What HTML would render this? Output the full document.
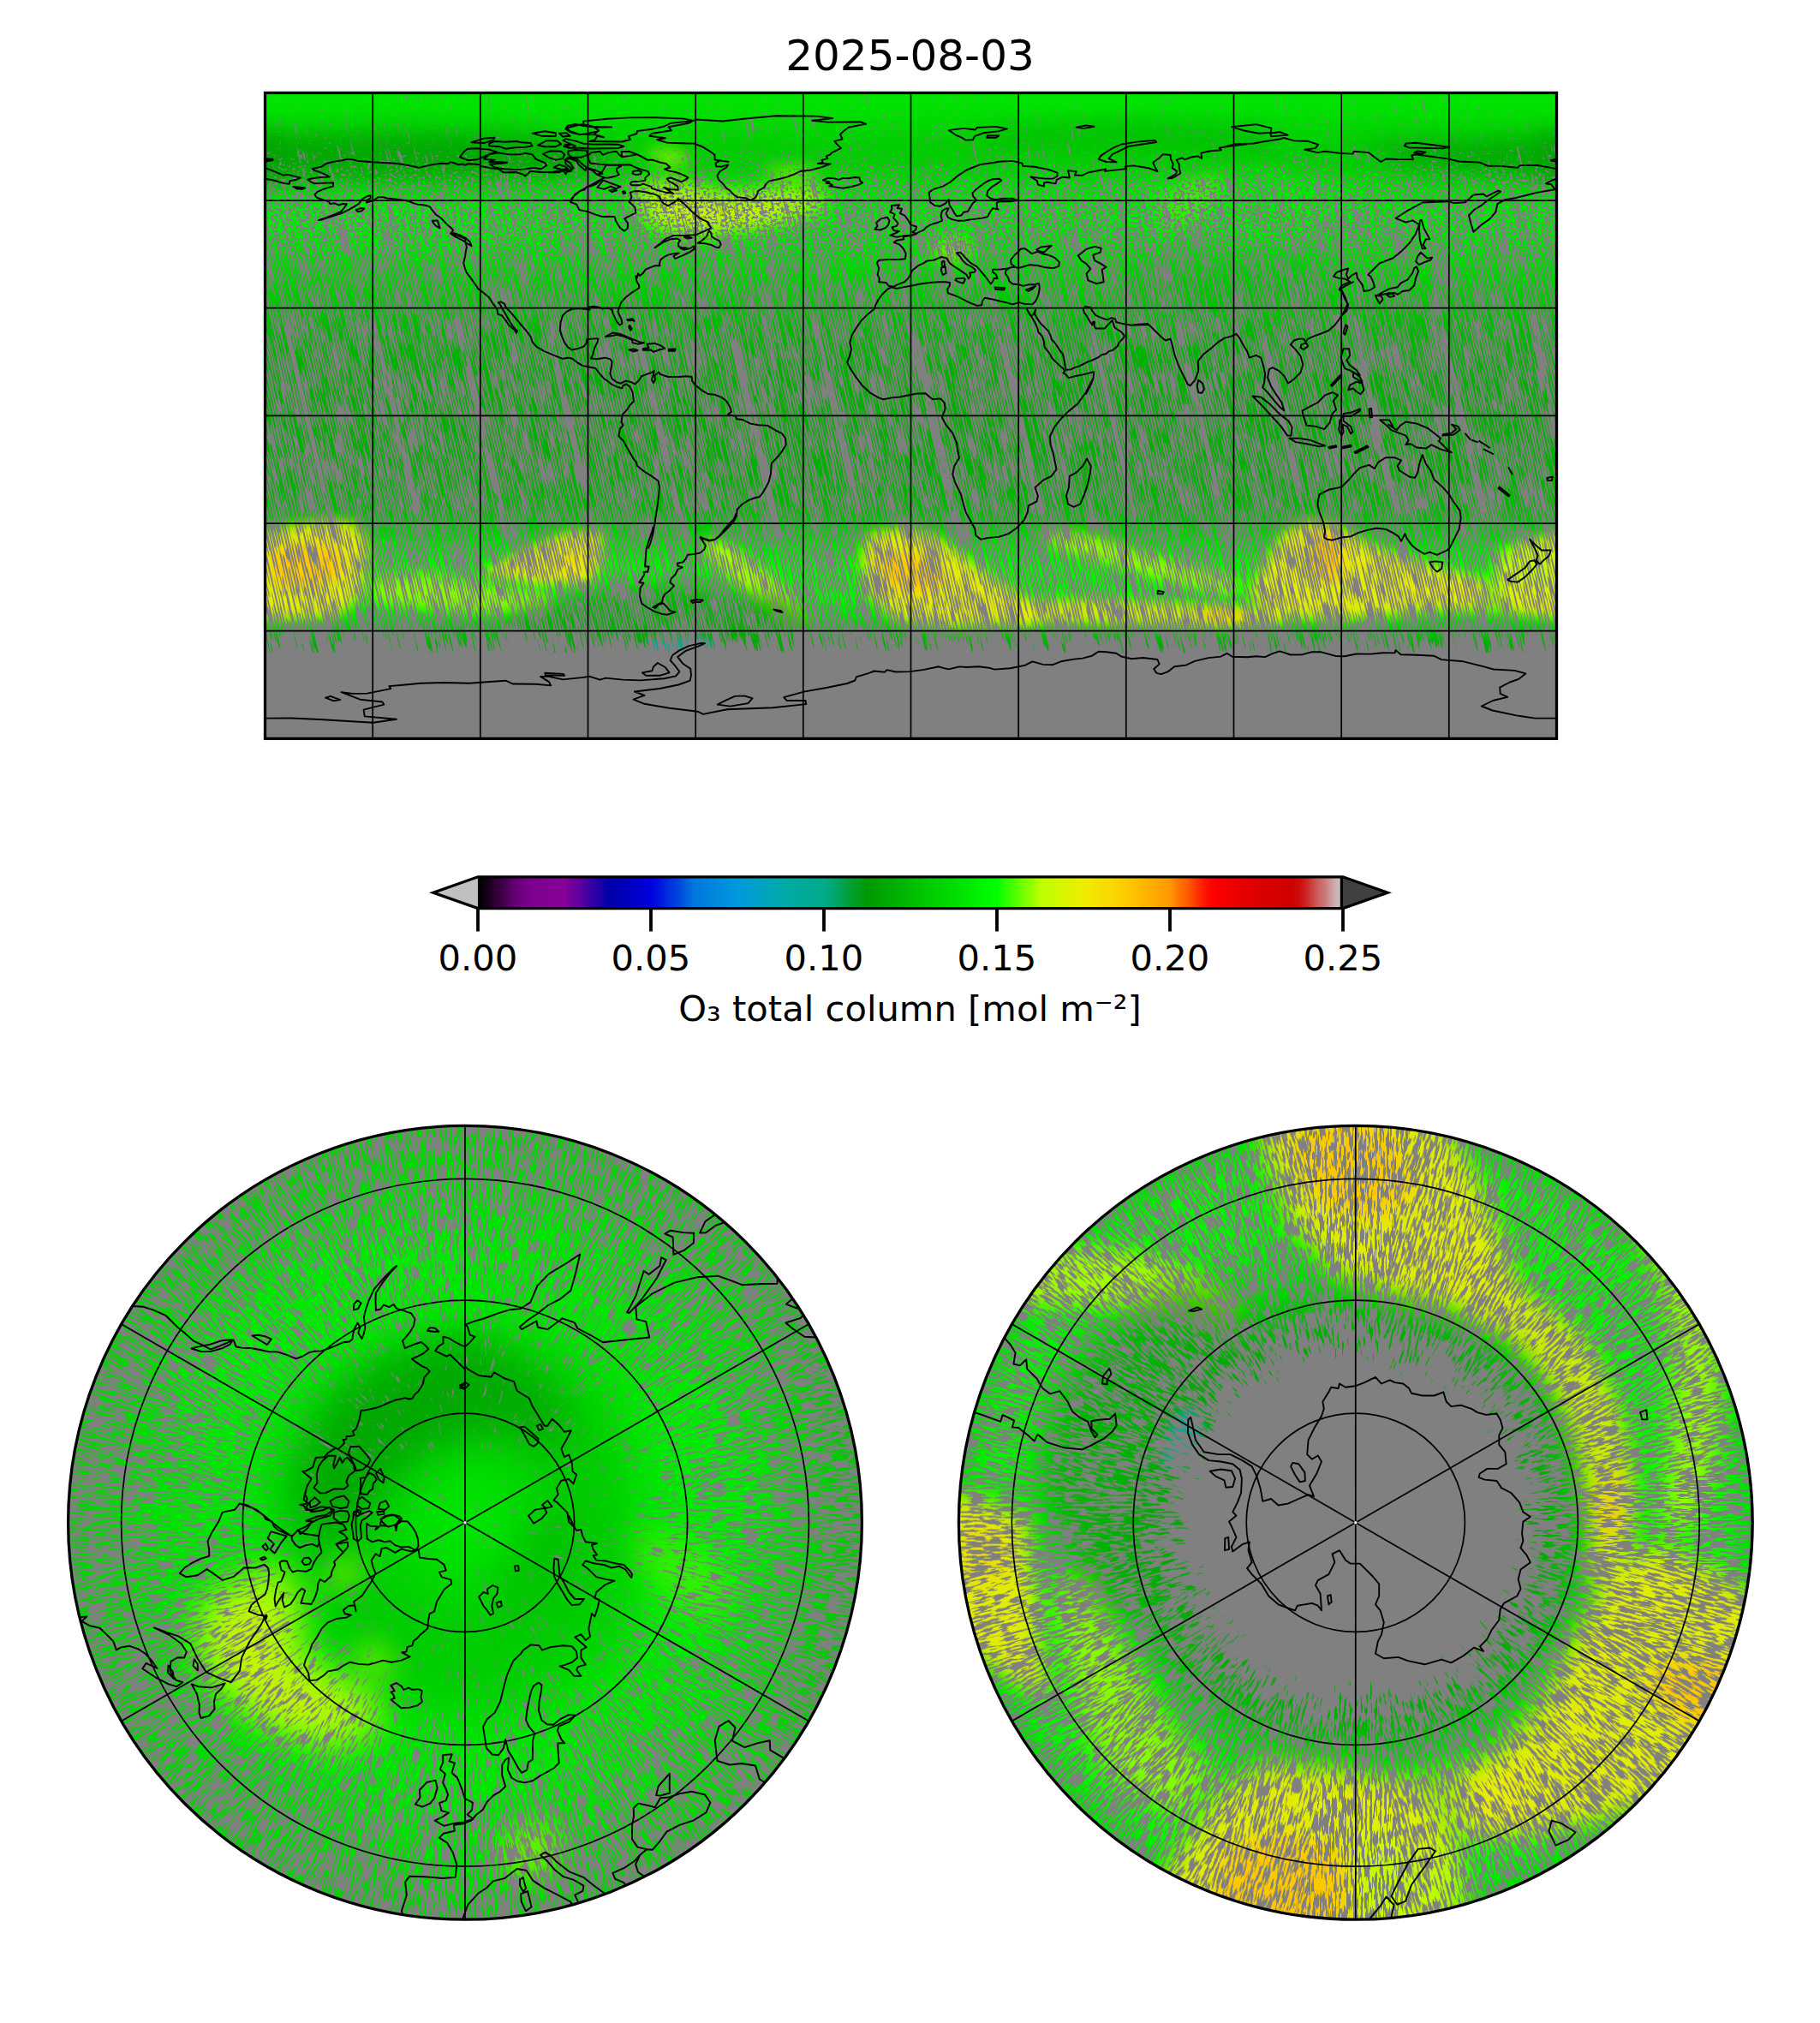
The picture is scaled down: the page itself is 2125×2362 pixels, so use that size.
<!DOCTYPE html>
<html lang="en"><head><meta charset="utf-8"><title>O3 total column 2025-08-03</title>
<style>html,body{margin:0;padding:0;background:#fff}svg{display:block}text{font-family:"DejaVu Sans","Liberation Sans",sans-serif;fill:#000}</style></head><body>
<svg width="2125" height="2362" viewBox="0 0 2125 2362">
<rect width="2125" height="2362" fill="#fff"/>
<defs><clipPath id="cm"><rect x="309.5" y="108.4" width="1508.0" height="754.0"/></clipPath>
<clipPath id="cn"><circle cx="543.0" cy="1777.8" r="463.4"/></clipPath>
<clipPath id="cs"><circle cx="1582.8" cy="1777.8" r="463.4"/></clipPath>
<linearGradient id="zm" x1="0" y1="0" x2="0" y2="1"><stop offset="0.0000" stop-color="#00e400"/><stop offset="0.0278" stop-color="#00e000"/><stop offset="0.0556" stop-color="#00d600"/><stop offset="0.0833" stop-color="#00cc00"/><stop offset="0.1111" stop-color="#00cc00"/><stop offset="0.1333" stop-color="#00d400"/><stop offset="0.1611" stop-color="#00e200"/><stop offset="0.1944" stop-color="#00e600"/><stop offset="0.2333" stop-color="#00e000"/><stop offset="0.2778" stop-color="#00d400"/><stop offset="0.3222" stop-color="#00c600"/><stop offset="0.3667" stop-color="#00b800"/><stop offset="0.4333" stop-color="#00b000"/><stop offset="0.5000" stop-color="#00ae00"/><stop offset="0.5833" stop-color="#00b000"/><stop offset="0.6444" stop-color="#00b800"/><stop offset="0.6722" stop-color="#00c800"/><stop offset="0.7000" stop-color="#00de00"/><stop offset="0.7333" stop-color="#08f000"/><stop offset="0.7778" stop-color="#08f000"/><stop offset="0.8111" stop-color="#00e000"/><stop offset="0.8333" stop-color="#00c400"/><stop offset="0.8556" stop-color="#00ac00"/><stop offset="1.0000" stop-color="#00a000"/></linearGradient>
<radialGradient id="zn" gradientUnits="userSpaceOnUse" cx="543.0" cy="1777.8" r="463.4"><stop offset="0.0000" stop-color="#00e400"/><stop offset="0.0913" stop-color="#00e000"/><stop offset="0.1829" stop-color="#00d600"/><stop offset="0.2753" stop-color="#00cc00"/><stop offset="0.3687" stop-color="#00cc00"/><stop offset="0.4445" stop-color="#00d400"/><stop offset="0.5408" stop-color="#00e200"/><stop offset="0.6593" stop-color="#00e600"/><stop offset="0.8027" stop-color="#00e000"/><stop offset="0.9751" stop-color="#00d400"/></radialGradient>
<radialGradient id="zs" gradientUnits="userSpaceOnUse" cx="1582.8" cy="1777.8" r="463.4"><stop offset="0.0000" stop-color="#00a000"/><stop offset="0.4828" stop-color="#00ac00"/><stop offset="0.5603" stop-color="#00c400"/><stop offset="0.6393" stop-color="#00e000"/><stop offset="0.7611" stop-color="#08f000"/><stop offset="0.9310" stop-color="#08f000"/><stop offset="1.0655" stop-color="#00de00"/></radialGradient>
<filter id="bm8" x="-50%" y="-50%" width="200%" height="200%"><feGaussianBlur stdDeviation="3.4"/></filter>
<filter id="bp8" x="-50%" y="-50%" width="200%" height="200%"><feGaussianBlur stdDeviation="6.4"/></filter>
<filter id="bm14" x="-50%" y="-50%" width="200%" height="200%"><feGaussianBlur stdDeviation="5.9"/></filter>
<filter id="bp14" x="-50%" y="-50%" width="200%" height="200%"><feGaussianBlur stdDeviation="11.1"/></filter>
<filter id="bm15" x="-50%" y="-50%" width="200%" height="200%"><feGaussianBlur stdDeviation="6.3"/></filter>
<filter id="bp15" x="-50%" y="-50%" width="200%" height="200%"><feGaussianBlur stdDeviation="11.9"/></filter>
<filter id="bm18" x="-50%" y="-50%" width="200%" height="200%"><feGaussianBlur stdDeviation="7.5"/></filter>
<filter id="bp18" x="-50%" y="-50%" width="200%" height="200%"><feGaussianBlur stdDeviation="14.3"/></filter>
<filter id="bm20" x="-50%" y="-50%" width="200%" height="200%"><feGaussianBlur stdDeviation="8.4"/></filter>
<filter id="bp20" x="-50%" y="-50%" width="200%" height="200%"><feGaussianBlur stdDeviation="15.9"/></filter>
<filter id="bm24" x="-50%" y="-50%" width="200%" height="200%"><feGaussianBlur stdDeviation="10.1"/></filter>
<filter id="bp24" x="-50%" y="-50%" width="200%" height="200%"><feGaussianBlur stdDeviation="19.1"/></filter>
<filter id="bm25" x="-50%" y="-50%" width="200%" height="200%"><feGaussianBlur stdDeviation="10.5"/></filter>
<filter id="bp25" x="-50%" y="-50%" width="200%" height="200%"><feGaussianBlur stdDeviation="19.9"/></filter>
<filter id="bm30" x="-50%" y="-50%" width="200%" height="200%"><feGaussianBlur stdDeviation="12.6"/></filter>
<filter id="bp30" x="-50%" y="-50%" width="200%" height="200%"><feGaussianBlur stdDeviation="23.9"/></filter>
<filter id="bm40" x="-50%" y="-50%" width="200%" height="200%"><feGaussianBlur stdDeviation="16.8"/></filter>
<filter id="bp40" x="-50%" y="-50%" width="200%" height="200%"><feGaussianBlur stdDeviation="31.8"/></filter>
<linearGradient id="dm" gradientUnits="userSpaceOnUse" x1="0" y1="108.4" x2="0" y2="862.4"><stop offset="0.0000" stop-opacity="0.499"/><stop offset="0.0778" stop-opacity="0.517"/><stop offset="0.1111" stop-opacity="0.519"/><stop offset="0.1389" stop-opacity="0.526"/><stop offset="0.1667" stop-opacity="0.526"/><stop offset="0.1944" stop-opacity="0.533"/><stop offset="0.2333" stop-opacity="0.533"/><stop offset="0.2778" stop-opacity="0.533"/><stop offset="0.3333" stop-opacity="0.533"/><stop offset="0.3889" stop-opacity="0.540"/><stop offset="0.4722" stop-opacity="0.540"/><stop offset="0.6111" stop-opacity="0.540"/><stop offset="0.6667" stop-opacity="0.533"/><stop offset="0.7500" stop-opacity="0.533"/><stop offset="0.8111" stop-opacity="0.540"/><stop offset="0.8333" stop-opacity="0.572"/><stop offset="0.8444" stop-opacity="0.591"/><stop offset="0.8556" stop-opacity="0.620"/><stop offset="0.8667" stop-opacity="0.657"/><stop offset="0.8778" stop-opacity="1.000"/><stop offset="1.0000" stop-opacity="1.000"/></linearGradient>
<linearGradient id="dma" gradientUnits="userSpaceOnUse" x1="0" y1="108.4" x2="0" y2="862.4"><stop offset="0.0000" stop-color="#fff" stop-opacity="0.000"/><stop offset="0.0778" stop-color="#fff" stop-opacity="0.000"/><stop offset="0.1111" stop-color="#fff" stop-opacity="0.014"/><stop offset="0.1389" stop-color="#fff" stop-opacity="0.037"/><stop offset="0.1667" stop-color="#fff" stop-opacity="0.092"/><stop offset="0.1944" stop-color="#fff" stop-opacity="0.108"/><stop offset="0.2333" stop-color="#fff" stop-opacity="0.165"/><stop offset="0.2778" stop-color="#fff" stop-opacity="0.210"/><stop offset="0.3333" stop-color="#fff" stop-opacity="0.238"/><stop offset="0.3889" stop-color="#fff" stop-opacity="0.250"/><stop offset="0.4722" stop-color="#fff" stop-opacity="0.258"/><stop offset="0.6111" stop-color="#fff" stop-opacity="0.255"/><stop offset="0.6667" stop-color="#fff" stop-opacity="0.249"/><stop offset="0.7500" stop-color="#fff" stop-opacity="0.238"/><stop offset="0.8111" stop-color="#fff" stop-opacity="0.233"/><stop offset="0.8333" stop-color="#fff" stop-opacity="0.199"/><stop offset="0.8444" stop-color="#fff" stop-opacity="0.186"/><stop offset="0.8556" stop-color="#fff" stop-opacity="0.159"/><stop offset="0.8667" stop-color="#fff" stop-opacity="0.095"/><stop offset="0.8778" stop-color="#fff" stop-opacity="0.000"/><stop offset="1.0000" stop-color="#fff" stop-opacity="0.000"/></linearGradient>
<mask id="dmm" maskUnits="userSpaceOnUse" x="100.4" y="106.4" width="1737.1" height="758"><rect x="100.4" y="106.4" width="1737.1" height="758" fill="url(#dma)"/></mask>
<pattern id="st" width="10" height="10" patternUnits="userSpaceOnUse"><path d="M0 0h2.0v10h-2.0zM3.333 0h2.0v10h-2.0zM6.667 0h2.0v10h-2.0z"/></pattern>
<filter id="tm" filterUnits="userSpaceOnUse" x="100.4" y="106.4" width="1737.1" height="758" color-interpolation-filters="sRGB"><feTurbulence type="fractalNoise" baseFrequency="0.3 0.03" numOctaves="2" seed="11" result="a"/><feTurbulence type="fractalNoise" baseFrequency="0.04 0.025" numOctaves="3" seed="28" result="b"/><feComposite in="b" in2="SourceGraphic" operator="arithmetic" k1="0" k2="0.14" k3="1" k4="-0.07" result="c"/><feComposite in="a" in2="c" operator="arithmetic" k1="0" k2="12" k3="40" k4="-29.5"/><feColorMatrix type="matrix" values="0 0 0 0 .502 0 0 0 0 .502 0 0 0 0 .502 0 0 0 1 0"/></filter>
<linearGradient id="dsw" gradientUnits="userSpaceOnUse" x1="0" y1="108.4" x2="0" y2="862.4"><stop offset="0" stop-opacity="0"/><stop offset=".3" stop-opacity="0"/><stop offset=".42" stop-opacity=".2"/><stop offset=".62" stop-opacity=".2"/><stop offset=".74" stop-opacity="0"/><stop offset="1" stop-opacity="0"/></linearGradient>
<linearGradient id="dd" gradientUnits="userSpaceOnUse" x1="0" y1="108.4" x2="0" y2="862.4"><stop offset="0.0000" stop-opacity="0.192"/><stop offset="0.0556" stop-opacity="0.227"/><stop offset="0.0889" stop-opacity="0.254"/><stop offset="0.1167" stop-opacity="0.350"/><stop offset="0.1444" stop-opacity="0.428"/><stop offset="0.1778" stop-opacity="0.462"/><stop offset="0.2111" stop-opacity="0.455"/><stop offset="0.2444" stop-opacity="0.410"/><stop offset="0.2722" stop-opacity="0.300"/><stop offset="0.2944" stop-opacity="0.000"/><stop offset="1.0000" stop-opacity="0.000"/></linearGradient>
<filter id="td" filterUnits="userSpaceOnUse" x="309.5" y="108.4" width="1508" height="226.2" color-interpolation-filters="sRGB"><feTurbulence type="fractalNoise" baseFrequency="0.24 0.32" numOctaves="2" seed="23" result="a"/><feTurbulence type="fractalNoise" baseFrequency="0.03 0.03" numOctaves="3" seed="40" result="b"/><feComposite in="b" in2="SourceGraphic" operator="arithmetic" k1="0" k2="0.1" k3="1" k4="-0.05" result="c"/><feComposite in="a" in2="c" operator="arithmetic" k1="0" k2="14" k3="14" k4="-13.5"/><feColorMatrix type="matrix" values="0 0 0 0 .502 0 0 0 0 .502 0 0 0 0 .502 0 0 0 1 0"/></filter>
<radialGradient id="dpn" gradientUnits="userSpaceOnUse" cx="543.0" cy="1777.8" r="469.4"><stop offset="0.0000" stop-color="#000" stop-opacity="0.228"/><stop offset="0.3270" stop-color="#000" stop-opacity="0.256"/><stop offset="0.4388" stop-color="#000" stop-opacity="0.300"/><stop offset="0.5531" stop-color="#000" stop-opacity="0.400"/><stop offset="0.6509" stop-color="#000" stop-opacity="0.438"/><stop offset="0.7514" stop-color="#000" stop-opacity="0.478"/><stop offset="0.8551" stop-color="#000" stop-opacity="0.516"/><stop offset="1.0000" stop-color="#000" stop-opacity="0.543"/></radialGradient>
<filter id="tn0" filterUnits="userSpaceOnUse" x="477.3" y="1306.4" width="131.3" height="473.4" color-interpolation-filters="sRGB"><feTurbulence type="fractalNoise" baseFrequency="0.36 0.055" numOctaves="2" seed="100" result="a"/><feTurbulence type="fractalNoise" baseFrequency="0.03 0.015" numOctaves="3" seed="117" result="b"/><feComposite in="b" in2="SourceGraphic" operator="arithmetic" k1="0" k2="0.22" k3="1" k4="-0.11" result="c"/><feComposite in="a" in2="c" operator="arithmetic" k1="0" k2="14" k3="14" k4="-13.5"/><feColorMatrix type="matrix" values="0 0 0 0 .502 0 0 0 0 .502 0 0 0 0 .502 0 0 0 1 0"/></filter>
<filter id="tn1" filterUnits="userSpaceOnUse" x="477.3" y="1306.4" width="131.3" height="473.4" color-interpolation-filters="sRGB"><feTurbulence type="fractalNoise" baseFrequency="0.36 0.055" numOctaves="2" seed="103" result="a"/><feTurbulence type="fractalNoise" baseFrequency="0.03 0.015" numOctaves="3" seed="120" result="b"/><feComposite in="b" in2="SourceGraphic" operator="arithmetic" k1="0" k2="0.22" k3="1" k4="-0.11" result="c"/><feComposite in="a" in2="c" operator="arithmetic" k1="0" k2="14" k3="14" k4="-13.5"/><feColorMatrix type="matrix" values="0 0 0 0 .502 0 0 0 0 .502 0 0 0 0 .502 0 0 0 1 0"/></filter>
<filter id="tn2" filterUnits="userSpaceOnUse" x="477.3" y="1306.4" width="131.3" height="473.4" color-interpolation-filters="sRGB"><feTurbulence type="fractalNoise" baseFrequency="0.36 0.055" numOctaves="2" seed="106" result="a"/><feTurbulence type="fractalNoise" baseFrequency="0.03 0.015" numOctaves="3" seed="123" result="b"/><feComposite in="b" in2="SourceGraphic" operator="arithmetic" k1="0" k2="0.22" k3="1" k4="-0.11" result="c"/><feComposite in="a" in2="c" operator="arithmetic" k1="0" k2="14" k3="14" k4="-13.5"/><feColorMatrix type="matrix" values="0 0 0 0 .502 0 0 0 0 .502 0 0 0 0 .502 0 0 0 1 0"/></filter>
<filter id="tn3" filterUnits="userSpaceOnUse" x="477.3" y="1306.4" width="131.3" height="473.4" color-interpolation-filters="sRGB"><feTurbulence type="fractalNoise" baseFrequency="0.36 0.055" numOctaves="2" seed="109" result="a"/><feTurbulence type="fractalNoise" baseFrequency="0.03 0.015" numOctaves="3" seed="126" result="b"/><feComposite in="b" in2="SourceGraphic" operator="arithmetic" k1="0" k2="0.22" k3="1" k4="-0.11" result="c"/><feComposite in="a" in2="c" operator="arithmetic" k1="0" k2="14" k3="14" k4="-13.5"/><feColorMatrix type="matrix" values="0 0 0 0 .502 0 0 0 0 .502 0 0 0 0 .502 0 0 0 1 0"/></filter>
<filter id="tn4" filterUnits="userSpaceOnUse" x="477.3" y="1306.4" width="131.3" height="473.4" color-interpolation-filters="sRGB"><feTurbulence type="fractalNoise" baseFrequency="0.36 0.055" numOctaves="2" seed="112" result="a"/><feTurbulence type="fractalNoise" baseFrequency="0.03 0.015" numOctaves="3" seed="129" result="b"/><feComposite in="b" in2="SourceGraphic" operator="arithmetic" k1="0" k2="0.22" k3="1" k4="-0.11" result="c"/><feComposite in="a" in2="c" operator="arithmetic" k1="0" k2="14" k3="14" k4="-13.5"/><feColorMatrix type="matrix" values="0 0 0 0 .502 0 0 0 0 .502 0 0 0 0 .502 0 0 0 1 0"/></filter>
<filter id="tn5" filterUnits="userSpaceOnUse" x="477.3" y="1306.4" width="131.3" height="473.4" color-interpolation-filters="sRGB"><feTurbulence type="fractalNoise" baseFrequency="0.36 0.055" numOctaves="2" seed="115" result="a"/><feTurbulence type="fractalNoise" baseFrequency="0.03 0.015" numOctaves="3" seed="132" result="b"/><feComposite in="b" in2="SourceGraphic" operator="arithmetic" k1="0" k2="0.22" k3="1" k4="-0.11" result="c"/><feComposite in="a" in2="c" operator="arithmetic" k1="0" k2="14" k3="14" k4="-13.5"/><feColorMatrix type="matrix" values="0 0 0 0 .502 0 0 0 0 .502 0 0 0 0 .502 0 0 0 1 0"/></filter>
<filter id="tn6" filterUnits="userSpaceOnUse" x="477.3" y="1306.4" width="131.3" height="473.4" color-interpolation-filters="sRGB"><feTurbulence type="fractalNoise" baseFrequency="0.36 0.055" numOctaves="2" seed="118" result="a"/><feTurbulence type="fractalNoise" baseFrequency="0.03 0.015" numOctaves="3" seed="135" result="b"/><feComposite in="b" in2="SourceGraphic" operator="arithmetic" k1="0" k2="0.22" k3="1" k4="-0.11" result="c"/><feComposite in="a" in2="c" operator="arithmetic" k1="0" k2="14" k3="14" k4="-13.5"/><feColorMatrix type="matrix" values="0 0 0 0 .502 0 0 0 0 .502 0 0 0 0 .502 0 0 0 1 0"/></filter>
<filter id="tn7" filterUnits="userSpaceOnUse" x="477.3" y="1306.4" width="131.3" height="473.4" color-interpolation-filters="sRGB"><feTurbulence type="fractalNoise" baseFrequency="0.36 0.055" numOctaves="2" seed="121" result="a"/><feTurbulence type="fractalNoise" baseFrequency="0.03 0.015" numOctaves="3" seed="138" result="b"/><feComposite in="b" in2="SourceGraphic" operator="arithmetic" k1="0" k2="0.22" k3="1" k4="-0.11" result="c"/><feComposite in="a" in2="c" operator="arithmetic" k1="0" k2="14" k3="14" k4="-13.5"/><feColorMatrix type="matrix" values="0 0 0 0 .502 0 0 0 0 .502 0 0 0 0 .502 0 0 0 1 0"/></filter>
<filter id="tn8" filterUnits="userSpaceOnUse" x="477.3" y="1306.4" width="131.3" height="473.4" color-interpolation-filters="sRGB"><feTurbulence type="fractalNoise" baseFrequency="0.36 0.055" numOctaves="2" seed="124" result="a"/><feTurbulence type="fractalNoise" baseFrequency="0.03 0.015" numOctaves="3" seed="141" result="b"/><feComposite in="b" in2="SourceGraphic" operator="arithmetic" k1="0" k2="0.22" k3="1" k4="-0.11" result="c"/><feComposite in="a" in2="c" operator="arithmetic" k1="0" k2="14" k3="14" k4="-13.5"/><feColorMatrix type="matrix" values="0 0 0 0 .502 0 0 0 0 .502 0 0 0 0 .502 0 0 0 1 0"/></filter>
<filter id="tn9" filterUnits="userSpaceOnUse" x="477.3" y="1306.4" width="131.3" height="473.4" color-interpolation-filters="sRGB"><feTurbulence type="fractalNoise" baseFrequency="0.36 0.055" numOctaves="2" seed="127" result="a"/><feTurbulence type="fractalNoise" baseFrequency="0.03 0.015" numOctaves="3" seed="144" result="b"/><feComposite in="b" in2="SourceGraphic" operator="arithmetic" k1="0" k2="0.22" k3="1" k4="-0.11" result="c"/><feComposite in="a" in2="c" operator="arithmetic" k1="0" k2="14" k3="14" k4="-13.5"/><feColorMatrix type="matrix" values="0 0 0 0 .502 0 0 0 0 .502 0 0 0 0 .502 0 0 0 1 0"/></filter>
<filter id="tn10" filterUnits="userSpaceOnUse" x="477.3" y="1306.4" width="131.3" height="473.4" color-interpolation-filters="sRGB"><feTurbulence type="fractalNoise" baseFrequency="0.36 0.055" numOctaves="2" seed="130" result="a"/><feTurbulence type="fractalNoise" baseFrequency="0.03 0.015" numOctaves="3" seed="147" result="b"/><feComposite in="b" in2="SourceGraphic" operator="arithmetic" k1="0" k2="0.22" k3="1" k4="-0.11" result="c"/><feComposite in="a" in2="c" operator="arithmetic" k1="0" k2="14" k3="14" k4="-13.5"/><feColorMatrix type="matrix" values="0 0 0 0 .502 0 0 0 0 .502 0 0 0 0 .502 0 0 0 1 0"/></filter>
<filter id="tn11" filterUnits="userSpaceOnUse" x="477.3" y="1306.4" width="131.3" height="473.4" color-interpolation-filters="sRGB"><feTurbulence type="fractalNoise" baseFrequency="0.36 0.055" numOctaves="2" seed="133" result="a"/><feTurbulence type="fractalNoise" baseFrequency="0.03 0.015" numOctaves="3" seed="150" result="b"/><feComposite in="b" in2="SourceGraphic" operator="arithmetic" k1="0" k2="0.22" k3="1" k4="-0.11" result="c"/><feComposite in="a" in2="c" operator="arithmetic" k1="0" k2="14" k3="14" k4="-13.5"/><feColorMatrix type="matrix" values="0 0 0 0 .502 0 0 0 0 .502 0 0 0 0 .502 0 0 0 1 0"/></filter>
<filter id="tn12" filterUnits="userSpaceOnUse" x="477.3" y="1306.4" width="131.3" height="473.4" color-interpolation-filters="sRGB"><feTurbulence type="fractalNoise" baseFrequency="0.36 0.055" numOctaves="2" seed="136" result="a"/><feTurbulence type="fractalNoise" baseFrequency="0.03 0.015" numOctaves="3" seed="153" result="b"/><feComposite in="b" in2="SourceGraphic" operator="arithmetic" k1="0" k2="0.22" k3="1" k4="-0.11" result="c"/><feComposite in="a" in2="c" operator="arithmetic" k1="0" k2="14" k3="14" k4="-13.5"/><feColorMatrix type="matrix" values="0 0 0 0 .502 0 0 0 0 .502 0 0 0 0 .502 0 0 0 1 0"/></filter>
<filter id="tn13" filterUnits="userSpaceOnUse" x="477.3" y="1306.4" width="131.3" height="473.4" color-interpolation-filters="sRGB"><feTurbulence type="fractalNoise" baseFrequency="0.36 0.055" numOctaves="2" seed="139" result="a"/><feTurbulence type="fractalNoise" baseFrequency="0.03 0.015" numOctaves="3" seed="156" result="b"/><feComposite in="b" in2="SourceGraphic" operator="arithmetic" k1="0" k2="0.22" k3="1" k4="-0.11" result="c"/><feComposite in="a" in2="c" operator="arithmetic" k1="0" k2="14" k3="14" k4="-13.5"/><feColorMatrix type="matrix" values="0 0 0 0 .502 0 0 0 0 .502 0 0 0 0 .502 0 0 0 1 0"/></filter>
<filter id="tn14" filterUnits="userSpaceOnUse" x="477.3" y="1306.4" width="131.3" height="473.4" color-interpolation-filters="sRGB"><feTurbulence type="fractalNoise" baseFrequency="0.36 0.055" numOctaves="2" seed="142" result="a"/><feTurbulence type="fractalNoise" baseFrequency="0.03 0.015" numOctaves="3" seed="159" result="b"/><feComposite in="b" in2="SourceGraphic" operator="arithmetic" k1="0" k2="0.22" k3="1" k4="-0.11" result="c"/><feComposite in="a" in2="c" operator="arithmetic" k1="0" k2="14" k3="14" k4="-13.5"/><feColorMatrix type="matrix" values="0 0 0 0 .502 0 0 0 0 .502 0 0 0 0 .502 0 0 0 1 0"/></filter>
<filter id="tn15" filterUnits="userSpaceOnUse" x="477.3" y="1306.4" width="131.3" height="473.4" color-interpolation-filters="sRGB"><feTurbulence type="fractalNoise" baseFrequency="0.36 0.055" numOctaves="2" seed="145" result="a"/><feTurbulence type="fractalNoise" baseFrequency="0.03 0.015" numOctaves="3" seed="162" result="b"/><feComposite in="b" in2="SourceGraphic" operator="arithmetic" k1="0" k2="0.22" k3="1" k4="-0.11" result="c"/><feComposite in="a" in2="c" operator="arithmetic" k1="0" k2="14" k3="14" k4="-13.5"/><feColorMatrix type="matrix" values="0 0 0 0 .502 0 0 0 0 .502 0 0 0 0 .502 0 0 0 1 0"/></filter>
<filter id="tn16" filterUnits="userSpaceOnUse" x="477.3" y="1306.4" width="131.3" height="473.4" color-interpolation-filters="sRGB"><feTurbulence type="fractalNoise" baseFrequency="0.36 0.055" numOctaves="2" seed="148" result="a"/><feTurbulence type="fractalNoise" baseFrequency="0.03 0.015" numOctaves="3" seed="165" result="b"/><feComposite in="b" in2="SourceGraphic" operator="arithmetic" k1="0" k2="0.22" k3="1" k4="-0.11" result="c"/><feComposite in="a" in2="c" operator="arithmetic" k1="0" k2="14" k3="14" k4="-13.5"/><feColorMatrix type="matrix" values="0 0 0 0 .502 0 0 0 0 .502 0 0 0 0 .502 0 0 0 1 0"/></filter>
<filter id="tn17" filterUnits="userSpaceOnUse" x="477.3" y="1306.4" width="131.3" height="473.4" color-interpolation-filters="sRGB"><feTurbulence type="fractalNoise" baseFrequency="0.36 0.055" numOctaves="2" seed="151" result="a"/><feTurbulence type="fractalNoise" baseFrequency="0.03 0.015" numOctaves="3" seed="168" result="b"/><feComposite in="b" in2="SourceGraphic" operator="arithmetic" k1="0" k2="0.22" k3="1" k4="-0.11" result="c"/><feComposite in="a" in2="c" operator="arithmetic" k1="0" k2="14" k3="14" k4="-13.5"/><feColorMatrix type="matrix" values="0 0 0 0 .502 0 0 0 0 .502 0 0 0 0 .502 0 0 0 1 0"/></filter>
<filter id="tn18" filterUnits="userSpaceOnUse" x="477.3" y="1306.4" width="131.3" height="473.4" color-interpolation-filters="sRGB"><feTurbulence type="fractalNoise" baseFrequency="0.36 0.055" numOctaves="2" seed="154" result="a"/><feTurbulence type="fractalNoise" baseFrequency="0.03 0.015" numOctaves="3" seed="171" result="b"/><feComposite in="b" in2="SourceGraphic" operator="arithmetic" k1="0" k2="0.22" k3="1" k4="-0.11" result="c"/><feComposite in="a" in2="c" operator="arithmetic" k1="0" k2="14" k3="14" k4="-13.5"/><feColorMatrix type="matrix" values="0 0 0 0 .502 0 0 0 0 .502 0 0 0 0 .502 0 0 0 1 0"/></filter>
<filter id="tn19" filterUnits="userSpaceOnUse" x="477.3" y="1306.4" width="131.3" height="473.4" color-interpolation-filters="sRGB"><feTurbulence type="fractalNoise" baseFrequency="0.36 0.055" numOctaves="2" seed="157" result="a"/><feTurbulence type="fractalNoise" baseFrequency="0.03 0.015" numOctaves="3" seed="174" result="b"/><feComposite in="b" in2="SourceGraphic" operator="arithmetic" k1="0" k2="0.22" k3="1" k4="-0.11" result="c"/><feComposite in="a" in2="c" operator="arithmetic" k1="0" k2="14" k3="14" k4="-13.5"/><feColorMatrix type="matrix" values="0 0 0 0 .502 0 0 0 0 .502 0 0 0 0 .502 0 0 0 1 0"/></filter>
<filter id="tn20" filterUnits="userSpaceOnUse" x="477.3" y="1306.4" width="131.3" height="473.4" color-interpolation-filters="sRGB"><feTurbulence type="fractalNoise" baseFrequency="0.36 0.055" numOctaves="2" seed="160" result="a"/><feTurbulence type="fractalNoise" baseFrequency="0.03 0.015" numOctaves="3" seed="177" result="b"/><feComposite in="b" in2="SourceGraphic" operator="arithmetic" k1="0" k2="0.22" k3="1" k4="-0.11" result="c"/><feComposite in="a" in2="c" operator="arithmetic" k1="0" k2="14" k3="14" k4="-13.5"/><feColorMatrix type="matrix" values="0 0 0 0 .502 0 0 0 0 .502 0 0 0 0 .502 0 0 0 1 0"/></filter>
<filter id="tn21" filterUnits="userSpaceOnUse" x="477.3" y="1306.4" width="131.3" height="473.4" color-interpolation-filters="sRGB"><feTurbulence type="fractalNoise" baseFrequency="0.36 0.055" numOctaves="2" seed="163" result="a"/><feTurbulence type="fractalNoise" baseFrequency="0.03 0.015" numOctaves="3" seed="180" result="b"/><feComposite in="b" in2="SourceGraphic" operator="arithmetic" k1="0" k2="0.22" k3="1" k4="-0.11" result="c"/><feComposite in="a" in2="c" operator="arithmetic" k1="0" k2="14" k3="14" k4="-13.5"/><feColorMatrix type="matrix" values="0 0 0 0 .502 0 0 0 0 .502 0 0 0 0 .502 0 0 0 1 0"/></filter>
<filter id="tn22" filterUnits="userSpaceOnUse" x="477.3" y="1306.4" width="131.3" height="473.4" color-interpolation-filters="sRGB"><feTurbulence type="fractalNoise" baseFrequency="0.36 0.055" numOctaves="2" seed="166" result="a"/><feTurbulence type="fractalNoise" baseFrequency="0.03 0.015" numOctaves="3" seed="183" result="b"/><feComposite in="b" in2="SourceGraphic" operator="arithmetic" k1="0" k2="0.22" k3="1" k4="-0.11" result="c"/><feComposite in="a" in2="c" operator="arithmetic" k1="0" k2="14" k3="14" k4="-13.5"/><feColorMatrix type="matrix" values="0 0 0 0 .502 0 0 0 0 .502 0 0 0 0 .502 0 0 0 1 0"/></filter>
<filter id="tn23" filterUnits="userSpaceOnUse" x="477.3" y="1306.4" width="131.3" height="473.4" color-interpolation-filters="sRGB"><feTurbulence type="fractalNoise" baseFrequency="0.36 0.055" numOctaves="2" seed="169" result="a"/><feTurbulence type="fractalNoise" baseFrequency="0.03 0.015" numOctaves="3" seed="186" result="b"/><feComposite in="b" in2="SourceGraphic" operator="arithmetic" k1="0" k2="0.22" k3="1" k4="-0.11" result="c"/><feComposite in="a" in2="c" operator="arithmetic" k1="0" k2="14" k3="14" k4="-13.5"/><feColorMatrix type="matrix" values="0 0 0 0 .502 0 0 0 0 .502 0 0 0 0 .502 0 0 0 1 0"/></filter>
<radialGradient id="dps" gradientUnits="userSpaceOnUse" cx="1582.8" cy="1777.8" r="469.4"><stop offset="0.0000" stop-color="#000" stop-opacity="0.950"/><stop offset="0.3640" stop-color="#000" stop-opacity="0.950"/><stop offset="0.4013" stop-color="#000" stop-opacity="0.778"/><stop offset="0.4388" stop-color="#000" stop-opacity="0.678"/><stop offset="0.4766" stop-color="#000" stop-opacity="0.581"/><stop offset="0.5243" stop-color="#000" stop-opacity="0.512"/><stop offset="0.7514" stop-color="#000" stop-opacity="0.491"/><stop offset="1.0000" stop-color="#000" stop-opacity="0.497"/></radialGradient>
<filter id="ts0" filterUnits="userSpaceOnUse" x="1517.1" y="1306.4" width="131.3" height="473.4" color-interpolation-filters="sRGB"><feTurbulence type="fractalNoise" baseFrequency="0.36 0.055" numOctaves="2" seed="150" result="a"/><feTurbulence type="fractalNoise" baseFrequency="0.03 0.015" numOctaves="3" seed="167" result="b"/><feComposite in="b" in2="SourceGraphic" operator="arithmetic" k1="0" k2="0.22" k3="1" k4="-0.11" result="c"/><feComposite in="a" in2="c" operator="arithmetic" k1="0" k2="14" k3="14" k4="-13.5"/><feColorMatrix type="matrix" values="0 0 0 0 .502 0 0 0 0 .502 0 0 0 0 .502 0 0 0 1 0"/></filter>
<filter id="ts1" filterUnits="userSpaceOnUse" x="1517.1" y="1306.4" width="131.3" height="473.4" color-interpolation-filters="sRGB"><feTurbulence type="fractalNoise" baseFrequency="0.36 0.055" numOctaves="2" seed="153" result="a"/><feTurbulence type="fractalNoise" baseFrequency="0.03 0.015" numOctaves="3" seed="170" result="b"/><feComposite in="b" in2="SourceGraphic" operator="arithmetic" k1="0" k2="0.22" k3="1" k4="-0.11" result="c"/><feComposite in="a" in2="c" operator="arithmetic" k1="0" k2="14" k3="14" k4="-13.5"/><feColorMatrix type="matrix" values="0 0 0 0 .502 0 0 0 0 .502 0 0 0 0 .502 0 0 0 1 0"/></filter>
<filter id="ts2" filterUnits="userSpaceOnUse" x="1517.1" y="1306.4" width="131.3" height="473.4" color-interpolation-filters="sRGB"><feTurbulence type="fractalNoise" baseFrequency="0.36 0.055" numOctaves="2" seed="156" result="a"/><feTurbulence type="fractalNoise" baseFrequency="0.03 0.015" numOctaves="3" seed="173" result="b"/><feComposite in="b" in2="SourceGraphic" operator="arithmetic" k1="0" k2="0.22" k3="1" k4="-0.11" result="c"/><feComposite in="a" in2="c" operator="arithmetic" k1="0" k2="14" k3="14" k4="-13.5"/><feColorMatrix type="matrix" values="0 0 0 0 .502 0 0 0 0 .502 0 0 0 0 .502 0 0 0 1 0"/></filter>
<filter id="ts3" filterUnits="userSpaceOnUse" x="1517.1" y="1306.4" width="131.3" height="473.4" color-interpolation-filters="sRGB"><feTurbulence type="fractalNoise" baseFrequency="0.36 0.055" numOctaves="2" seed="159" result="a"/><feTurbulence type="fractalNoise" baseFrequency="0.03 0.015" numOctaves="3" seed="176" result="b"/><feComposite in="b" in2="SourceGraphic" operator="arithmetic" k1="0" k2="0.22" k3="1" k4="-0.11" result="c"/><feComposite in="a" in2="c" operator="arithmetic" k1="0" k2="14" k3="14" k4="-13.5"/><feColorMatrix type="matrix" values="0 0 0 0 .502 0 0 0 0 .502 0 0 0 0 .502 0 0 0 1 0"/></filter>
<filter id="ts4" filterUnits="userSpaceOnUse" x="1517.1" y="1306.4" width="131.3" height="473.4" color-interpolation-filters="sRGB"><feTurbulence type="fractalNoise" baseFrequency="0.36 0.055" numOctaves="2" seed="162" result="a"/><feTurbulence type="fractalNoise" baseFrequency="0.03 0.015" numOctaves="3" seed="179" result="b"/><feComposite in="b" in2="SourceGraphic" operator="arithmetic" k1="0" k2="0.22" k3="1" k4="-0.11" result="c"/><feComposite in="a" in2="c" operator="arithmetic" k1="0" k2="14" k3="14" k4="-13.5"/><feColorMatrix type="matrix" values="0 0 0 0 .502 0 0 0 0 .502 0 0 0 0 .502 0 0 0 1 0"/></filter>
<filter id="ts5" filterUnits="userSpaceOnUse" x="1517.1" y="1306.4" width="131.3" height="473.4" color-interpolation-filters="sRGB"><feTurbulence type="fractalNoise" baseFrequency="0.36 0.055" numOctaves="2" seed="165" result="a"/><feTurbulence type="fractalNoise" baseFrequency="0.03 0.015" numOctaves="3" seed="182" result="b"/><feComposite in="b" in2="SourceGraphic" operator="arithmetic" k1="0" k2="0.22" k3="1" k4="-0.11" result="c"/><feComposite in="a" in2="c" operator="arithmetic" k1="0" k2="14" k3="14" k4="-13.5"/><feColorMatrix type="matrix" values="0 0 0 0 .502 0 0 0 0 .502 0 0 0 0 .502 0 0 0 1 0"/></filter>
<filter id="ts6" filterUnits="userSpaceOnUse" x="1517.1" y="1306.4" width="131.3" height="473.4" color-interpolation-filters="sRGB"><feTurbulence type="fractalNoise" baseFrequency="0.36 0.055" numOctaves="2" seed="168" result="a"/><feTurbulence type="fractalNoise" baseFrequency="0.03 0.015" numOctaves="3" seed="185" result="b"/><feComposite in="b" in2="SourceGraphic" operator="arithmetic" k1="0" k2="0.22" k3="1" k4="-0.11" result="c"/><feComposite in="a" in2="c" operator="arithmetic" k1="0" k2="14" k3="14" k4="-13.5"/><feColorMatrix type="matrix" values="0 0 0 0 .502 0 0 0 0 .502 0 0 0 0 .502 0 0 0 1 0"/></filter>
<filter id="ts7" filterUnits="userSpaceOnUse" x="1517.1" y="1306.4" width="131.3" height="473.4" color-interpolation-filters="sRGB"><feTurbulence type="fractalNoise" baseFrequency="0.36 0.055" numOctaves="2" seed="171" result="a"/><feTurbulence type="fractalNoise" baseFrequency="0.03 0.015" numOctaves="3" seed="188" result="b"/><feComposite in="b" in2="SourceGraphic" operator="arithmetic" k1="0" k2="0.22" k3="1" k4="-0.11" result="c"/><feComposite in="a" in2="c" operator="arithmetic" k1="0" k2="14" k3="14" k4="-13.5"/><feColorMatrix type="matrix" values="0 0 0 0 .502 0 0 0 0 .502 0 0 0 0 .502 0 0 0 1 0"/></filter>
<filter id="ts8" filterUnits="userSpaceOnUse" x="1517.1" y="1306.4" width="131.3" height="473.4" color-interpolation-filters="sRGB"><feTurbulence type="fractalNoise" baseFrequency="0.36 0.055" numOctaves="2" seed="174" result="a"/><feTurbulence type="fractalNoise" baseFrequency="0.03 0.015" numOctaves="3" seed="191" result="b"/><feComposite in="b" in2="SourceGraphic" operator="arithmetic" k1="0" k2="0.22" k3="1" k4="-0.11" result="c"/><feComposite in="a" in2="c" operator="arithmetic" k1="0" k2="14" k3="14" k4="-13.5"/><feColorMatrix type="matrix" values="0 0 0 0 .502 0 0 0 0 .502 0 0 0 0 .502 0 0 0 1 0"/></filter>
<filter id="ts9" filterUnits="userSpaceOnUse" x="1517.1" y="1306.4" width="131.3" height="473.4" color-interpolation-filters="sRGB"><feTurbulence type="fractalNoise" baseFrequency="0.36 0.055" numOctaves="2" seed="177" result="a"/><feTurbulence type="fractalNoise" baseFrequency="0.03 0.015" numOctaves="3" seed="194" result="b"/><feComposite in="b" in2="SourceGraphic" operator="arithmetic" k1="0" k2="0.22" k3="1" k4="-0.11" result="c"/><feComposite in="a" in2="c" operator="arithmetic" k1="0" k2="14" k3="14" k4="-13.5"/><feColorMatrix type="matrix" values="0 0 0 0 .502 0 0 0 0 .502 0 0 0 0 .502 0 0 0 1 0"/></filter>
<filter id="ts10" filterUnits="userSpaceOnUse" x="1517.1" y="1306.4" width="131.3" height="473.4" color-interpolation-filters="sRGB"><feTurbulence type="fractalNoise" baseFrequency="0.36 0.055" numOctaves="2" seed="180" result="a"/><feTurbulence type="fractalNoise" baseFrequency="0.03 0.015" numOctaves="3" seed="197" result="b"/><feComposite in="b" in2="SourceGraphic" operator="arithmetic" k1="0" k2="0.22" k3="1" k4="-0.11" result="c"/><feComposite in="a" in2="c" operator="arithmetic" k1="0" k2="14" k3="14" k4="-13.5"/><feColorMatrix type="matrix" values="0 0 0 0 .502 0 0 0 0 .502 0 0 0 0 .502 0 0 0 1 0"/></filter>
<filter id="ts11" filterUnits="userSpaceOnUse" x="1517.1" y="1306.4" width="131.3" height="473.4" color-interpolation-filters="sRGB"><feTurbulence type="fractalNoise" baseFrequency="0.36 0.055" numOctaves="2" seed="183" result="a"/><feTurbulence type="fractalNoise" baseFrequency="0.03 0.015" numOctaves="3" seed="200" result="b"/><feComposite in="b" in2="SourceGraphic" operator="arithmetic" k1="0" k2="0.22" k3="1" k4="-0.11" result="c"/><feComposite in="a" in2="c" operator="arithmetic" k1="0" k2="14" k3="14" k4="-13.5"/><feColorMatrix type="matrix" values="0 0 0 0 .502 0 0 0 0 .502 0 0 0 0 .502 0 0 0 1 0"/></filter>
<filter id="ts12" filterUnits="userSpaceOnUse" x="1517.1" y="1306.4" width="131.3" height="473.4" color-interpolation-filters="sRGB"><feTurbulence type="fractalNoise" baseFrequency="0.36 0.055" numOctaves="2" seed="186" result="a"/><feTurbulence type="fractalNoise" baseFrequency="0.03 0.015" numOctaves="3" seed="203" result="b"/><feComposite in="b" in2="SourceGraphic" operator="arithmetic" k1="0" k2="0.22" k3="1" k4="-0.11" result="c"/><feComposite in="a" in2="c" operator="arithmetic" k1="0" k2="14" k3="14" k4="-13.5"/><feColorMatrix type="matrix" values="0 0 0 0 .502 0 0 0 0 .502 0 0 0 0 .502 0 0 0 1 0"/></filter>
<filter id="ts13" filterUnits="userSpaceOnUse" x="1517.1" y="1306.4" width="131.3" height="473.4" color-interpolation-filters="sRGB"><feTurbulence type="fractalNoise" baseFrequency="0.36 0.055" numOctaves="2" seed="189" result="a"/><feTurbulence type="fractalNoise" baseFrequency="0.03 0.015" numOctaves="3" seed="206" result="b"/><feComposite in="b" in2="SourceGraphic" operator="arithmetic" k1="0" k2="0.22" k3="1" k4="-0.11" result="c"/><feComposite in="a" in2="c" operator="arithmetic" k1="0" k2="14" k3="14" k4="-13.5"/><feColorMatrix type="matrix" values="0 0 0 0 .502 0 0 0 0 .502 0 0 0 0 .502 0 0 0 1 0"/></filter>
<filter id="ts14" filterUnits="userSpaceOnUse" x="1517.1" y="1306.4" width="131.3" height="473.4" color-interpolation-filters="sRGB"><feTurbulence type="fractalNoise" baseFrequency="0.36 0.055" numOctaves="2" seed="192" result="a"/><feTurbulence type="fractalNoise" baseFrequency="0.03 0.015" numOctaves="3" seed="209" result="b"/><feComposite in="b" in2="SourceGraphic" operator="arithmetic" k1="0" k2="0.22" k3="1" k4="-0.11" result="c"/><feComposite in="a" in2="c" operator="arithmetic" k1="0" k2="14" k3="14" k4="-13.5"/><feColorMatrix type="matrix" values="0 0 0 0 .502 0 0 0 0 .502 0 0 0 0 .502 0 0 0 1 0"/></filter>
<filter id="ts15" filterUnits="userSpaceOnUse" x="1517.1" y="1306.4" width="131.3" height="473.4" color-interpolation-filters="sRGB"><feTurbulence type="fractalNoise" baseFrequency="0.36 0.055" numOctaves="2" seed="195" result="a"/><feTurbulence type="fractalNoise" baseFrequency="0.03 0.015" numOctaves="3" seed="212" result="b"/><feComposite in="b" in2="SourceGraphic" operator="arithmetic" k1="0" k2="0.22" k3="1" k4="-0.11" result="c"/><feComposite in="a" in2="c" operator="arithmetic" k1="0" k2="14" k3="14" k4="-13.5"/><feColorMatrix type="matrix" values="0 0 0 0 .502 0 0 0 0 .502 0 0 0 0 .502 0 0 0 1 0"/></filter>
<filter id="ts16" filterUnits="userSpaceOnUse" x="1517.1" y="1306.4" width="131.3" height="473.4" color-interpolation-filters="sRGB"><feTurbulence type="fractalNoise" baseFrequency="0.36 0.055" numOctaves="2" seed="198" result="a"/><feTurbulence type="fractalNoise" baseFrequency="0.03 0.015" numOctaves="3" seed="215" result="b"/><feComposite in="b" in2="SourceGraphic" operator="arithmetic" k1="0" k2="0.22" k3="1" k4="-0.11" result="c"/><feComposite in="a" in2="c" operator="arithmetic" k1="0" k2="14" k3="14" k4="-13.5"/><feColorMatrix type="matrix" values="0 0 0 0 .502 0 0 0 0 .502 0 0 0 0 .502 0 0 0 1 0"/></filter>
<filter id="ts17" filterUnits="userSpaceOnUse" x="1517.1" y="1306.4" width="131.3" height="473.4" color-interpolation-filters="sRGB"><feTurbulence type="fractalNoise" baseFrequency="0.36 0.055" numOctaves="2" seed="201" result="a"/><feTurbulence type="fractalNoise" baseFrequency="0.03 0.015" numOctaves="3" seed="218" result="b"/><feComposite in="b" in2="SourceGraphic" operator="arithmetic" k1="0" k2="0.22" k3="1" k4="-0.11" result="c"/><feComposite in="a" in2="c" operator="arithmetic" k1="0" k2="14" k3="14" k4="-13.5"/><feColorMatrix type="matrix" values="0 0 0 0 .502 0 0 0 0 .502 0 0 0 0 .502 0 0 0 1 0"/></filter>
<filter id="ts18" filterUnits="userSpaceOnUse" x="1517.1" y="1306.4" width="131.3" height="473.4" color-interpolation-filters="sRGB"><feTurbulence type="fractalNoise" baseFrequency="0.36 0.055" numOctaves="2" seed="204" result="a"/><feTurbulence type="fractalNoise" baseFrequency="0.03 0.015" numOctaves="3" seed="221" result="b"/><feComposite in="b" in2="SourceGraphic" operator="arithmetic" k1="0" k2="0.22" k3="1" k4="-0.11" result="c"/><feComposite in="a" in2="c" operator="arithmetic" k1="0" k2="14" k3="14" k4="-13.5"/><feColorMatrix type="matrix" values="0 0 0 0 .502 0 0 0 0 .502 0 0 0 0 .502 0 0 0 1 0"/></filter>
<filter id="ts19" filterUnits="userSpaceOnUse" x="1517.1" y="1306.4" width="131.3" height="473.4" color-interpolation-filters="sRGB"><feTurbulence type="fractalNoise" baseFrequency="0.36 0.055" numOctaves="2" seed="207" result="a"/><feTurbulence type="fractalNoise" baseFrequency="0.03 0.015" numOctaves="3" seed="224" result="b"/><feComposite in="b" in2="SourceGraphic" operator="arithmetic" k1="0" k2="0.22" k3="1" k4="-0.11" result="c"/><feComposite in="a" in2="c" operator="arithmetic" k1="0" k2="14" k3="14" k4="-13.5"/><feColorMatrix type="matrix" values="0 0 0 0 .502 0 0 0 0 .502 0 0 0 0 .502 0 0 0 1 0"/></filter>
<filter id="ts20" filterUnits="userSpaceOnUse" x="1517.1" y="1306.4" width="131.3" height="473.4" color-interpolation-filters="sRGB"><feTurbulence type="fractalNoise" baseFrequency="0.36 0.055" numOctaves="2" seed="210" result="a"/><feTurbulence type="fractalNoise" baseFrequency="0.03 0.015" numOctaves="3" seed="227" result="b"/><feComposite in="b" in2="SourceGraphic" operator="arithmetic" k1="0" k2="0.22" k3="1" k4="-0.11" result="c"/><feComposite in="a" in2="c" operator="arithmetic" k1="0" k2="14" k3="14" k4="-13.5"/><feColorMatrix type="matrix" values="0 0 0 0 .502 0 0 0 0 .502 0 0 0 0 .502 0 0 0 1 0"/></filter>
<filter id="ts21" filterUnits="userSpaceOnUse" x="1517.1" y="1306.4" width="131.3" height="473.4" color-interpolation-filters="sRGB"><feTurbulence type="fractalNoise" baseFrequency="0.36 0.055" numOctaves="2" seed="213" result="a"/><feTurbulence type="fractalNoise" baseFrequency="0.03 0.015" numOctaves="3" seed="230" result="b"/><feComposite in="b" in2="SourceGraphic" operator="arithmetic" k1="0" k2="0.22" k3="1" k4="-0.11" result="c"/><feComposite in="a" in2="c" operator="arithmetic" k1="0" k2="14" k3="14" k4="-13.5"/><feColorMatrix type="matrix" values="0 0 0 0 .502 0 0 0 0 .502 0 0 0 0 .502 0 0 0 1 0"/></filter>
<filter id="ts22" filterUnits="userSpaceOnUse" x="1517.1" y="1306.4" width="131.3" height="473.4" color-interpolation-filters="sRGB"><feTurbulence type="fractalNoise" baseFrequency="0.36 0.055" numOctaves="2" seed="216" result="a"/><feTurbulence type="fractalNoise" baseFrequency="0.03 0.015" numOctaves="3" seed="233" result="b"/><feComposite in="b" in2="SourceGraphic" operator="arithmetic" k1="0" k2="0.22" k3="1" k4="-0.11" result="c"/><feComposite in="a" in2="c" operator="arithmetic" k1="0" k2="14" k3="14" k4="-13.5"/><feColorMatrix type="matrix" values="0 0 0 0 .502 0 0 0 0 .502 0 0 0 0 .502 0 0 0 1 0"/></filter>
<filter id="ts23" filterUnits="userSpaceOnUse" x="1517.1" y="1306.4" width="131.3" height="473.4" color-interpolation-filters="sRGB"><feTurbulence type="fractalNoise" baseFrequency="0.36 0.055" numOctaves="2" seed="219" result="a"/><feTurbulence type="fractalNoise" baseFrequency="0.03 0.015" numOctaves="3" seed="236" result="b"/><feComposite in="b" in2="SourceGraphic" operator="arithmetic" k1="0" k2="0.22" k3="1" k4="-0.11" result="c"/><feComposite in="a" in2="c" operator="arithmetic" k1="0" k2="14" k3="14" k4="-13.5"/><feColorMatrix type="matrix" values="0 0 0 0 .502 0 0 0 0 .502 0 0 0 0 .502 0 0 0 1 0"/></filter>
<linearGradient id="cb" x1="0" x2="1" y1="0" y2="0"><stop offset="0" stop-color="#000000"/><stop offset="0.01" stop-color="#130015"/><stop offset="0.02" stop-color="#2f0035"/><stop offset="0.03" stop-color="#41004b"/><stop offset="0.04" stop-color="#5d006b"/><stop offset="0.05" stop-color="#700080"/><stop offset="0.06" stop-color="#7a008b"/><stop offset="0.07" stop-color="#7d008e"/><stop offset="0.08" stop-color="#810092"/><stop offset="0.09" stop-color="#850096"/><stop offset="0.1" stop-color="#870098"/><stop offset="0.11" stop-color="#6d009c"/><stop offset="0.12" stop-color="#58009f"/><stop offset="0.13" stop-color="#3800a3"/><stop offset="0.14" stop-color="#2300a6"/><stop offset="0.15" stop-color="#0300aa"/><stop offset="0.16" stop-color="#0000b1"/><stop offset="0.17" stop-color="#0000bd"/><stop offset="0.18" stop-color="#0000c9"/><stop offset="0.19" stop-color="#0000d1"/><stop offset="0.2" stop-color="#0000dd"/><stop offset="0.21" stop-color="#0013dd"/><stop offset="0.22" stop-color="#002fdd"/><stop offset="0.23" stop-color="#0041dd"/><stop offset="0.24" stop-color="#005ddd"/><stop offset="0.25" stop-color="#0078dd"/><stop offset="0.26" stop-color="#007ddd"/><stop offset="0.27" stop-color="#0085dd"/><stop offset="0.28" stop-color="#008add"/><stop offset="0.29" stop-color="#0092dd"/><stop offset="0.3" stop-color="#0098dd"/><stop offset="0.31" stop-color="#009cd3"/><stop offset="0.32" stop-color="#009fcb"/><stop offset="0.33" stop-color="#00a3bf"/><stop offset="0.34" stop-color="#00a7b3"/><stop offset="0.35" stop-color="#00aaab"/><stop offset="0.36" stop-color="#00aaa3"/><stop offset="0.37" stop-color="#00aa9d"/><stop offset="0.38" stop-color="#00aa95"/><stop offset="0.39" stop-color="#00aa90"/><stop offset="0.4" stop-color="#00aa88"/><stop offset="0.41" stop-color="#00a773"/><stop offset="0.42" stop-color="#00a353"/><stop offset="0.43" stop-color="#009f33"/><stop offset="0.44" stop-color="#009d1d"/><stop offset="0.45" stop-color="#009a00"/><stop offset="0.46" stop-color="#009f00"/><stop offset="0.47" stop-color="#00a700"/><stop offset="0.48" stop-color="#00ac00"/><stop offset="0.49" stop-color="#00b400"/><stop offset="0.5" stop-color="#00bc00"/><stop offset="0.51" stop-color="#00c200"/><stop offset="0.52" stop-color="#00ca00"/><stop offset="0.53" stop-color="#00cf00"/><stop offset="0.54" stop-color="#00d700"/><stop offset="0.55" stop-color="#00dc00"/><stop offset="0.56" stop-color="#00e400"/><stop offset="0.57" stop-color="#00ea00"/><stop offset="0.58" stop-color="#00f200"/><stop offset="0.59" stop-color="#00fa00"/><stop offset="0.6" stop-color="#00ff00"/><stop offset="0.61" stop-color="#2cff00"/><stop offset="0.62" stop-color="#49ff00"/><stop offset="0.63" stop-color="#75ff00"/><stop offset="0.64" stop-color="#93ff00"/><stop offset="0.65" stop-color="#bcff00"/><stop offset="0.66" stop-color="#c4fc00"/><stop offset="0.67" stop-color="#d0f800"/><stop offset="0.68" stop-color="#dcf400"/><stop offset="0.69" stop-color="#e4f100"/><stop offset="0.7" stop-color="#efed00"/><stop offset="0.71" stop-color="#f1e700"/><stop offset="0.72" stop-color="#f5df00"/><stop offset="0.73" stop-color="#f8da00"/><stop offset="0.74" stop-color="#fcd200"/><stop offset="0.75" stop-color="#ffc900"/><stop offset="0.76" stop-color="#ffc100"/><stop offset="0.77" stop-color="#ffb500"/><stop offset="0.78" stop-color="#ffad00"/><stop offset="0.79" stop-color="#ffa100"/><stop offset="0.8" stop-color="#ff9900"/><stop offset="0.81" stop-color="#ff7500"/><stop offset="0.82" stop-color="#ff5d00"/><stop offset="0.83" stop-color="#ff3900"/><stop offset="0.84" stop-color="#ff1500"/><stop offset="0.85" stop-color="#fe0000"/><stop offset="0.86" stop-color="#f60000"/><stop offset="0.87" stop-color="#f10000"/><stop offset="0.88" stop-color="#e90000"/><stop offset="0.89" stop-color="#e40000"/><stop offset="0.9" stop-color="#dc0000"/><stop offset="0.91" stop-color="#da0000"/><stop offset="0.92" stop-color="#d60000"/><stop offset="0.93" stop-color="#d20000"/><stop offset="0.94" stop-color="#cf0000"/><stop offset="0.95" stop-color="#cc0c0c"/><stop offset="0.96" stop-color="#cc2c2c"/><stop offset="0.97" stop-color="#cc5c5c"/><stop offset="0.98" stop-color="#cc7c7c"/><stop offset="0.99" stop-color="#ccacac"/><stop offset="1" stop-color="#cccccc"/></linearGradient></defs>
<g clip-path="url(#cm)">
<rect x="309.5" y="108.4" width="1508.0" height="754.0" fill="url(#zm)"/>
<path d="M288.6 158.7L435.2 154.5L602.7 158.7L707.4 171.2L728.4 192.2L644.6 206.8L477.1 211L288.6 211ZM1796.6 158.7L1943.2 154.5L2110.7 158.7L2215.4 171.2L2236.4 192.2L2152.6 206.8L1985.1 211L1796.6 211Z" fill="#00a400" opacity="0.9" filter="url(#bm30)"/>
<path d="M1587.1 171.2L1691.8 167L1838.4 158.7L1838.4 211L1733.7 204.7L1649.9 196.4ZM79.1 171.2L183.8 167L330.4 158.7L330.4 211L225.7 204.7L141.9 196.4Z" fill="#00a400" opacity="0.85" filter="url(#bm30)"/>
<path d="M1147.3 150.3L1314.8 141.9L1482.4 150.3L1482.4 171.2L1314.8 167L1147.3 167Z" fill="#00a400" opacity="0.45" filter="url(#bm30)"/>
<path d="M309.5 234.1L435.2 229.9L560.8 242.4L644.6 259.2L560.8 292.7L435.2 284.3L309.5 276ZM1817.5 234.1L1943.2 229.9L2068.8 242.4L2152.6 259.2L2068.8 292.7L1943.2 284.3L1817.5 276Z" fill="#00f000" opacity="0.5" filter="url(#bm30)"/>
<path d="M736.8 217.3L787 208.9L845.7 225.7L895.9 221.5L946.2 217.3L971.3 234.1L937.8 255L875 267.6L812.2 276L761.9 267.6L745.1 242.4Z" fill="#bbfe00" opacity="0.85" filter="url(#bm25)"/>
<path d="M770.3 229.9L820.5 234.1L862.4 242.4L895.9 234.1L921.1 242.4L879.2 259.2L820.5 263.4L778.7 255Z" fill="#eeec00" opacity="0.45" filter="url(#bm20)"/>
<path d="M749.3 175.4L787 171.2L812.2 188L778.7 196.4Z" fill="#bbfe00" opacity="0.6" filter="url(#bm20)"/>
<path d="M887.6 196.4L937.8 192.2L963 204.7L912.7 213.1Z" fill="#bbfe00" opacity="0.5" filter="url(#bm20)"/>
<path d="M1088.6 284.3L1122.1 276L1138.9 292.7L1113.8 309.5L1088.6 301.1Z" fill="#bbfe00" opacity="0.55" filter="url(#bm20)"/>
<path d="M1348.3 234.1L1398.6 208.9L1432.1 208.9L1415.4 242.4L1381.9 263.4L1356.7 259.2Z" fill="#bbfe00" opacity="0.55" filter="url(#bm25)"/>
<path d="M1314.8 217.3L1482.4 200.6L1608.1 225.7L1566.2 267.6L1440.5 276L1314.8 259.2Z" fill="#00f000" opacity="0.5" filter="url(#bm30)"/>
<path d="M1314.8 309.5L1524.3 301.1L1587.1 334.6L1482.4 359.7L1314.8 351.4Z" fill="#00b400" opacity="0.4" filter="url(#bm40)"/>
<path d="M338.8 613.2L376.5 606.9L414.2 609L431 636.2L422.6 694.8L393.3 720L330.4 724.2L259.2 711.6L238.3 669.7L267.6 636.2L305.3 623.6ZM1846.8 613.2L1884.5 606.9L1922.2 609L1939 636.2L1930.6 694.8L1901.3 720L1838.4 724.2L1767.2 711.6L1746.3 669.7L1775.6 636.2L1813.3 623.6Z" fill="#eeec00" opacity="0.95" filter="url(#bm18)"/>
<path d="M309.5 644.6L351.4 636.2L393.3 636.2L401.7 669.7L368.1 686.5L317.9 682.3ZM1817.5 644.6L1859.4 636.2L1901.3 636.2L1909.7 669.7L1876.1 686.5L1825.9 682.3Z" fill="#ffc400" opacity="0.9" filter="url(#bm15)"/>
<path d="M1746.3 644.6L1784 632L1817.5 636.2L1817.5 703.2L1775.6 703.2L1750.5 678.1ZM238.3 644.6L276 632L309.5 636.2L309.5 703.2L267.6 703.2L242.5 678.1Z" fill="#bbfe00" opacity="0.8" filter="url(#bm18)"/>
<path d="M560.8 669.7L611.1 642.5L661.4 621.5L703.3 619.4L703.3 653L690.7 682.3L627.9 682.3Z" fill="#eeec00" opacity="0.95" filter="url(#bm15)"/>
<path d="M644.6 657.1L678.1 644.6L686.5 665.5L653 669.7Z" fill="#ffc400" opacity="0.4" filter="url(#bm15)"/>
<path d="M435.2 673.9L498 669.7L560.8 682.3L644.6 694.8L644.6 715.8L539.9 715.8L435.2 703.2Z" fill="#bbfe00" opacity="0.7" filter="url(#bm18)"/>
<path d="M824.7 627.8L854.1 636.2L887.6 661.3L925.3 694.8L946.2 728.4L912.7 732.5L879.2 703.2L845.7 669.7L820.5 644.6Z" fill="#bbfe00" opacity="0.85" filter="url(#bm15)"/>
<path d="M1013.2 623.6L1055.1 615.3L1097 627.8L1130.5 653L1164 678.1L1205.9 703.2L1205.9 728.4L1105.4 732.5L1046.7 724.2L1013.2 694.8L1004.9 653Z" fill="#eeec00" opacity="0.95" filter="url(#bm18)"/>
<path d="M1021.6 653L1055.1 644.6L1088.6 653L1105.4 678.1L1080.3 694.8L1038.4 686.5Z" fill="#ffc400" opacity="0.9" filter="url(#bm15)"/>
<path d="M1189.2 703.2L1272.9 699L1356.7 703.2L1440.5 707.4L1499.1 711.6L1499.1 728.4L1398.6 732.5L1272.9 728.4L1189.2 728.4Z" fill="#eeec00" opacity="0.85" filter="url(#bm15)"/>
<path d="M1390.2 711.6L1440.5 711.6L1465.6 724.2L1415.4 728.4Z" fill="#ffc400" opacity="0.7" filter="url(#bm14)"/>
<path d="M1214.3 619.4L1272.9 623.6L1331.6 644.6L1390.2 661.3L1448.9 678.1L1440.5 694.8L1373.5 682.3L1306.5 661.3L1231.1 640.4Z" fill="#bbfe00" opacity="0.8" filter="url(#bm18)"/>
<path d="M1499.1 619.4L1532.7 606.9L1566.2 615.3L1599.7 636.2L1649.9 653L1700.2 669.7L1733.7 682.3L1725.3 707.4L1649.9 715.8L1566.2 724.2L1482.4 720L1457.3 694.8L1474 661.3Z" fill="#eeec00" opacity="0.95" filter="url(#bm18)"/>
<path d="M1532.7 623.6L1557.8 619.4L1570.4 644.6L1566.2 678.1L1541 678.1L1528.5 653Z" fill="#ffc400" opacity="0.95" filter="url(#bm15)"/>
<path d="M1683.5 669.7L1733.7 678.1L1784 682.3L1825.9 686.5L1825.9 715.8L1733.7 715.8L1683.5 707.4ZM175.5 669.7L225.7 678.1L276 682.3L317.9 686.5L317.9 715.8L225.7 715.8L175.5 707.4Z" fill="#eeec00" opacity="0.6" filter="url(#bm18)"/>
<path d="M594.3 720L686.5 690.7L803.8 682.3L912.7 699L954.6 728.4L895.9 761.9L728.4 766.1L594.3 753.5Z" fill="#00a400" opacity="0.75" filter="url(#bm24)"/>
<path d="M753.5 747.2L812.2 743L837.3 749.3L812.2 764L761.9 761.9Z" fill="#00a9ab" opacity="0.9" filter="url(#bm8)"/>
<path d="M711.6 686.5L770.3 694.8L820.5 720L795.4 745.1L711.6 736.7Z" fill="#00b400" opacity="0.5" filter="url(#bm18)"/>
<path d="M477.1 728.4L644.6 728.4L644.6 749.3L477.1 749.3Z" fill="#00b400" opacity="0.35" filter="url(#bm18)"/>
<g transform="skewX(13.0)" filter="url(#tm)"><rect x="100.4" y="106.4" width="1737.1" height="758" fill="url(#dm)"/><rect x="100.4" y="106.4" width="1737.1" height="758" fill="url(#st)" mask="url(#dmm)"/><g fill="url(#dsw)"><rect x="135.3" y="108.4" width="5.8" height="754"/><rect x="243.2" y="108.4" width="5.4" height="754"/><rect x="345.8" y="108.4" width="6.8" height="754"/><rect x="444.1" y="108.4" width="7.5" height="754"/><rect x="547.8" y="108.4" width="7.2" height="754"/><rect x="652.2" y="108.4" width="5.5" height="754"/><rect x="760.5" y="108.4" width="9.1" height="754"/><rect x="860.9" y="108.4" width="6.1" height="754"/><rect x="970.9" y="108.4" width="9.7" height="754"/><rect x="1074.3" y="108.4" width="7" height="754"/><rect x="1183.1" y="108.4" width="5.2" height="754"/><rect x="1285.7" y="108.4" width="6.4" height="754"/><rect x="1381.1" y="108.4" width="5.6" height="754"/><rect x="1487.1" y="108.4" width="9.1" height="754"/><rect x="1589.6" y="108.4" width="7.9" height="754"/><rect x="1699.1" y="108.4" width="6.9" height="754"/><rect x="1802" y="108.4" width="5.3" height="754"/></g></g>
<rect x="309.5" y="108.4" width="1508" height="226.2" fill="url(#dd)" filter="url(#td)"/>
</g>
<g clip-path="url(#cn)">
<circle cx="543.0" cy="1777.8" r="465.4" fill="url(#zn)"/>
<path d="M551.9 1676.3L548.4 1676.6L545 1676.9L541.5 1677.4L538.2 1678L534.8 1678.7L531.5 1679.5L528.2 1680.4L525 1681.4L521.9 1682.5L518.8 1683.8L515.7 1685.1L512.8 1686.5L509.8 1688.1L507 1689.7L504.2 1691.4L501.5 1693.2L498.9 1695L496.3 1697L493.3 1698.3L490.3 1699.7L487.4 1701.3L484.5 1702.9L481.7 1704.7L478.9 1706.6L476.1 1708.5L473.4 1710.6L470.8 1712.8L468.3 1715.1L465.8 1717.5L463.4 1719.9L461 1722.5L458.8 1725.2L456.6 1727.9L454.6 1730.8L452.6 1733.7L450.7 1736.7L449 1739.8L447.3 1743L444.3 1745.6L441.4 1748.4L438.5 1751.3L435.8 1754.4L433.1 1757.7L430.5 1761.1L428.1 1764.6L425.7 1768.3L423.5 1772.2L421.4 1776.2L419.4 1780.3L417.6 1784.5L415.9 1788.9L402 1794.3L388.3 1800.5L374.7 1807.5L370.8 1802L367 1796.3L363.4 1790.4L360 1784.2L356.8 1777.8L353.9 1771.2L351.2 1764.4L348.7 1757.4L346.5 1750.2L344.5 1742.8L345.4 1735.8L346.6 1728.8L348 1721.9L349.6 1715L351.5 1708.1L353.7 1701.3L356.1 1694.6L358.7 1687.9L361.5 1681.3L364.6 1674.8L368 1668.4L371.5 1662.1L375.3 1656L379.3 1649.9L383.5 1644L388 1638.2L392.6 1632.6L397.5 1627.1L402.5 1621.8L407.8 1616.6L413.3 1612.1L419.1 1607.8L425 1603.6L431 1599.7L437.1 1596L443.4 1592.5L449.8 1589.2L456.3 1586.1L462.9 1583.3L469.5 1580.6L476.3 1578.3L483.2 1576.1L490.1 1574.2L497.1 1572.5L504.1 1571L511.2 1569.8L518.3 1568.9L525.5 1568.1L532.6 1567.7L539.8 1567.4L547 1567.4L554.2 1567.7L561.3 1568.2L560 1583.9L558.6 1599.5L557.2 1615L555.9 1630.5L554.5 1645.8L553.2 1661.1Z" fill="#00a400" opacity="0.9" filter="url(#bp30)"/>
<path d="M647.5 1704.6L644.5 1701.6L641.3 1698.6L638.1 1695.8L634.8 1693.1L631.5 1690.5L628 1688.1L624.5 1685.8L621 1683.6L617.4 1681.6L613.7 1679.7L610 1677.9L606.3 1676.3L602.5 1674.8L598.5 1673.6L594.5 1672.7L590.5 1671.9L586.6 1671.2L582.6 1670.7L578.6 1670.3L574.7 1670.1L570.8 1670L566.9 1670L563.1 1670.2L559.2 1670.5L555.5 1671L551.8 1671.6L548.1 1672.3L544.5 1673.1L541 1674.1L537.5 1675.2L534.1 1676.3L532.8 1661.1L531.5 1645.8L530.1 1630.5L528.8 1615L527.4 1599.5L526 1583.9L524.7 1568.2L531.8 1568.7L538.8 1569.5L545.8 1570.5L552.7 1571.7L559.5 1573.2L566.3 1574.9L572.9 1576.8L579.5 1578.9L585.9 1581.2L592.2 1583.7L598.4 1586.5L604.5 1589.4L610.4 1592.5L616.2 1596.6L621.8 1600.9L627.1 1605.4L632.3 1609.9L637.2 1614.7L641.9 1619.6L646.4 1624.6L650.6 1629.7L654.6 1634.9L658.4 1640.2L658.5 1649L658.1 1657.5L657.4 1665.9L656.2 1674.1L654.6 1682.1L652.6 1689.9L650.2 1697.4Z" fill="#00a400" opacity="0.85" filter="url(#bp30)"/>
<path d="M572 1857.5L574.4 1855.6L576.8 1853.7L579 1851.7L581.2 1849.6L583.3 1847.5L585.2 1845.4L587.1 1843.1L588.8 1840.9L590.5 1838.6L592 1836.2L593.5 1833.8L594.8 1831.4L596 1829L597.1 1826.6L598.2 1824.1L599.1 1821.6L599.9 1819.1L600.6 1816.6L601.2 1814.2L601.7 1811.7L603.6 1810L605.4 1808.2L607.2 1806.4L609 1804.5L610.7 1802.4L612.3 1800.3L613.9 1798.1L615.3 1795.8L616.8 1793.5L618.1 1791L619.4 1788.5L620.5 1785.9L621.6 1783.3L622.6 1780.6L623.5 1777.8L624.3 1775L625 1772.1L625.6 1769.1L626.1 1766.1L626.5 1763.1L640.5 1760.6L654.5 1758.1L668.6 1755.6L668.9 1760.1L669 1764.6L669 1769L668.8 1773.4L668.4 1777.8L667.9 1782.2L667.3 1786.5L666.5 1790.8L665.5 1795L664.4 1799.2L663.2 1803.3L661.8 1807.4L660.3 1811.4L658.6 1815.4L656.8 1819.2L654.9 1823L652.9 1826.7L650.7 1830.3L648.4 1833.9L646 1837.3L643.9 1840.8L641.6 1844.3L639.3 1847.7L636.8 1851.1L634.1 1854.3L631.4 1857.4L628.6 1860.4L625.6 1863.4L622.6 1866.2L619.5 1868.9L616.3 1871.6L612.9 1874.1L609.5 1876.4L606 1878.7L602.5 1880.8L598.9 1882.9L595.2 1884.7L591.4 1886.5L587.6 1888.1L583.7 1889.6L577.8 1873.5Z" fill="#00a400" opacity="0.45" filter="url(#bp30)"/>
<path d="M543 1518.2L534 1518.9L525 1520L516 1521.4L507.2 1523.1L498.4 1525.1L489.8 1527.4L481.2 1530L472.8 1532.9L464.4 1536L456.3 1539.5L448.2 1543.2L440.3 1547.2L432.6 1551.5L425.1 1556L417.7 1560.8L409.2 1563.7L400.8 1567L392.5 1570.7L384.3 1574.6L376.1 1578.9L368.1 1583.5L360.1 1588.4L352.3 1593.7L344.6 1599.2L337.1 1605.1L329.8 1611.2L322.6 1617.7L315.7 1624.5L308.9 1631.5L302.4 1638.9L294.4 1645.6L286.7 1652.8L279.1 1660.3L271.7 1668.2L264.6 1676.5L257.7 1685.1L251.1 1694.1L244.7 1703.4L238.7 1713.1L232.9 1723.1L227.7 1710.8L222.9 1698L218.6 1684.8L214.8 1671.2L211.6 1657.2L208.9 1642.8L206.7 1628.1L205.2 1613L204.3 1597.7L203.9 1582L212.1 1571L220.6 1560.3L229.4 1550L238.6 1540L248.1 1530.4L257.9 1521.1L268 1512.2L278.3 1503.7L288.9 1495.6L299.7 1487.9L310.8 1480.6L322.1 1473.7L333.6 1467.3L345.2 1461.3L357 1455.7L369 1450.5L381.1 1445.8L393.3 1441.5L405.6 1437.7L418 1434.3L430.4 1431.4L443 1428.9L455.5 1426.9L468.1 1425.3L480.6 1424.2L493.2 1423.5L505.7 1423.2L518.2 1423.4L530.6 1424.1L543 1425.1L543 1444.1L543 1463L543 1481.5L543 1499.9Z" fill="#00f000" opacity="0.5" filter="url(#bp30)"/>
<path d="M324.2 1824.3L328.8 1831.2L333.7 1837.8L338.7 1844.2L343.9 1850.3L349.3 1856.1L354.8 1861.6L353.3 1870.3L352.2 1879.2L351.5 1888.4L351.1 1897.7L351.2 1907.2L351.7 1916.8L352.6 1926.5L359.1 1932.1L365.7 1937.5L372.4 1942.5L379.3 1947.3L386.3 1951.8L393.5 1956L400.7 1959.9L408 1963.6L415.4 1967L422.9 1970L430.4 1972.8L438 1975.3L439.7 1989.6L442.3 2004L445.7 2018.5L432.8 2025.4L419.2 2031.7L405 2037.3L390.2 2042.4L379.8 2040.2L369.4 2037.6L358.9 2034.7L348.5 2031.3L338.1 2027.5L327.7 2023.3L317.3 2018.7L307.1 2013.7L297.8 2007.5L288.6 2000.9L279.6 1994L270.8 1986.7L262.1 1979.1L253.7 1971.1L245.5 1962.8L237.6 1954.1L234.4 1941.9L231.7 1929.6L229.5 1917.4L227.8 1905.2L226.5 1893L225.7 1880.9L241.4 1868.1L257.3 1856.1L273.4 1845L290.4 1837.7L307.3 1830.8Z" fill="#bbfe00" opacity="0.85" filter="url(#bp25)"/>
<path d="M307.5 1863.5L309.3 1872.2L311.3 1881L313.7 1889.6L316.4 1898.3L319.5 1906.9L322.8 1915.4L324.7 1925L327.1 1934.7L329.8 1944.4L333 1954.1L336.5 1963.7L346.4 1967.6L356.3 1971.1L366.2 1974.1L376.1 1976.7L379.4 1987.2L383.3 1997.7L387.6 2008.2L375.4 2008.5L362.9 2008.3L350.2 2007.6L337.3 2006.2L324.3 2004.3L315.6 1997.4L307 1990.3L298.7 1982.8L290.7 1974.9L282.9 1966.8L275.3 1958.4L268 1949.6L265.5 1938L263.4 1926.5L261.7 1915L260.5 1903.6L259.7 1892.3L275.6 1882.2L291.6 1872.6Z" fill="#eeec00" opacity="0.45" filter="url(#bp20)"/>
<path d="M411.5 1813L414.3 1816.7L417.2 1820.1L420.2 1823.5L423.3 1826.7L426.5 1829.7L418 1838.8L410 1848.5L402.6 1858.9L396 1856L389.4 1852.7L382.9 1849.1L376.5 1845.1L384.7 1836.2L393.3 1827.9L402.3 1820.2Z" fill="#bbfe00" opacity="0.6" filter="url(#bp20)"/>
<path d="M422.8 1911.3L428.5 1914.3L434.2 1917L440 1919.6L445.8 1921.9L451.7 1923.9L457.6 1925.8L458.7 1936.4L460.4 1947.1L462.8 1957.9L455.3 1957.6L447.7 1957.1L440 1956.2L432.3 1955L424.5 1953.4L416.7 1951.6L418 1937.8L420 1924.3Z" fill="#bbfe00" opacity="0.5" filter="url(#bp20)"/>
<path d="M581.9 2147.7L594.1 2141.3L605.9 2134.6L617.3 2127.5L628.3 2120L645.5 2135.4L664 2150.1L654.5 2166.8L644.1 2183.4L632.7 2199.8L616.7 2196L601.2 2191.7L586 2186.9L583.9 2167.2Z" fill="#bbfe00" opacity="0.55" filter="url(#bp20)"/>
<path d="M783.7 1875.1L778.5 1863.5L772.8 1852.5L766.6 1841.9L760.1 1831.9L753.1 1822.5L745.8 1813.6L747 1806.5L747.8 1799.3L748.5 1792.2L748.8 1785L766.4 1789.5L784 1794.7L801.7 1800.4L819.3 1806.8L829.5 1818.1L839.3 1830L848.7 1842.8L857.6 1856.2L851.7 1866.3L845.4 1876.1L838.9 1885.5L820.2 1882.4L801.8 1878.9Z" fill="#bbfe00" opacity="0.55" filter="url(#bp25)"/>
<path d="M736.7 1889.7L739 1882L740.9 1874.3L742.5 1866.6L743.8 1858.9L744.9 1851.3L745.6 1843.6L746.1 1836L746.3 1828.5L746.2 1821L745.8 1813.6L745.2 1806.2L744.3 1799L743.2 1791.8L741.8 1784.7L740.1 1777.8L738.3 1771L736.2 1764.3L733.8 1757.7L731.3 1751.3L728.5 1745.1L730.7 1737.9L732.6 1730.5L734.2 1723L735.5 1715.2L736.5 1707.4L737.2 1699.3L737.6 1691.1L737.7 1682.9L737.4 1674.4L736.7 1665.9L735.7 1657.4L734.4 1648.7L732.7 1640L730.6 1631.3L728.1 1622.5L747.6 1617.9L767.8 1614.5L788.6 1612.1L810 1611L832 1611L838.7 1620.6L845.2 1630.4L851.3 1640.6L857 1650.9L862.5 1661.5L867.5 1672.4L872.2 1683.4L876.6 1694.6L880.5 1706.1L884.1 1717.7L887.2 1729.4L890 1741.3L892.3 1753.4L894.2 1765.5L895.7 1777.8L892.9 1790L889.7 1802L886.2 1813.9L882.2 1825.5L877.8 1836.8L873.1 1848L868 1858.8L862.5 1869.4L856.7 1879.7L850.6 1889.8L844.2 1899.5L837.5 1908.9L830.5 1918L823.2 1926.8L815.7 1935.2L799.6 1925.9L783.6 1916.7L767.9 1907.6L752.2 1898.6Z" fill="#00f000" opacity="0.5" filter="url(#bp30)"/>
<path d="M916.6 1993.5L923.2 1980L929.3 1966.2L934.9 1952.3L940 1938.2L944.6 1924L948.7 1909.6L952.3 1895.2L955.3 1880.6L957.9 1866L959.9 1851.3L961.4 1836.6L962.4 1821.9L962.9 1807.2L962.9 1792.5L962.3 1777.8L961.3 1763.2L959.7 1748.7L957.6 1734.2L955.1 1719.9L952 1705.7L948.5 1691.6L944.4 1677.7L939.9 1664L934.9 1650.4L929.5 1637.1L934 1620.8L937.9 1604L941.2 1586.8L943.8 1569.2L945.8 1551.1L947 1532.6L947.6 1513.8L947.4 1494.6L960.8 1505.7L974 1517.3L986.8 1529.5L999.3 1542.2L1011.5 1555.5L1023.3 1569.3L1034.7 1583.7L1045.8 1598.6L1056.3 1614L1066.5 1630L1076.1 1646.4L1085.3 1663.3L1094 1680.7L1095.9 1700.1L1097.1 1719.6L1097.7 1739L1097.6 1758.4L1096.8 1777.8L1095.4 1797.1L1093.2 1816.3L1090.5 1835.3L1087 1854.3L1082.9 1873L1078.2 1891.6L1072.8 1909.9L1066.8 1928L1060.2 1945.8L1052.9 1963.4L1045.1 1980.7L1036.7 1997.6L1027.8 2014.2L1018.2 2030.5L1008.2 2046.4L989.2 2035.4L970.6 2024.7L952.3 2014.1L934.3 2003.7Z" fill="#00b400" opacity="0.4" filter="url(#bp40)"/>
<g transform="rotate(0 543.0 1777.8)" filter="url(#tn0)"><path d="M543.0 1777.8L479.3 1308.4L606.7 1308.4Z" fill="url(#dpn)"/></g>
<g transform="rotate(15 543.0 1777.8)" filter="url(#tn1)"><path d="M543.0 1777.8L479.3 1308.4L606.7 1308.4Z" fill="url(#dpn)"/></g>
<g transform="rotate(30 543.0 1777.8)" filter="url(#tn2)"><path d="M543.0 1777.8L479.3 1308.4L606.7 1308.4Z" fill="url(#dpn)"/></g>
<g transform="rotate(45 543.0 1777.8)" filter="url(#tn3)"><path d="M543.0 1777.8L479.3 1308.4L606.7 1308.4Z" fill="url(#dpn)"/></g>
<g transform="rotate(60 543.0 1777.8)" filter="url(#tn4)"><path d="M543.0 1777.8L479.3 1308.4L606.7 1308.4Z" fill="url(#dpn)"/></g>
<g transform="rotate(75 543.0 1777.8)" filter="url(#tn5)"><path d="M543.0 1777.8L479.3 1308.4L606.7 1308.4Z" fill="url(#dpn)"/></g>
<g transform="rotate(90 543.0 1777.8)" filter="url(#tn6)"><path d="M543.0 1777.8L479.3 1308.4L606.7 1308.4Z" fill="url(#dpn)"/></g>
<g transform="rotate(105 543.0 1777.8)" filter="url(#tn7)"><path d="M543.0 1777.8L479.3 1308.4L606.7 1308.4Z" fill="url(#dpn)"/></g>
<g transform="rotate(120 543.0 1777.8)" filter="url(#tn8)"><path d="M543.0 1777.8L479.3 1308.4L606.7 1308.4Z" fill="url(#dpn)"/></g>
<g transform="rotate(135 543.0 1777.8)" filter="url(#tn9)"><path d="M543.0 1777.8L479.3 1308.4L606.7 1308.4Z" fill="url(#dpn)"/></g>
<g transform="rotate(150 543.0 1777.8)" filter="url(#tn10)"><path d="M543.0 1777.8L479.3 1308.4L606.7 1308.4Z" fill="url(#dpn)"/></g>
<g transform="rotate(165 543.0 1777.8)" filter="url(#tn11)"><path d="M543.0 1777.8L479.3 1308.4L606.7 1308.4Z" fill="url(#dpn)"/></g>
<g transform="rotate(180 543.0 1777.8)" filter="url(#tn12)"><path d="M543.0 1777.8L479.3 1308.4L606.7 1308.4Z" fill="url(#dpn)"/></g>
<g transform="rotate(195 543.0 1777.8)" filter="url(#tn13)"><path d="M543.0 1777.8L479.3 1308.4L606.7 1308.4Z" fill="url(#dpn)"/></g>
<g transform="rotate(210 543.0 1777.8)" filter="url(#tn14)"><path d="M543.0 1777.8L479.3 1308.4L606.7 1308.4Z" fill="url(#dpn)"/></g>
<g transform="rotate(225 543.0 1777.8)" filter="url(#tn15)"><path d="M543.0 1777.8L479.3 1308.4L606.7 1308.4Z" fill="url(#dpn)"/></g>
<g transform="rotate(240 543.0 1777.8)" filter="url(#tn16)"><path d="M543.0 1777.8L479.3 1308.4L606.7 1308.4Z" fill="url(#dpn)"/></g>
<g transform="rotate(255 543.0 1777.8)" filter="url(#tn17)"><path d="M543.0 1777.8L479.3 1308.4L606.7 1308.4Z" fill="url(#dpn)"/></g>
<g transform="rotate(270 543.0 1777.8)" filter="url(#tn18)"><path d="M543.0 1777.8L479.3 1308.4L606.7 1308.4Z" fill="url(#dpn)"/></g>
<g transform="rotate(285 543.0 1777.8)" filter="url(#tn19)"><path d="M543.0 1777.8L479.3 1308.4L606.7 1308.4Z" fill="url(#dpn)"/></g>
<g transform="rotate(300 543.0 1777.8)" filter="url(#tn20)"><path d="M543.0 1777.8L479.3 1308.4L606.7 1308.4Z" fill="url(#dpn)"/></g>
<g transform="rotate(315 543.0 1777.8)" filter="url(#tn21)"><path d="M543.0 1777.8L479.3 1308.4L606.7 1308.4Z" fill="url(#dpn)"/></g>
<g transform="rotate(330 543.0 1777.8)" filter="url(#tn22)"><path d="M543.0 1777.8L479.3 1308.4L606.7 1308.4Z" fill="url(#dpn)"/></g>
<g transform="rotate(345 543.0 1777.8)" filter="url(#tn23)"><path d="M543.0 1777.8L479.3 1308.4L606.7 1308.4Z" fill="url(#dpn)"/></g>
</g>
<g clip-path="url(#cs)">
<circle cx="1582.8" cy="1777.8" r="465.4" fill="url(#zs)"/>
<path d="M1515.3 2327.5L1497.6 2328.4L1479.7 2328.8L1461.7 2328.6L1443.6 2327.8L1425.5 2326.5L1408.7 2320.2L1392.1 2313.4L1375.8 2306.1L1359.7 2298.2L1344 2290L1343.1 2269.3L1342.7 2249L1342.8 2229.1L1343.4 2209.6L1355.7 2192.3L1367.7 2175.2L1379.3 2158.2L1390.6 2141.5L1401.6 2124.8L1412.3 2108.4L1422.7 2092L1438.5 2083.9L1453.5 2075.1L1467.9 2065.9L1481.5 2056.2L1491 2058.3L1500.5 2060L1510.1 2061.4L1519.7 2062.5L1529.2 2063.3L1538.8 2063.8L1548.3 2063.9L1557.8 2063.7L1567.1 2067.5L1576.5 2070.9L1586.2 2074L1596.1 2076.8L1606.2 2079.3L1616.5 2081.5L1626.9 2083.3L1637.5 2084.7L1648.3 2085.8L1657.9 2102.9L1668.1 2120L1679.1 2137.1L1690.7 2154.1L1703.1 2171.1L1696.3 2194L1688.3 2217.2L1679 2240.5L1668.5 2264L1654.1 2272.8L1639.3 2281.2L1623.9 2289.2L1608.2 2296.8L1592 2303.8L1573.5 2310.7L1554.5 2317L1535.1 2322.6Z" fill="#eeec00" opacity="0.95" filter="url(#bp18)"/>
<path d="M1582.8 2250.4L1566.2 2254.3L1549.2 2257.6L1532.1 2260.4L1514.7 2262.5L1497.1 2264L1480.1 2260.7L1463.4 2256.9L1446.7 2252.4L1430.2 2247.4L1413.9 2241.8L1417.3 2220.5L1420.9 2199.6L1424.7 2179.2L1428.7 2159.2L1445.5 2155L1461.8 2150.1L1477.6 2144.7L1492.8 2138.7L1505.1 2143.2L1517.6 2147.3L1530.4 2151L1543.2 2154.2L1556.3 2156.9L1569.5 2159.3L1571.6 2177L1574.1 2195L1576.7 2213.2L1579.6 2231.7Z" fill="#ffc400" opacity="0.9" filter="url(#bp15)"/>
<path d="M1721 2229.8L1708.4 2240L1695.3 2249.8L1681.7 2259.4L1667.6 2268.5L1653 2277.3L1635.2 2276.8L1617.6 2275.7L1600.1 2273.9L1582.8 2271.5L1582.8 2250.4L1582.8 2229.7L1582.8 2209.2L1582.8 2189.1L1582.8 2169.3L1582.8 2149.8L1582.8 2130.5L1582.8 2111.5L1594.4 2111.3L1606.1 2110.6L1617.7 2109.6L1629.2 2108.2L1640.7 2106.4L1656.1 2122.8L1672.8 2138.7L1690.7 2154.1L1697.9 2172.7L1705.3 2191.5L1713 2210.5Z" fill="#bbfe00" opacity="0.8" filter="url(#bp18)"/>
<path d="M1226.6 1983.5L1210 1976L1193.5 1967.7L1177 1958.5L1160.7 1948.4L1144.4 1937.4L1128.3 1925.5L1115 1911.9L1102 1897.7L1089.4 1882.7L1077.2 1867L1065.4 1850.5L1054.1 1833.4L1051.4 1815L1049.3 1796.4L1047.9 1777.8L1047.1 1759.1L1047 1740.3L1068.8 1741.9L1090.3 1743.4L1111.3 1744.8L1132 1746.3L1149.5 1753.2L1166.9 1759.6L1184.1 1765.6L1201.2 1771.1L1201.1 1783.6L1201.5 1796.1L1202.3 1808.6L1203.6 1821L1205.2 1833.4L1207.2 1845.7L1209.6 1858L1212.4 1870.1L1212.4 1884L1212.8 1898L1213.8 1912.1L1215.2 1926.3L1217.3 1940.5L1219.8 1954.8L1222.9 1969.1Z" fill="#eeec00" opacity="0.95" filter="url(#bp15)"/>
<path d="M1147.9 1854.5L1137.9 1840.3L1128.3 1825.6L1119.1 1810.2L1110.5 1794.3L1127.6 1788.4L1144.6 1782.9L1161.5 1777.8L1164.2 1792.4L1167.5 1806.8L1171.3 1821.1L1175.5 1835L1161.7 1844.5Z" fill="#ffc400" opacity="0.4" filter="url(#bp15)"/>
<path d="M1382.1 2125.4L1370.2 2119.7L1358.4 2113.6L1346.8 2107.1L1335.4 2100.2L1324.2 2092.9L1313.2 2085.2L1302.5 2077.1L1292 2068.6L1285.3 2056.4L1279.2 2044.1L1273.5 2031.6L1268.3 2019.1L1263.6 2006.6L1259.3 1993.9L1255.5 1981.3L1252.2 1968.6L1248.4 1955.6L1245 1942.6L1242.1 1929.5L1239.7 1916.4L1237.8 1903.4L1236.4 1890.4L1235.5 1877.4L1235 1864.5L1235 1851.7L1235.5 1839L1251.1 1836.3L1266.6 1833.6L1281.9 1830.9L1283.9 1840.9L1286.2 1850.9L1288.8 1860.8L1291.7 1870.7L1295 1880.4L1298.6 1890L1302.5 1899.4L1306.8 1908.8L1311.3 1918L1316.2 1927L1321.3 1935.9L1326.8 1944.5L1332.5 1953L1336.8 1962.6L1341.5 1972.1L1346.5 1981.5L1351.9 1990.8L1357.7 1999.9L1363.8 2008.9L1370.2 2017.8L1377 2026.4L1384.1 2034.9L1391.6 2043.2L1399.4 2051.3L1407.5 2059.1L1416 2066.8L1407.7 2081.2L1399.2 2095.7L1390.7 2110.5Z" fill="#bbfe00" opacity="0.7" filter="url(#bp18)"/>
<path d="M1150.7 1497.2L1163.9 1487.2L1177.3 1477.8L1190.9 1468.8L1204.6 1460.4L1227.7 1458.1L1250.3 1456.7L1272.5 1456.5L1294.1 1457.2L1314.7 1460.6L1334.7 1464.8L1354.1 1469.8L1372.7 1475.5L1390.7 1482L1407.2 1494.1L1423 1506.5L1438 1519.3L1452.4 1532.5L1445 1539.1L1438 1546L1431.3 1553.1L1424.8 1560.4L1407.5 1553.4L1389.4 1547.3L1370.6 1542.1L1351 1537.8L1329.1 1532.8L1306.4 1528.9L1282.9 1526.1L1258.7 1524.6L1233.8 1524.2L1208.2 1525.1L1182 1527.4L1166.4 1512.5Z" fill="#bbfe00" opacity="0.85" filter="url(#bp15)"/>
<path d="M1473.4 1263.2L1490.7 1255.3L1508.4 1248.1L1526.4 1241.4L1544.9 1235.3L1563.7 1229.9L1582.8 1236.2L1601.5 1243.2L1619.7 1250.8L1637.3 1258.9L1654.5 1267.6L1669.5 1286.3L1683.2 1305.2L1695.9 1324.3L1707.3 1343.5L1717.7 1362.7L1726.9 1381.9L1735 1401.1L1742 1420.1L1749.3 1436.5L1755.6 1452.8L1761.1 1469L1765.6 1485.2L1769.4 1501.2L1758.9 1516.8L1748.5 1532.2L1738.2 1547.4L1729.6 1542.8L1721 1538.5L1712.2 1534.5L1703.3 1530.8L1694.3 1527.4L1685.2 1524.4L1676 1521.7L1666.8 1519.3L1657.5 1517.3L1648.2 1515.6L1638.8 1514.2L1629.5 1513.2L1620.6 1509.1L1611.4 1505.4L1602.1 1501.9L1592.5 1498.8L1582.8 1496L1572.9 1493.6L1562.8 1491.5L1551.1 1476.3L1538.3 1461.4L1524.5 1446.9L1509.5 1432.8L1502.9 1414.5L1496.1 1396L1488.9 1377.4L1481.4 1358.5L1473.5 1339.4L1473.1 1320.8L1472.9 1301.9L1473 1282.7Z" fill="#eeec00" opacity="0.95" filter="url(#bp18)"/>
<path d="M1504.3 1332.8L1519.2 1325.2L1534.5 1318.1L1550.2 1311.5L1566.3 1305.5L1582.8 1310.4L1598.9 1315.9L1614.7 1321.9L1630 1328.4L1637.9 1349.9L1644.8 1371.2L1650.8 1392.2L1635.5 1403L1621 1414.3L1607.4 1426L1595.2 1421.5L1582.8 1417.4L1570.1 1413.8L1557.1 1410.6L1543.9 1407.9L1535.1 1389.2L1525.6 1370.5L1515.3 1351.7Z" fill="#ffc400" opacity="0.9" filter="url(#bp15)"/>
<path d="M1749.6 1488.8L1760.1 1494L1770.4 1499.6L1780.6 1505.6L1790.5 1511.9L1800.3 1518.6L1809.9 1525.6L1819.2 1533L1828.3 1540.8L1837.1 1548.8L1845.7 1557.2L1852.4 1567.1L1858.9 1577.2L1864.9 1587.5L1870.6 1598L1875.9 1608.6L1880.7 1619.4L1885.2 1630.3L1889.3 1641.3L1893 1652.5L1896.3 1663.7L1899.2 1675L1901.7 1686.4L1903.8 1697.8L1905.5 1709.2L1906.7 1720.7L1907.6 1732.2L1908.1 1743.6L1908.1 1755.1L1907.8 1766.5L1907 1777.8L1905.5 1789.1L1903.6 1800.2L1901.2 1811.3L1898.6 1822.2L1895.5 1832.9L1892.1 1843.5L1888.3 1854L1870.3 1849.5L1852.4 1845L1853.8 1835.4L1854.9 1825.8L1855.7 1816.2L1856.1 1806.5L1856.2 1796.9L1855.9 1787.3L1855.3 1777.8L1854.4 1768.3L1853.1 1758.9L1851.6 1749.6L1849.7 1740.3L1847.4 1731.1L1846.2 1721.8L1844.7 1712.5L1842.9 1703.2L1840.7 1694L1838.2 1684.9L1835.3 1675.8L1832.2 1666.8L1828.7 1657.9L1824.9 1649.1L1820.8 1640.4L1816.4 1631.9L1811.6 1623.4L1806.6 1615.2L1801.3 1607.1L1795.7 1599.2L1789.3 1591.9L1782.7 1584.8L1775.8 1577.9L1768.7 1571.3L1761.4 1564.9L1753.9 1558.8L1746.1 1553L1738.2 1547.4L1730 1542.2L1721.7 1537.2L1730.9 1521.2L1740.2 1505.1Z" fill="#eeec00" opacity="0.85" filter="url(#bp15)"/>
<path d="M1890.8 1712.3L1892.9 1723.1L1894.6 1734L1895.9 1744.9L1896.9 1755.8L1897.5 1766.8L1897.6 1777.8L1888.1 1788.5L1878.3 1798.5L1868.3 1807.8L1867.6 1797.7L1866.6 1787.7L1865.2 1777.8L1863.5 1768L1861.5 1758.3L1859.1 1748.8L1870.1 1737.4L1880.6 1725.3Z" fill="#ffc400" opacity="0.7" filter="url(#bp14)"/>
<path d="M1898.5 1343.3L1912.5 1355.8L1926 1368.8L1939 1382.2L1951.5 1396L1963.5 1410.1L1974.9 1424.7L1985.8 1439.6L1991.2 1458.7L1995.9 1477.7L1999.7 1496.6L2002.8 1515.4L2005.1 1534L2006.7 1552.4L2007.6 1570.6L2009.1 1588L2010 1605.2L2010.2 1622.3L2009.7 1639.1L2008.7 1655.7L2007 1672L2004.8 1688.1L2002 1703.9L1998.6 1719.4L1994.7 1734.5L1990.3 1749.3L1985.3 1763.7L1979.9 1777.8L1974.1 1791.5L1954.7 1784.3L1935.5 1777.8L1938.9 1765.4L1941.8 1752.7L1944.3 1739.8L1946.3 1726.7L1947.9 1713.4L1949 1700L1949.6 1686.3L1949.7 1672.6L1951.6 1658L1953 1643.1L1953.8 1627.9L1954 1612.5L1953.6 1596.9L1952.6 1581.2L1951 1565.2L1948.7 1549.2L1945.1 1533.4L1941 1517.6L1936.2 1501.7L1930.7 1485.9L1924.6 1470.1L1917.8 1454.3L1910.3 1438.7L1902.2 1423.1L1893.3 1407.7L1895.7 1386.7L1897.5 1365.3Z" fill="#bbfe00" opacity="0.8" filter="url(#bp18)"/>
<path d="M2104 1907.7L2107.1 1928.1L2109.5 1948.9L2111.2 1970.1L2112 1991.6L2099 2007.6L2085.6 2023L2071.8 2037.8L2057.6 2051.9L2036 2061L2014.4 2069L1993.1 2075.9L1971.9 2081.8L1955.6 2090.6L1939.2 2098.7L1922.8 2106.1L1906.3 2112.8L1889.8 2118.7L1873.2 2123.9L1856.8 2128.5L1840.4 2132.3L1824.1 2135.5L1807.9 2138L1791.8 2139.8L1775.9 2141L1759.8 2140.8L1744 2140L1728.5 2138.5L1713.3 2136.5L1710.7 2116.8L1707.6 2097.4L1704.3 2078.4L1713.8 2072.1L1723.1 2065.5L1732.1 2058.5L1740.7 2051.4L1749.1 2043.9L1757.1 2036.2L1764.8 2028.3L1772.2 2020.2L1779.2 2011.8L1786 2003.5L1792.5 1994.9L1798.6 1986.2L1804.3 1977.3L1809.7 1968.2L1814.8 1959.1L1819.5 1949.8L1823.8 1940.4L1827.8 1930.9L1831.4 1921.3L1837 1913L1842.4 1904.4L1847.5 1895.7L1852.3 1886.7L1856.8 1877.5L1861 1868.2L1864.9 1858.7L1868.5 1849L1871.7 1839.2L1874.6 1829.2L1894.6 1821.6L1914.6 1812.7L1934.6 1802.4L1953.3 1810.2L1972.2 1818.7L1991.1 1827.9L2010 1837.8L2028.8 1850L2047.6 1863.1L2066.4 1877.1L2085.2 1891.9Z" fill="#eeec00" opacity="0.95" filter="url(#bp18)"/>
<path d="M2070.6 1974.9L2066.8 1993.3L2062.3 2011.6L2057.1 2030L2033.4 2027.6L2010.4 2024.7L1987.9 2021.2L1971.1 2008.8L1954.5 1996.8L1938.1 1985L1921.9 1973.6L1928.5 1961.6L1934.7 1949.4L1940.5 1937L1961.4 1938.5L1982.8 1939.4L2004.6 1939.7L2020.8 1948.1L2037.2 1956.8L2053.8 1965.7Z" fill="#ffc400" opacity="0.95" filter="url(#bp15)"/>
<path d="M1800.8 2126.6L1786.8 2131.1L1772.8 2135.1L1758.8 2138.6L1744.7 2141.5L1730.7 2143.8L1716.7 2145.7L1703.3 2148.6L1689.8 2151L1676.3 2152.9L1662.8 2154.3L1649.4 2155.3L1635.9 2155.8L1622.5 2155.5L1609.2 2154.7L1595.9 2153.4L1582.8 2151.7L1569.8 2149.5L1570.4 2132.7L1571 2116L1571.6 2099.5L1572.1 2083.1L1582.8 2083.3L1593.5 2083.1L1604.1 2082.6L1614.7 2081.7L1625.3 2080.4L1635.9 2078.7L1646.3 2076.6L1656.7 2074.2L1667 2071.5L1677.2 2068.4L1687.3 2064.9L1698.4 2064L1709.6 2062.6L1720.8 2060.8L1732.1 2058.5L1743.3 2055.9L1754.6 2052.8L1763.6 2067.2L1772.7 2081.8L1782 2096.5L1791.3 2111.5Z" fill="#eeec00" opacity="0.6" filter="url(#bp18)"/>
<path d="M1308.1 1888.8L1298.9 1881.1L1289.8 1873L1281 1864.3L1272.3 1855.2L1264 1845.6L1255.9 1835.4L1248.1 1824.8L1240.7 1813.8L1233.6 1802.2L1226.8 1790.2L1220.5 1777.8L1219.3 1765.1L1218.6 1752.3L1218.4 1739.5L1218.6 1726.6L1219.2 1713.7L1220.3 1700.8L1221.9 1687.8L1223.9 1674.9L1226.4 1662L1229.4 1649.2L1232.8 1636.4L1236.6 1623.7L1241 1611.1L1245.8 1598.6L1254.8 1588.5L1264.2 1578.7L1273.8 1569.4L1283.7 1560.5L1293.8 1552L1304.1 1544L1314.7 1536.4L1325.4 1529.2L1336.3 1522.5L1347.3 1516.2L1358.5 1510.4L1369.7 1505.1L1381.1 1500.2L1398.3 1504.3L1415 1509.2L1431 1514.8L1446.3 1521.1L1461 1528.1L1457.3 1541.7L1454.3 1555.2L1452 1568.6L1450.6 1581.8L1449.8 1594.8L1449.8 1607.5L1450.4 1620L1445.3 1625.1L1440.3 1630.3L1435.6 1635.6L1431 1641.2L1426.7 1646.8L1422.6 1652.6L1418.7 1658.6L1415 1664.6L1411.5 1670.8L1408.3 1677L1405.2 1683.4L1402.4 1689.8L1399.9 1696.4L1397.6 1703L1395.5 1709.6L1393.6 1716.3L1392 1723.1L1390.7 1729.9L1389.5 1736.7L1388.6 1743.6L1385.9 1750.1L1383.4 1756.8L1381.2 1763.7L1379.2 1770.7L1377.4 1777.8L1375.9 1785L1374.6 1792.4L1373.6 1799.8L1372.8 1807.3L1372.3 1814.9L1372.1 1822.6L1372.2 1830.3L1372.6 1838.1L1373.2 1845.9L1374.1 1853.7L1375.4 1861.6L1358.8 1868.3L1342.1 1875.1L1325.2 1881.9Z" fill="#00a400" opacity="0.75" filter="url(#bp24)"/>
<path d="M1354.9 1712.4L1356.1 1704.1L1357.6 1695.8L1359.4 1687.5L1361.5 1679.3L1363.9 1671L1366.6 1662.9L1369.7 1654.8L1377.9 1649.8L1386.2 1645.2L1394.6 1641.1L1398.6 1653.5L1403.1 1665.5L1408.3 1677L1404.2 1682.8L1400.3 1688.8L1396.7 1694.9L1393.2 1701.2L1389.9 1707.6L1386.9 1714.2L1371 1713Z" fill="#00a9ab" opacity="0.9" filter="url(#bp8)"/>
<path d="M1212.9 1738.9L1217.2 1726.4L1221.9 1714.2L1227.1 1702.2L1232.6 1690.5L1238.5 1679.1L1244.8 1668L1251.4 1657.2L1264.6 1649.3L1278 1642.1L1291.4 1635.7L1304.8 1630L1318.2 1625L1331.6 1620.8L1342.2 1638.9L1353.5 1655.9L1365.7 1671.9L1360.4 1678.8L1355.5 1685.9L1350.7 1693.3L1346.2 1700.9L1341.9 1708.7L1337.9 1716.7L1334.1 1724.9L1330.7 1733.3L1327.5 1741.9L1324.6 1750.7L1306.5 1748.8L1288.2 1746.8L1269.7 1744.9L1251 1742.9L1232 1740.9Z" fill="#00b400" opacity="0.5" filter="url(#bp18)"/>
<path d="M1404.2 1990.7L1396.9 1984.3L1389.8 1977.7L1382.9 1970.8L1376.3 1963.7L1369.9 1956.4L1363.8 1948.9L1358 1941.1L1352.4 1933.2L1347.2 1925L1342.2 1916.7L1337.5 1908.2L1333.1 1899.6L1329 1890.8L1325.2 1881.9L1321.7 1872.8L1318.5 1863.7L1315.7 1854.4L1313.2 1845L1311 1835.6L1309.2 1826L1324.1 1823.4L1339 1820.8L1353.7 1818.2L1355.2 1826.2L1357.1 1834.1L1359.2 1841.9L1361.5 1849.7L1364.2 1857.4L1367.1 1864.9L1370.3 1872.4L1373.7 1879.8L1377.4 1887L1381.3 1894.1L1385.5 1901.1L1389.9 1907.9L1394.6 1914.5L1399.5 1921L1404.6 1927.3L1409.9 1933.5L1415.5 1939.4L1421.2 1945.1L1427.1 1950.7L1433.3 1956L1423.6 1967.5L1414 1979Z" fill="#00b400" opacity="0.35" filter="url(#bp18)"/>
<circle cx="1582.8" cy="1777.8" r="175.2" fill="#808080"/>
<g transform="rotate(0 1582.8 1777.8)" filter="url(#ts0)"><path d="M1582.8 1777.8L1519.1 1308.4L1646.5 1308.4Z" fill="url(#dps)"/></g>
<g transform="rotate(15 1582.8 1777.8)" filter="url(#ts1)"><path d="M1582.8 1777.8L1519.1 1308.4L1646.5 1308.4Z" fill="url(#dps)"/></g>
<g transform="rotate(30 1582.8 1777.8)" filter="url(#ts2)"><path d="M1582.8 1777.8L1519.1 1308.4L1646.5 1308.4Z" fill="url(#dps)"/></g>
<g transform="rotate(45 1582.8 1777.8)" filter="url(#ts3)"><path d="M1582.8 1777.8L1519.1 1308.4L1646.5 1308.4Z" fill="url(#dps)"/></g>
<g transform="rotate(60 1582.8 1777.8)" filter="url(#ts4)"><path d="M1582.8 1777.8L1519.1 1308.4L1646.5 1308.4Z" fill="url(#dps)"/></g>
<g transform="rotate(75 1582.8 1777.8)" filter="url(#ts5)"><path d="M1582.8 1777.8L1519.1 1308.4L1646.5 1308.4Z" fill="url(#dps)"/></g>
<g transform="rotate(90 1582.8 1777.8)" filter="url(#ts6)"><path d="M1582.8 1777.8L1519.1 1308.4L1646.5 1308.4Z" fill="url(#dps)"/></g>
<g transform="rotate(105 1582.8 1777.8)" filter="url(#ts7)"><path d="M1582.8 1777.8L1519.1 1308.4L1646.5 1308.4Z" fill="url(#dps)"/></g>
<g transform="rotate(120 1582.8 1777.8)" filter="url(#ts8)"><path d="M1582.8 1777.8L1519.1 1308.4L1646.5 1308.4Z" fill="url(#dps)"/></g>
<g transform="rotate(135 1582.8 1777.8)" filter="url(#ts9)"><path d="M1582.8 1777.8L1519.1 1308.4L1646.5 1308.4Z" fill="url(#dps)"/></g>
<g transform="rotate(150 1582.8 1777.8)" filter="url(#ts10)"><path d="M1582.8 1777.8L1519.1 1308.4L1646.5 1308.4Z" fill="url(#dps)"/></g>
<g transform="rotate(165 1582.8 1777.8)" filter="url(#ts11)"><path d="M1582.8 1777.8L1519.1 1308.4L1646.5 1308.4Z" fill="url(#dps)"/></g>
<g transform="rotate(180 1582.8 1777.8)" filter="url(#ts12)"><path d="M1582.8 1777.8L1519.1 1308.4L1646.5 1308.4Z" fill="url(#dps)"/></g>
<g transform="rotate(195 1582.8 1777.8)" filter="url(#ts13)"><path d="M1582.8 1777.8L1519.1 1308.4L1646.5 1308.4Z" fill="url(#dps)"/></g>
<g transform="rotate(210 1582.8 1777.8)" filter="url(#ts14)"><path d="M1582.8 1777.8L1519.1 1308.4L1646.5 1308.4Z" fill="url(#dps)"/></g>
<g transform="rotate(225 1582.8 1777.8)" filter="url(#ts15)"><path d="M1582.8 1777.8L1519.1 1308.4L1646.5 1308.4Z" fill="url(#dps)"/></g>
<g transform="rotate(240 1582.8 1777.8)" filter="url(#ts16)"><path d="M1582.8 1777.8L1519.1 1308.4L1646.5 1308.4Z" fill="url(#dps)"/></g>
<g transform="rotate(255 1582.8 1777.8)" filter="url(#ts17)"><path d="M1582.8 1777.8L1519.1 1308.4L1646.5 1308.4Z" fill="url(#dps)"/></g>
<g transform="rotate(270 1582.8 1777.8)" filter="url(#ts18)"><path d="M1582.8 1777.8L1519.1 1308.4L1646.5 1308.4Z" fill="url(#dps)"/></g>
<g transform="rotate(285 1582.8 1777.8)" filter="url(#ts19)"><path d="M1582.8 1777.8L1519.1 1308.4L1646.5 1308.4Z" fill="url(#dps)"/></g>
<g transform="rotate(300 1582.8 1777.8)" filter="url(#ts20)"><path d="M1582.8 1777.8L1519.1 1308.4L1646.5 1308.4Z" fill="url(#dps)"/></g>
<g transform="rotate(315 1582.8 1777.8)" filter="url(#ts21)"><path d="M1582.8 1777.8L1519.1 1308.4L1646.5 1308.4Z" fill="url(#dps)"/></g>
<g transform="rotate(330 1582.8 1777.8)" filter="url(#ts22)"><path d="M1582.8 1777.8L1519.1 1308.4L1646.5 1308.4Z" fill="url(#dps)"/></g>
<g transform="rotate(345 1582.8 1777.8)" filter="url(#ts23)"><path d="M1582.8 1777.8L1519.1 1308.4L1646.5 1308.4Z" fill="url(#dps)"/></g>
</g>
<path d="M435.2 108.4V862.4M560.8 108.4V862.4M686.5 108.4V862.4M812.2 108.4V862.4M937.8 108.4V862.4M1063.5 108.4V862.4M1189.2 108.4V862.4M1314.8 108.4V862.4M1440.5 108.4V862.4M1566.2 108.4V862.4M1691.8 108.4V862.4M309.5 234.1H1817.5M309.5 359.7H1817.5M309.5 485.4H1817.5M309.5 611.1H1817.5M309.5 736.7H1817.5" fill="none" stroke="#000" stroke-width="1.7"/>
<g clip-path="url(#cn)" fill="none" stroke="#000" stroke-width="1.7"><circle cx="543.0" cy="1777.8" r="127.6"/><circle cx="543.0" cy="1777.8" r="259.6"/><circle cx="543.0" cy="1777.8" r="401.4"/><path d="M543 1314.4L543 2241.2M141.7 1546.1L944.3 2009.5M141.7 2009.5L944.3 1546.1"/></g>
<rect x="541.5" y="1776.3" width="3" height="3" fill="#fff"/>
<g clip-path="url(#cs)" fill="none" stroke="#000" stroke-width="1.7"><circle cx="1582.8" cy="1777.8" r="127.6"/><circle cx="1582.8" cy="1777.8" r="259.6"/><circle cx="1582.8" cy="1777.8" r="401.4"/><path d="M1582.8 1314.4L1582.8 2241.2M1181.5 1546.1L1984.1 2009.5M1181.5 2009.5L1984.1 1546.1"/></g>
<rect x="1581.3" y="1776.3" width="3" height="3" fill="#fff"/>
<path clip-path="url(#cm)" d="M309.5 196.2L320 200L330.8 204.6L336.2 203.8L350.8 207.7L345.4 210L338.5 211.2L337.7 214.9L330.8 213.8L323.1 211.5L315.4 209.7L309.5 208.8M309.5 185.1L318.5 185.7L315.4 187.2L309.5 187.5M342.3 218L349.2 218.5L356.2 219.5L352.3 220.9L346.2 220.2L342.3 218M560 192.3L552.3 191.5L546.2 191.2L543.1 192.8L540 191.5L535.4 192.3L530.8 190.5L526.2 189.2L523.1 191.2L515.4 190.8L507.7 191.8L500 193.1L493.8 194.6L489.2 195.8L483.1 194.3L476.9 193.1L467.7 191.5L460 190.8L447.7 190L434.3 189.2L423.1 188.2L416.9 187.7L412.3 186.3L406.2 185.7L400 187.2L392.3 188.2L384.6 190L380 191.5L375.4 194.6L364.6 197.2L367.7 199.2L373.8 201.1L380 203.8L384.9 206.6L376.9 206.9L367.7 207.7L359.2 209.5L363.1 212.3L366.9 214.2L376.9 213.8L389.2 213.4L388.9 217.7L383.1 219.2L376.9 221.1L370.8 223.8L367.4 227.2L370 230.8L376.9 233.1L383.8 235.4L385.4 238L390.8 237.4L395.4 239.5L400 238L404.9 238.3L401.5 243.1L398.5 246.9L389.2 250.8L380 254.3L372 257.1L375.4 256.5L386.2 253.1L398.5 249.2L407.7 244.6L413.8 241.1L419.2 237.7L423.1 232.3L427.7 229.7L432.3 227.8L432.6 231.5L427.7 233.8L428 236.5L433.8 234.6L438.5 232.3L441.5 230.3L446.2 230L452.3 231.5L461.5 232.5L469.2 233.4L476.9 234.9L483.1 237.4L487.7 238.6L495.4 239.5L501.5 241.1L505.4 246.2L509.2 250.8L514.6 254.3L518.5 258.5L522.3 262.6L526.9 266.2L529.2 269.2L526.2 272.3L530.8 273.8L537.7 276.5L543.1 278.9L543.8 283.8L544.9 288.5L543.8 293.8L543.1 299.2L541.2 306.9L542.8 313.1L544.6 318L548.5 323.1L552.3 328.5L556.2 333.8L558.8 338M526.2 272.6L530.8 272.3L536.9 274.3L543.8 278L548.5 282.3L550.5 287.2L546.2 284.6L540 280.5L532.3 276.9L526.2 272.6M504.6 257.7L510.8 257.4L513.5 266.3L509.5 264.2L506.2 260.8L504.6 257.7M415.7 245.1L420.8 243.1L425.4 243.5L422.3 246.3L417.7 247.2L415.7 245.1M702.3 209.2L693.8 213.8L685.4 218.5L678.5 222.3L671.5 226.9L667.2 232.3L666.2 236.2L673.1 238.5L674.9 242.3L676.5 245.1L685.4 246.9L696.2 250.8L703.8 253.1L711.5 252.8L717.7 253.1L718.9 257.7L721.5 262.3L724.6 266.6L728.8 269.7L732.8 266.6L733.1 260.8L729.2 255.4L734.6 252.3L742.3 248.5L741.5 242.3L736.9 237.7L734.6 235.8L737.4 230L735.8 224.6L740.8 223.1L746.9 223.2L756.2 224.8L763.8 226.6L769.2 228.8L771.5 233.1L774.9 237.7L780 240.2L786.9 236.5L792.3 232.3L794.6 233.4M697.4 218.8L701.5 213.8L704.3 210.3L713.1 213.8L724.6 218L719.2 220.2L713.1 217.7L705.4 220.8L697.4 218.8M711.5 222.3L717.7 221.1L720 222.3L714.6 224.2L711.5 222.3M726.9 223.8L729.2 223.1L730.3 225.4L728.2 226.3L726.9 223.8M790.8 232.3L798.5 237.7L807.7 246.9L816.9 254.6L826.2 259.2L830.2 266.3L823.1 269.7L812.3 274.3L798.5 274.9L786.2 274.9L776.9 279.2L770.8 284.2L764.6 289.2L773.8 283.1L783.1 279.2L790.8 278.5L794.2 280.8L791.7 283.8L792.3 287.7L798.5 290.3L806.2 289.7L810 287.2L810.5 290.9L806.2 293.8L798.5 297.7L788.5 302L786.2 299.2L792.6 295.4L786.2 296.2L780 297.7L775.4 300L771.1 303.5L770 307.7L770.5 310.3L764.6 310.3L759.2 312.3L753.8 314.6L750.8 318.9L746.9 322L744.9 319.2L743.8 324.2L742.3 322.3L743.4 328.5L746.2 333.4L746.2 336.2L738.5 341.1L730.8 346.9L725.4 352.8L723.1 358.5L721.5 363.8L723.4 368.5L725.4 372.3L726.5 377.7L723.4 379.5L720 375.4L717.2 369.2L715.4 365.4L714.6 361.5L709.2 359.5L703.1 360.5L700 358.9M828 269.2L824.9 276.2L818.8 281.5L814.6 283.8L823.1 284.2L830.8 286.2L835.4 288.5L839.4 289.4L841.7 285.4L840 281.1L835.4 279.2L831.1 276.2L830.2 272.3L828 269.2M798.8 276.6L803.1 276.2L807.7 277.7L802.8 278.6L798.8 276.6M794.2 289.7L800 289.1L804.6 290.3L798.5 291.5L794.2 289.7M706.9 393.1L715.4 388.5L724.6 390L735.4 394.6L746.2 399.2L752 400.2L744.6 401.7L738.5 400.2L738.2 397.1L729.2 393.1L720 390.9L712.3 392.5L706.9 393.1M755.4 401.7L764.6 400.8L772.3 403.8L776.3 406.9L769.2 408.5L763.1 410.9L760 408.5L750.8 408.8L750.8 406.9L757.7 406.3L755.4 401.7M734.6 408.5L740 407.5L744.6 409.2L739.2 410.5L734.6 408.5M780.8 407.7L788.5 407.5L788 409.7L780.8 409.7L780.8 407.7M735.1 380L737.7 383.8L736.3 385.7L734.2 382L735.1 380M732.3 373.1L738.5 372.3L740.5 374.9L738.5 374L733.1 374.3L732.3 373.1M557.5 336.6L563.1 340.8L570.8 346.9L576.2 355.4L580.3 360.8L581.5 366.9L586.2 368.5L590.8 374.6L593.8 379.2L600.8 385.4L602.8 388.8L604 386.3L600.8 383.5L597.7 379.2L593.8 373.1L590 366.2L586.2 360L583.8 355.4L581.8 353.1L584.6 352.3L588.9 354.6L590.8 359.2L596.2 364.6L601.5 370.8L604.6 374.6L607.7 378.5L613.8 385.4L620 393.8L621.5 399.2L626.2 404.6L635.4 410L646.2 414.6L656.9 418.9L663.1 417.7L667.7 418.5L673.8 423.1L680 426.9L687.7 428.5L695.4 430L700 436.2L705.4 442.3L709.2 444.6L713.8 448.5L720 451.5L726.2 453.4L727.7 450L731.5 448.5L735.4 451.5L738.5 457.7L740 468.5L735.4 473.1L731.5 479.2L726.9 483.8L725.4 493.1L727.7 496.2L723.8 500.8L722.3 509.2L727.7 514.6L733.8 525.4L740 536.2L743.1 540M700 358.9L693.8 357.7L687.7 358.5L688.5 361.5L683.1 360.8L675.4 360L667.7 360.8L661.5 363.8L656.9 368.5L654.6 376.2L653.8 385.4L656.2 393.1L659.2 400L663.1 405.4L667.7 408.5L675.4 406.9L681.5 404.6L684.6 400.8L685.4 396.2L693.8 395.4L698.5 395.4L697.7 399.2L694.6 405.4L693.1 410L692.3 413.8L690 418.5L696.9 419.2L706.2 417.7L712.3 419.2L714.6 422.3L713.8 428.5L712.3 436.2L714.6 442.3L720 446.2L724.6 447.7L730.8 444.6L736.9 446.2L741.5 448.5L746.2 443.8L749.2 439.2L755.4 436.9L761.5 434.6L763.8 432.8L762.8 437.7L760.9 443.5L763.1 446.9L764.9 443.5L764.3 438.5L769.2 434.6L770.8 436.9L780 440L792.3 440L801.5 439.2L807.7 440L808 444.6L811.5 449.2L820 456.2M743.1 540L743.8 543.8L751.5 550L762.3 556.9L768.5 561.5L770 568.5L769.2 577.7L767.7 590L766.2 599.2L764.6 610.3L762.3 623.8L759.2 634.6L756.9 640M820 456.2L826.9 460L834.6 460.8L842.3 463.8L848.5 468.5L852.3 475.4L854 480.8L850 483.8L859.2 486.2L860 489.2L866.9 490L876.2 494.6L885.4 496.2L896.2 496.9L905.4 502.3L913.1 506.2L916.9 511.5L917.7 519.2L913.1 526.9L906.9 534.6L900.8 540.8L900 553.1L897.7 562.3L894.6 568.5L890 576.2L886.9 580L880.8 581.5L874.6 583.8L866.9 588.5L860.8 594.6L860 602.3L856.9 608.5L851.5 614.6L845.4 620.8L839.2 626.9L834.6 630L828.5 630.8L820.8 628.5L817.7 626.9M762.6 615.4L761.5 620L757.7 630.8L754.6 640.8L753.8 652.3L753.1 661.5L757.7 661.5L756.2 667.7L751.5 667.7L752.3 670.8L748.5 676.9L746.2 680L751.5 680.8L747.7 686.2L746.9 695.4L749.2 704.6L754.6 708.5L763.8 713.8L773.1 716.9L779.2 717.7L788.5 714.6L782.3 713.1L777.7 707.7L774.6 704.6L768.5 706.2L765.4 710L762.3 709.2L766.9 706.2L773.1 703.1L773.8 698.5L776.2 693.8L782.3 689.2L786.9 683.8L782.3 680L783.8 675.4L788.5 670.8L791.5 664.6L796.9 662.3L791.5 660.8L790.8 657.7L797.7 656.2L800.8 652.3L803.1 647.7L811.5 646.9L817.7 645.4L822.3 641.5L823.8 636.9L820.8 632.3L817.7 627.7L820.8 629.2L828.5 631.5L834.6 630L840.8 624.6L845.4 618.5L851.5 611.5L856.9 606.2L859.2 600M806.9 701.5L813.1 700L820.8 700.8L817.7 703.1L811.5 702.8L808.5 704L806.9 701.5M1159.2 190L1143.8 192.3L1128.5 198.5L1119.2 204.6L1110 212.3L1100.8 217.7L1090 220.8L1084.6 224.6L1085.4 230L1086.2 236.2L1091.5 240L1097.7 240.8L1103.8 237.7L1107.7 233.1L1108.5 239.2L1111.5 243.8L1114.6 249.2L1116.9 252.3L1122.3 251.5L1125.4 247.7L1130 246.9L1132.3 243.1L1135.4 237.7L1140 233.8L1136.2 229.2L1135.4 225.4L1140 220.8L1146.9 215.4L1153.1 211.5L1159.2 209.2L1166.9 208.8L1169.2 210.8L1163.8 214.6L1157.7 218.5L1153.1 223.1L1152.3 228.5L1156.2 231.5L1162.3 233.1L1171.5 231.8L1182.3 231.8L1188.5 233.8L1179.2 235.4L1166.9 235.1L1163.8 236.9L1163.8 242.3L1165.4 244.6L1159.2 243.1L1156.9 246.2L1154.6 250L1153.1 253.1L1146.9 254.6L1140.8 255.4L1133.1 256.2L1125.4 257.7L1117.7 257.7L1111.5 256.2L1106.9 253.8L1104.6 249.2L1107.7 243.1L1103.8 243.8L1100 246.2L1098.5 251.5L1100 257.7L1094.6 260L1088.5 261.5L1082.3 264.6L1078.5 268.5L1073.1 270.8L1068.5 273.8L1062.3 275.4L1054.6 276.2L1055.4 279.2L1046.9 280.8L1043.8 283.1L1050 285.4L1054.6 290L1057.7 296.2L1056.9 302.3L1048.5 303.1L1036.2 303.1L1026.2 303.8L1023.8 306.9L1026.2 313.1L1024.6 320.8L1026.9 325.4L1026.2 329.2L1034.6 330L1037.7 333.8L1043.8 334.6L1047.7 332.3L1056.2 329.2L1060 325.4L1062.3 321.5L1065.4 315.4L1072.3 310L1077.7 307.7L1082.3 304.6L1090 303.8L1099.2 300L1105.4 301.5L1108.5 306.9L1114.6 311.5L1120.8 315.4L1128.5 320.8L1130.8 325.4L1133.1 322.3L1132.3 318.5L1137.7 317.7L1139.2 315.4L1134.6 311.5L1128.5 308.5L1123.8 303.8L1120.8 299.2L1116.9 295.4L1120.8 294.6L1123.8 296.9L1126.9 300.8L1133.1 306.9L1140.8 311.5L1145.4 316.9L1150 322.3L1154.6 328.5L1156.9 331.5L1159.2 328.5L1160.8 324.6L1164.6 325.4L1163.1 320.8L1159.2 317.7L1159.2 314.6L1166.9 314.6L1174.6 313.8L1180 312.3L1185.4 311.5M1185.4 311.5L1180.8 308.5L1180 303.8L1184.6 297.7L1188.5 294.6L1191.5 290.8L1196.2 290L1200.8 293.1L1204.6 296.2L1211.5 293.8L1216.9 296.2L1223.8 297.7L1231.5 300.8L1236.9 306.2L1236.2 310.8L1230 313.1L1220.8 312.3L1211.5 310L1202.3 309.2L1194.6 311.5L1188.5 313.1L1185.4 311.5M1210.3 291.5L1215.4 288.5L1227.7 286.9L1223.1 290.8L1218.9 294.6L1212.3 292.8L1210.3 291.5M1180 312.3L1174.6 315.4L1173.8 319.2L1176.9 323.8L1178.5 328.5L1182.3 331.5L1190 332.3L1194.6 333.8L1200.8 332.3L1206.9 332.3L1213.1 330.8L1213.8 336.2L1213.1 341.5L1211.5 346.9L1209.2 351.5L1205.4 355.4L1196.2 354.9L1190 353.1L1182.3 355.4L1174.6 353.1L1166.9 351.5L1157.7 349.2L1150 347.7L1146.9 351.5L1146.2 356.2L1140.8 356.9L1131.5 353.1L1125.4 350L1117.7 346.2L1111.5 343.8L1106.9 342.3L1106.2 337.7L1108.5 333.8L1109.2 330L1103.8 329.2L1096.2 329.2L1085.4 330L1074.6 331.5L1063.8 333.8L1054.6 335.4L1046.9 336.9L1040.8 335.4L1036.2 337.7L1030 343.8L1025.4 350L1022.3 356.2L1020.8 360.8L1013.1 366.9L1005.4 374.6L999.2 383.8L994.6 391.5L992.3 400M1040.8 240L1050 239.2L1047.7 243.1L1053.1 243.8L1050.8 249.2L1056.2 251.5L1060.8 257.7L1063.1 262.3L1070 264.6L1069.2 268.5L1065.4 270.8L1070 273.1L1062.3 274.6L1054.6 275.4L1046.9 276.9L1039.2 274.6L1045.4 272.3L1050 270L1043.8 269.2L1041.5 265.4L1046.9 263.8L1048.5 260.8L1046.2 257.7L1043.1 254.6L1044.6 250L1039.2 247.7L1041.5 243.8L1040.8 240M1023.1 260L1028.5 255.4L1036.2 253.8L1038.5 257.7L1036.9 263.1L1033.8 266.2L1027.7 268.5L1021.5 267.7L1024.6 263.8L1023.1 260M1100 305.4L1102.3 304.6L1103.1 310L1101.1 311.5L1099.5 308.5L1100 305.4M1099.2 312.3L1103.8 311.5L1104.6 319.2L1100.8 320.8L1098.9 316.2L1099.2 312.3M1116.2 325.4L1125.4 324.6L1126.9 326.2L1124.6 330.8L1119.2 329.2L1115.4 326.9L1116.2 325.4M1161.5 335.4L1173.1 336.2L1172.3 338.5L1162.3 337.7L1161.5 335.4M1197.7 338.5L1202.3 336.9L1209.2 333.8L1205.4 337.7L1200.8 340L1197.7 338.5M992.3 400L994 407.7L992.1 415.4L989.2 423.1L993.1 430.8L998.8 439.4L1006.5 450L1016.2 458.7L1025.8 464.4L1031.5 466.3L1041.2 464.4L1050.8 463.5L1060.4 461.5L1070 459.6L1080.6 459.2L1085.4 463.5L1089.2 466.3L1097.9 465.4L1102.7 470.2L1103.7 476.9L1101.7 482.7L1099.8 487.5L1104.6 496.2L1112.3 505.8L1117.1 517.3L1118.1 525L1120 534.6L1114.2 544.2L1112.3 553.8L1115.2 563.5L1121.9 576.9L1124.8 588.5L1127.7 598.1L1133.5 608.7L1138.3 617.3L1139.2 625L1145 629.8L1154.6 627.9L1166.2 626.9L1177.7 623.1L1187.3 616.3L1196 606.7L1199.8 598.1L1200.8 590.4L1210.4 585.6L1211.9 578.8L1208.5 569.2L1218.1 560.6L1227.7 555.8L1233.5 548.1L1231.5 538.5L1229.6 528.8L1226.7 519.2L1225.8 509.6L1231.5 498.1L1239.2 488.5L1246.9 480.8L1258.5 471.2L1268.1 457.7L1275.8 442.3M1269 535.6L1273.8 544.2L1272.9 551.9L1270 565.4L1266.2 576.9L1261.3 588.5L1253.7 591.9L1246.9 588.5L1245 578.8L1247.9 569.2L1248.8 555.8L1256.5 551.9L1264.2 544.2L1269 535.6M1258.8 298.5L1268.5 290.8L1278.1 287.9L1285.8 289.8L1284.8 294.6L1276.2 297.5L1278.1 304.2L1285.8 308.1L1291.5 311.9L1286.7 314.8L1287.7 321.5L1288.7 329.2L1280 331.2L1270.4 327.3L1268.5 319.6L1273.3 313.8L1268.5 308.1L1262.7 304.2L1258.8 298.5M1320 379.8L1333.8 379.2L1341.5 379.2L1347.3 385L1355 392.7L1360.8 397.5L1366.5 395.6L1368.5 402.3L1371.3 413.8L1376.2 427.3L1381.9 438.8L1386.7 448.5L1389.6 450.4L1395.4 443.7L1399.2 433.1L1398.8 421.5L1405 413.8L1414.6 406.2L1422.3 399.4L1430 394.6L1437.7 392.7L1443.5 389.8L1447.3 394.6L1451.2 402.3L1456 410L1458.8 417.7L1466.5 414.8L1472.3 417.7L1475.2 427.3L1477.1 436.9L1476.2 446.5L1474.2 452.3L1480 458.1L1487.7 467.7L1495.4 476.3L1499.2 479.2L1496.3 469.6L1489.6 460L1483.8 450.4L1480 440.8L1481.9 431.2L1485.8 429.2L1493.5 433.1L1499.2 438.8L1504 447.5L1510.8 442.7L1518.5 435L1521.3 425.4L1518.5 415.8L1512.7 408.1L1506.9 402.3L1510.8 397.5L1516.5 395.6L1522.3 395.6L1524.2 399.4L1527.1 395.6L1533.8 392.7L1541.5 389.8L1551.2 386L1558.8 379.2L1564.6 371.5L1569.4 363.8L1573.3 355.2L1571.3 348.5L1568.5 342.7L1565.6 336.9L1572.3 333.1L1580 329.2M1519.4 402.3L1525.2 400.4L1527.1 404.2L1522.3 408.1L1518.5 406.2L1519.4 402.3M1399.2 443.7L1404 447.5L1406 454.2L1403.1 459L1399.2 458.1L1397.7 450.4L1399.2 443.7M1571.3 379.2L1573.5 381.5L1570.4 390.8L1568.5 388.8L1571.3 379.2M1566.2 368.8L1572.3 363.1L1574.2 355.4L1570.4 349.6L1567.5 341.9L1563.7 338.1L1566.5 333.3L1576.2 328.8L1570.4 325.6L1562.7 324.6L1556.9 322.7L1560.8 317.9L1568.5 315L1574.2 313.5L1571.9 320.8L1574.2 325.6L1578.1 321.7L1583.8 318.5L1584.8 324.6L1587.7 328.5L1590.6 332.3L1592.5 340L1599.2 339L1605 335.2L1603.1 328.5L1600.2 322.7L1597.3 320.8L1603.1 315L1610.8 307.3L1618.5 304.4L1626.2 301.5L1635.8 293.8L1645.4 284.2L1653.1 272.7L1656.9 262.1L1649.2 257.3L1641.5 259.6L1629.6 254.8L1645.4 244.8L1660.8 236.5L1676.2 235.8L1691.5 235.2L1697.3 237.1L1710.8 236.2L1720.4 227.5L1731.9 226.5L1735.8 229.4L1749.2 222.7L1752.1 223.7L1745.4 228.5L1737.7 233.3L1730 239.6L1721.3 244.8L1715 251.5L1717.5 261.2L1720.4 270.8L1729 263.1L1739.6 255.4L1746.3 247.7L1748.3 238.1L1756.9 233.3L1768.5 231.3L1780 228.5L1795.4 224.6L1806.9 222.7L1817.5 220.8M1659.8 256.9L1662.7 266.9L1669.4 279.4L1664.6 279.4L1661.7 286.2L1664.6 290L1660.8 290.4L1657.9 280.4L1656.9 266.9L1657.9 257.7L1659.8 256.9M1658.8 294.8L1666.5 301.5L1672.3 300.6L1670.4 303.5L1662.7 306.3L1656.9 309.2L1653.1 305.4L1655 299.6L1658.8 294.8M1654 311.2L1656 316.9L1653.1 324.6L1651.2 333.3L1645.4 339L1637.7 340L1631.9 343.8L1628.1 341.9L1622.3 341.9L1614.6 343.8L1607.9 344.8L1614.6 341L1622.3 337.1L1631.9 335.2L1635.8 330.4L1643.5 326.5L1649.2 318.8L1651.2 313.1L1654 311.2M1606 344.8L1612.7 345.8L1614.6 349.6L1610.8 354.4L1607.9 349.6L1606 344.8M1618.5 343.8L1626.2 342.9L1628.1 345.8L1622.3 346.7L1618.5 343.8M1568.5 407.3L1575.2 407.3L1576.2 415L1572.3 420.8L1576.2 426.5L1583.8 432.3L1587.7 438.1L1581.9 436.2L1576.2 432.3L1570.4 430.4L1567.5 423.7L1565.6 416.9L1568.5 407.3M1576.2 449.6L1583.8 445.8L1590.6 447.7L1592.5 455.4L1588.7 460.2L1583.8 457.3L1580 453.5L1574.2 455.4L1576.2 449.6M1580 434.2L1587.7 440L1590.6 445.8L1585.8 443.8L1580 440L1580 434.2M1554 449.6L1564.6 438.1L1565.8 439.6L1555.4 450.8L1554 449.6M1540.7 577.1L1551.4 571.8L1566.4 568.6L1575 560L1580.4 553.6L1587.9 546.1L1598.6 542.9L1605 547.1L1609.3 539.6L1617.9 534.3L1628.6 534.3L1636.1 537.5L1631.8 543.9L1633.9 549.3L1645.7 556.8L1652.1 557.9L1655.4 551.4L1657.5 540.7L1660.7 531.1L1665 541.8L1670.4 549.3L1674.6 560L1684.3 568.6L1691.8 577.1L1697.1 585.7L1704.6 596.4L1705.7 605L1703.6 617.9L1698.2 628.6L1692.9 639.3L1689.6 642.5L1677.9 647.9L1669.3 644.6L1662.9 646.8L1654.3 641.4L1648.9 637.1L1642.5 628.6L1640.4 623.2L1636.1 631.8L1632.9 626.4L1626.4 622.1L1617.9 617.9L1607.1 616.8L1596.4 618.9L1585.7 622.1L1577.1 626.4L1566.4 627.5L1555.7 630.7L1549.3 629.6L1546.1 627.5L1547.1 620L1545 609.3L1540.7 598.6L1538.6 590L1539 583.6L1540.7 577.1M1669.3 656.4L1675.7 655.4L1684.3 656.4L1683.2 663.9L1677.9 667.6L1673.6 663.9L1669.3 656.4M1786.1 629.6L1793.6 637.1L1800 642.5L1810.7 642.5L1808.6 648.9L1802.1 654.3L1797.9 658.6L1793.6 654.3L1795.7 648.9L1793.6 643.6L1786.1 629.6M1791.4 654.3L1794.6 658.6L1789.3 665L1780.7 673.6L1772.1 679.6L1763.6 678.9L1760.4 676.8L1770 670.4L1780.7 662.9L1786.1 655.4L1791.4 654.3M1611.4 490.4L1622.1 490.4L1626.4 497.9L1621.1 495.7L1630.7 502.1L1635 496.8L1641.4 492.5L1654.3 494.6L1667.1 500L1677.9 508.6L1682.1 511.8L1680 515L1690.7 525.7L1695 528.3L1682.1 524.6L1671.4 519.3L1665 523.6L1654.3 522.5L1646.8 518.2L1641.4 519.3L1644.6 513.9L1641.4 508.6L1632.9 505.4L1624.3 502.1L1617.9 495.7L1611.4 490.4M1462.5 462.5L1472.1 463.6L1482.9 472.1L1493.6 482.9L1504.3 491.4L1508.6 498.9L1507.5 508.6L1503.2 508.6L1495.7 497.9L1485 486.1L1474.3 474.3L1462.5 462.5M1505.4 511.8L1517.1 511.8L1530 513.9L1540.7 518.2L1547.1 520.4L1540.7 521.4L1525.7 518.2L1512.9 516.1L1505.4 511.8M1520.4 479.6L1530 474.3L1538.6 470L1547.1 461.4L1555.7 458.2L1562.1 461.4L1556.8 467.9L1560 478.6L1555.7 482.9L1552.5 493.6L1546.1 501.1L1536.4 497.9L1525.7 496.8L1522.5 488.2L1520.4 479.6M1567.5 486.1L1577.1 486.1L1587.9 479.6L1587.9 477.5L1577.1 481.8L1568.6 482.9L1568.6 491.4L1577.1 497.9L1579.3 504.3L1577.1 506.4L1572.9 497.9L1567.5 495.7L1568.6 504.3L1566.4 508.6L1563.2 502.1L1564.3 491.4L1567.5 486.1M1581.4 527.9L1596.4 520.4L1597.7 521.9L1583.1 529.1L1581.4 527.9M1551.4 521.9L1560 520.1L1560.4 521.9L1552.3 523.6L1551.4 521.9M1566.4 521.9L1577.1 519.7L1577.6 521.4L1567.3 523.6L1566.4 521.9M1598.6 477.5L1601.1 476.9L1602 487.1L1599.6 487.6L1598.6 477.5M1684.3 508.6L1697.1 507.5L1704.6 502.1L1702.5 497.9L1695 495.7L1700.4 501.1L1695 505.4L1684.7 507.3L1684.3 508.6M1711.1 506.4L1716.4 512.9M1718.6 513.9L1725 516.1M1727.1 515L1738.9 522.5M1732.5 524.6L1743.2 530M1750.7 568.6L1762.5 578.2L1761.4 579.5L1749.6 570.3L1750.7 568.6M1761.4 546.1L1765.7 553.6M1806.4 557.9L1812.9 556.8L1811.8 561.1L1806.9 561.1L1806.4 557.9M778.9 166.6L767.2 163L776.9 161.2L758.4 158.7L760.9 155.9L783.9 152.3L780.6 148.2L804.2 143.7L812.4 139.5L843.9 141.5L872.7 138.2L906.2 135.2L953.2 135.6L972.3 138.1L948.3 140.7L966.3 142.6L1004.9 142.3L1011.1 144.6L990.6 148.8L985.4 152.7L981 156.7L983.5 162.5L974.2 164.8L977.7 168.9L981.9 173L976.2 175.8L971.5 178.1L969.4 180.3L964.8 182.3L966.3 185.2L959.3 186.9L960.9 189.7L954.8 191L969.8 191.4L959.4 195.2L947.1 198.5L934.5 200L927.2 203.3L919.9 206.4L908.5 209.3L897.9 211.4L894.4 214.9L892 218.9L884.7 223.2L884.4 226L882.2 230.7L876.8 233.7L869.7 231.1L860.5 230.1L856.6 227.2L852.8 223.1L847.8 219.5L844.4 214.9L839.2 209.9L837.4 205.2L840.5 200.1L848.2 195.4L850.1 192.4L842.4 194.6L836 194.3L835.5 190.3L840.9 187.4L850.5 188.9L834.7 186.6L834.4 180.8L827.9 176.1L820.5 171.5L810.5 167.6L795.2 167.2L778.9 166.6M960.9 210.3L966.4 207.8L974.2 208.4L979.1 209.8L984.5 207.9L990.1 208.3L998 207L1003.5 207.4L1004 210.9L1007.1 213.3L1002.1 215.9L993.9 218L984 219.8L974.9 218.4L968.2 217.4L971.9 216L968.7 214.4L964.5 213.7L968.3 212.3L960.9 210.3M688.3 165.1L695 163L697.1 158.9L705.1 160.2L694.5 157.1L696.7 153.6L685.7 155.9L676.9 157.1L667.1 154.9L660.2 150.8L662.9 146.6L671.7 145L681.8 147L696.2 148.8L714.2 148.4L692.8 147.6L681.5 145.2L681 141.6L708.9 138.8L734.9 137.4L766.3 137.2L798.6 138.6L809.4 141L783.1 143.9L774.8 147.8L761.2 150.8L744 153L743.4 156L733.9 159.2L736 163L726.1 165.5L708.5 165.3L688.3 165.1M663.7 172.7L658.2 170.5L659.7 168.7L668.2 169.1L657.4 164L660.4 162.1L673.1 164.9L681 167.7L693 168.6L707.3 168.5L721.6 168.7L728.3 171L721.3 173.1L705.8 173.2L690.3 173.6L677 172.8L663.7 172.7M689.5 190.6L687.8 187.1L686 182.4L690 178.3L700.6 176.7L703.7 180.8L710.6 178.1L719.5 176.6L722.1 179.7L726.1 183.4L734.7 182.1L744 180.3L749.6 183.2L756 186.8L761.8 186.7L770.2 189.5L777.7 191.1L782.4 195.5L775.9 197.4L780.6 199.4L788.8 201L794.7 203L800 205.3L803.5 207.6L795.9 212.5L789.6 210L783 207.5L778.7 208.7L781.1 211.6L786.4 214.4L791.4 217.9L791.6 221.7L782.6 221.1L775.1 218.8L781.1 222.7L786.2 225.8L777.9 224.8L768.3 222.2L760.8 219.9L760.7 218.1L755.3 216.2L750.7 214.7L747 216.3L737.6 216.3L735.7 214.6L737.6 212.2L747.1 211.6L753.5 210.6L753.4 207.6L758.1 203.4L756.7 200.2L748.7 197.8L742.1 195.5L735.6 192.3L725.1 192.5L713.1 192.8L701.4 191.9L689.5 190.6M726.2 183.1L725.7 176.9L735.1 177L744 180.3L734.7 182.1L726.2 183.1M742.9 204.1L738.5 202.6L739.2 200L744.7 199L749.2 200.6L748.1 203.2L742.9 204.1M666.4 236L669.9 229.2L677.5 222.8L682.4 221.6L684.9 218.2L691.3 217L696.1 214.8L701.4 210.4L704.7 207.6L710.5 207.5L718.2 205.8L722.7 203.8L720.2 200.1L720 196.6L725.3 194L719.8 192.8L708 192.6L705.4 196.6L703 200.6L697.2 204L692.3 199.3L684.4 195.8L683.7 199.3L678.6 194.7L675.9 192.4L673.5 188.4L665.5 185L660.4 186.4L660.3 191.6L666.6 196.1L667.4 199.5L661.5 200.9L660.6 203.3L658.1 199.9L650.2 199.7L644.6 201.2L638.3 201.1M560.8 193.9L573.4 196.4L581.8 197.2L588.1 201.4L602.7 201L611.1 203.9L613.2 205.6L619.5 199.7L632 201L644.6 201.4L653 201.4L657.2 198.5L663.5 199.7L669.7 196.4L665.6 190.1L659.3 186.7L663.5 183.8L673.9 185.9L680.2 192.2L686.5 196.4L694.9 198.5L703.3 202.7L697 203.9L705.4 207.3M565 185.5L571.3 180.4L581.8 178.4L594.3 180.4L606.9 180.4L613.2 178.8L621.6 180.4L625.8 185.9L636.2 190.1L638.3 193L632 197.2L623.7 195.9L611.1 197.6L598.5 198L588.1 197.2L577.6 195.5L572.1 191.8L586 190.9L592.2 189.7L581.8 189.2L571.3 189.2L577.6 186.7L569.2 186.3L565 185.5M546.2 187.2L537 183.4L542 176.7L546.2 173.7L556.6 173.3L571.3 174.6L579.7 177.5L571.3 180L562.9 183.8L556.6 186.3L546.2 187.2M571.3 167.5L577.6 165L590.2 165.8L602.7 165L609 166.2L619.5 167L621.6 170.4L613.2 171.7L602.7 172.1L590.2 173.7L583.9 171.2L571.3 170.4L571.3 167.5M550.4 166.2L565 161.6L577.6 160.8L575.5 163.7L565 167L550.4 166.2M627.9 169.6L638.3 164.1L650.9 164.5L655.1 168.3L648.8 171.2L636.2 171.2L627.9 169.6M659.3 171.2L667.7 168.7L671.8 170.4L667.7 172.9L659.3 171.2M663.5 176.3L671.8 175L684.4 175.8L686.5 180.4L678.1 183.8L667.7 183.8L663.5 180.4L663.5 176.3M634.1 179.6L642.5 176.3L655.1 176.7L659.3 180.4L657.2 185.1L648.8 186.7L640.4 183.8L634.1 179.6M646.7 195.5L653 192.2L659.3 194.3L663.5 197.2L655.1 198L646.7 195.5M661.4 149.5L678.1 145.3L692.8 148.2L699.1 152.4L692.8 157.4L676 156.6L665.6 153.2L661.4 149.5M621.6 155.7L636.2 153.2L648.8 155.3L648.8 159.1L632 158.7L621.6 155.7M653 155.7L661.4 155.3L665.6 158.7L657.2 159.5L653 155.7M309.6 197.8L309.5 197.7M1817.5 197.7L1812.6 196.1L1795 193L1775.1 193.1L1771.6 195.9L1752.9 193.9L1737.4 193.8L1727.5 189.6L1703.2 188.5L1692.1 185.6L1652.7 180.3L1648.2 181.4L1650 186L1639.4 186.1L1631.8 186L1618.3 185.5L1612.3 188.9L1603.9 182.8L1597.9 178.1L1580.7 176.7L1579.5 179.6L1563.7 178.8L1546.9 176.8L1538.2 178.1L1523.2 174.6L1535.7 173.1L1539.2 168.8L1526.6 164.7L1511.2 164.4L1499.3 161L1493.6 162.5L1475.9 165.3L1463.7 167.5L1442.3 168.1L1428.9 171.7M1691.9 171.7L1684.3 173.4L1645.2 172.4L1639.7 170.2L1641.5 167.5L1653.2 166.8L1667.5 168.5L1691.9 171.7M1664.4 177.6L1660.3 179.6L1651.2 178.4L1655.2 176.4L1664.4 177.6M1466.5 145.2L1484.4 149.6L1483.9 154.9L1469.6 155.8L1452.6 152.5L1437.9 148.1L1466.5 145.2M1494.2 154L1503.5 157.6L1484.2 159.4L1483.1 155.8L1494.2 154M318.6 187.1L309.5 188.8M1817.5 188.8L1817.3 188.8L1810.7 187.5L1817.3 185.4L1817.5 185.4M309.5 185.4L318.6 187.1M1817.5 221.1L1814.6 219.8L1811.2 215.2L1804.9 214.4L1811.2 211L1817.5 208.7M1159.2 190.2L1166 188.7L1181.9 187.9L1193.6 190.6L1194 193.7L1208 194.8L1224.7 198.1L1234.5 201.7L1234.5 205.6L1229.8 208.5L1220.2 208.6L1211.6 207.6L1203.4 206.4L1210.8 211L1211.9 215.5L1218.9 217.7L1218.9 213.5L1222.9 212.7L1232.5 214.4L1233.7 209.9L1240.7 206.7L1248.9 207.5L1248 203.6L1247 199.1L1256.7 200.3L1255 204.5L1263.4 204.9L1270.2 201.5L1291.1 197.5L1290 199.9L1304.1 198.4L1315.3 197L1313.8 194.3L1323.5 193.4L1340.8 196.2L1351.5 200.1L1348.5 195L1346.3 189.8L1353.8 184.2L1357.9 180.1L1366.7 181L1366.9 185.5L1369.8 191.5L1368.7 196.1L1374.3 199.9L1372.4 203.6L1363.7 208.3L1368 208.1L1372.2 206.3L1378.2 202.1L1376.9 197L1376.6 191.7L1373.6 186.6L1380.1 184.3L1383.1 186.3L1390.9 183.5L1398.7 182.2L1403.1 185L1402.5 178.5L1413.8 176.3L1425.9 175.2L1423.7 172.6L1435 170.7L1455.9 168.2M1348.5 163.8L1350.2 166L1318.4 170.7L1309.2 175.1L1298.8 180.1L1294.7 185.2L1303.5 189.4L1291.6 189L1282.7 185.8L1285.3 181.9L1292 177.3L1299.6 172.7L1309.4 168.5L1327.3 165.6L1348.5 163.8M1107.8 151.9L1125.6 149.9L1138.5 151.5L1140.9 148.9L1162.9 147.9L1175.9 150.4L1165.4 153.4L1149.4 155L1138.2 158.8L1136 163.2L1127.5 163.6L1122.9 160.6L1115.7 157.6L1107.8 151.9M1152.9 158L1166.3 158.3L1163.1 160.8L1152.3 160.8L1152.9 158M1268.3 146.4L1277.6 147.8L1265.8 149.9L1256.6 148.8L1268.3 146.4M1062.6 784.1L1079 781.9L1096.1 778.3L1103 780.3L1107.7 781.4L1120.1 778.4L1128.7 779L1142.5 778.3L1154.5 779.7L1161.3 781.6L1179.5 780.2L1196.6 776.9L1205.5 772.4L1217.8 775.9L1228.6 776.3L1238.7 772.3L1254.1 769.6L1264 768.6L1274.6 765.9L1282.6 760.8L1292 761.2L1303.3 762.7L1309.2 766.5L1321.2 769.2L1334.6 768L1351.4 770L1353.7 775.4L1347.2 781L1350.3 785.8L1355.6 787.1L1363.3 784.4L1371.3 778.2L1384.6 776.6L1395 771.9L1411 768.1L1425.3 766.6L1432.5 762.8L1439 766.8L1456.3 767.3L1466.4 766.3L1477.1 767.1L1485.6 763.1L1494.2 760.3L1507 764.5L1520.8 764.2L1532 761.1L1542.8 761.3L1560 766.1L1569.9 766.2L1583.6 763.5L1600.2 763.6L1614.6 762.2L1628.5 762.4L1629.6 759.1L1635.6 764.3L1654.7 764.7L1673.9 765.7L1683.1 770.1L1708.7 772.3L1730.7 777.8L1743.8 781.5L1768.2 782.9L1781.3 786.4L1773.1 792.9L1762.9 796.5L1751.2 802.7L1751.7 809.9L1760.2 813.9L1743.1 818L1729.8 824.5L1742.6 829.5L1770.5 835.4L1792.5 838.6L1817.5 838.6M309.5 838.6L340.5 838.5L373 840L435.7 843.8L462.9 839.8L425.7 836.4L424.6 828.7L448.3 822.6L446.3 819.5L420.3 816.7L398.5 808.2L411.9 809.9L428.8 809.6L456.2 804.1L454.4 801.1L470.4 799.7L491.3 797.7L518.2 797L547.8 797.8L575.4 795.8L590.7 794.7L598.6 798.5L625.7 798.7L643.2 800.4L641 796.1L631 789.9L640.3 789.8L657.3 793.4L679.2 791.1L688.5 789.8L700.6 793.7L707.2 791.6L727.2 793.6L747.7 794.4L775.5 792.3L789 789.4L793.3 784.3L788.5 777.6L782.7 771.2L785.2 765L793.3 759.4L804.5 754.2L819 750.8L823 751.2L816.5 754.1L800.8 759.8L791.1 766.9L797.2 774.7L806.2 780.7L807 788.2L805.7 794.6L792.2 799.5L770.1 804L740.9 807.5L752.5 811.8L739.5 816.7L752.3 821.8L781.7 826.8L814.4 830.7L821 833.9L848.9 828.2L902.5 826.3L941.2 822.1L940.5 818L918.7 818L915.2 814.1L938.7 807.6L964.7 803L989.2 798L998.3 794.5L999.8 790.4L1014.7 785.9L1020.5 783.5L1032.7 784.8L1035.8 782.2L1045.6 784.5L1062.6 784.1M767.9 774L776.9 779.3L781.6 785.3L770.9 788.7L754.6 788.9L750 785.4L761.3 783.3L763.1 778.2L767.9 774M869 812.4L878.6 815.3L873.4 821.1L852.7 824.6L837.7 822.6L847 817.9L858 812.9L869 812.4M397.3 817.1L389.5 818.4L380.1 814.6L385.8 812.8L397.3 817.1M657.7 786.9L659.1 788.9L636.8 788.2L636.3 785.7L657.7 786.9M1351.7 689.8L1358.8 691.1L1357.6 693.6L1351.7 693.2L1351.7 689.8M903.5 711.6L911.4 712.9L913.5 715L906.4 713.3L903.5 711.6M1267.9 460L1270.5 455.2L1274.1 448.1L1276.7 441.1L1277.1 434.1L1272.3 435.4L1263.5 437.6L1254.7 439.3L1247.7 441.1L1244.6 437.6L1241.5 435.4L1243.3 433.2L1241.5 430.5L1237.1 426.6L1232.7 422.6L1228.4 418.2L1225.7 413L1222.2 408.6L1219.6 405.1L1218.7 398L1216.9 392.7L1212.1 387.5L1211.6 384L1209 377.8L1205.5 371.6L1202 366.4L1198.9 361.1L1204.2 369.5L1207.7 365.1L1209 361.5L1208.1 366.4L1210.8 371.6L1215.2 377.8L1219.6 382.2L1224 386.6L1226.6 391.9L1227.9 396.3L1231.9 400.7L1234.9 405.1L1237.6 409.5L1240.7 413L1242 417.4L1242.9 422.6L1243.7 427.9L1244.6 431.9L1250.3 431.4L1254.7 429.2L1259.1 427.9L1264.4 425.3L1269.7 422.6L1276.7 420L1282 417.4L1285.5 414.7L1291.6 413L1294.3 410.3L1299.6 408.6L1304.8 404.2L1306.6 399.8L1311.9 394.5L1312.7 391.9L1309.2 387.5L1304.8 384.8L1301.3 382.2L1299.6 376.9L1298.7 373.8L1296 376.9L1292.5 380.4L1289.9 383.5L1283.7 383.5L1279.3 383.5L1277.6 380.4L1278 376L1276.3 375.6L1275.4 379.6L1273.6 376.9L1271.4 373.4L1268.8 369L1265.7 364.6L1264.8 360.7L1267 358L1273.2 358.9L1275.8 363.7L1279.3 368.1L1285.5 370.8L1292.5 373.4L1297.8 371.2L1302.2 372.5L1303.1 376L1308.4 377.4L1314.5 378.7L1320.7 379.6L1329.5 378.7L1340 378" fill="none" stroke="#000" stroke-width="1.9" stroke-linejoin="round" stroke-linecap="round"/>
<path clip-path="url(#cn)" d="M543 1598.7L534.8 1590.8L525.6 1581.7L521.4 1583.7L508.2 1577.4L512 1571.9L517.6 1568.5L517.4 1560.7L523.9 1562.3L531 1566.7L537.9 1570.3L543 1572.2M543 1621.7L537.1 1620.5L539.1 1617.3L543 1616.6M512.3 1554.7L505.7 1554.7L498.9 1553.7L501.9 1550.1L508 1550.7L512.3 1554.7M395.1 1691.7L399.3 1687.9L402.2 1684.6L400.7 1681L404.1 1680.6L404.7 1677L409.7 1676.7L413.7 1675.7L411.8 1671.5L416 1668L417.9 1662.4L419.8 1656.7L420.8 1651.3L421.5 1647L427 1646.4L432 1645.4L439.2 1643.8L444.5 1641.8L452.4 1638.3L461.1 1634.8L468.9 1633.2L473.1 1632.2L477.1 1633.5L481.3 1633L483.9 1628.5L488 1624.9L491.8 1619.5L493.9 1615.5L495.3 1608.4L501.7 1601.2L498.4 1597.6L492.8 1595.1L486.5 1590.9L480.8 1586.6L487.1 1584L494.2 1580.4L500.4 1575L495.8 1570L491.6 1567L483 1569.9L472.8 1574.2L470 1565.5L474.3 1560.6L478.8 1555.2L483 1547.9L484.5 1540L480 1533.3L471.6 1530.4L463 1527.8L459.6 1522.9L454.4 1526.1L447.9 1523.5L444.3 1528.5L438.9 1529.9L438.5 1518.8L438.8 1509.7L446.4 1497.9L455 1486.9L463.2 1478.1L459.3 1480.6L448.4 1491.8L437 1504.9L430.6 1518.5L427.2 1528.5L424.9 1537.8L426.4 1550.1L424.7 1557.3L422.4 1563.1L418.3 1556.3L420.5 1549.4L417.5 1544.6L413.8 1551.2L412.1 1558L411.5 1563.4L407.8 1566.5L400.5 1567.3L391.4 1571.3L383.6 1574.7L375 1577.4L366.4 1577.8L360.8 1579.2L353.1 1583.7L345.8 1586.3L334.7 1581.9L324 1578.4L313.7 1578.2L303.5 1576L293.1 1574L282.9 1573.9L275.5 1572.2L272.7 1564.5L265.8 1567.6L255 1572.2L245.8 1575.5L235.8 1570.1L225.9 1565.6L216.4 1557.1L206.6 1548.9L193.3 1535.8L179.4 1529.7L167.5 1525.8L153 1525L137.6 1524.1L122 1523.6L110.1 1522.9M272.1 1564L268.6 1569.7L259.7 1574.1L246.9 1577.7L234.8 1578L223.5 1574.5L232.3 1572.1L245.5 1569.7L258.9 1565.2L272.1 1564M316.8 1563.7L311.9 1570L294.5 1559.5L301.7 1558.7L310.4 1560.5L316.8 1563.7M421.6 1521.5L418.1 1528L412.9 1529.6L413.3 1522.5L417.4 1518.3L421.6 1521.5M336.9 1791.4L326.7 1784.4L316.8 1776.7L308.8 1770L299.2 1762.6L288 1757.3L279.8 1755.4L274.2 1762.8L265.8 1764.4L259.6 1765.9L255.3 1776.5L247.1 1789.7L242.5 1799.6L244.1 1809.1L244.3 1816.8L234.4 1819.8L224.6 1824.6L215.7 1830.2L209.8 1837.1L217.7 1841.3L230.6 1839.2L241.5 1832.1L249.5 1837.4L259.8 1844.9L272.7 1840.9L281.4 1833.6L284.8 1830.3L297.8 1830.6L308.7 1826.7L313 1830.7L314.1 1836.7L313.4 1846.4L312 1854.9L309.4 1861.7L301.5 1867.1L293.4 1874.1L290.6 1881.4L301 1885.4L311.6 1887L310.6 1890.2M316.4 1788.1L327.1 1791.3L334.7 1793.3L328 1801.7L320.7 1813.4L315.4 1809L319.9 1802.6L312.6 1796L316.4 1788.1M309.9 1802.2L313.2 1807.8L310.9 1810.4L306.3 1805.7L309.9 1802.2M308.7 1817.6L310.7 1819.6L306.1 1821.5L303.7 1819.7L308.7 1817.6M310.9 1885.5L304.1 1898.1L291.2 1917L282.2 1935.3L279.9 1950.9L269.7 1964.2L257.9 1960.2L240.9 1952.4L230.1 1935.4L222.4 1919.1L208.1 1910.3L194.1 1905.6L179.8 1900.4L198.1 1909.2L211.6 1918.9L217.9 1928.7L215.2 1935.5L207.2 1935.2L199.5 1939.9L198.4 1951.3L205.4 1961.6L213.3 1964.2L206.2 1969.1L196.8 1966.3L182.8 1959.2L166.3 1948.2L170.7 1941.9L183.5 1948L177.3 1939L170 1931L162 1925.7L151.5 1921.8L141.4 1923.4L135.8 1926.4L132.3 1916.4L124.7 1908.6L116.4 1900.7L104.7 1898.1L95.5 1892.9L101.2 1887.5L88.8 1888.4L92.6 1884.5L78.1 1890.1L67.4 1898.5L60.6 1900.2L44.6 1887.4L26.4 1874.2M262.6 1965.4L247 1970.4L231.6 1969.2L223.8 1966.5L230 1978L232.8 1990.6L232.5 1999.6L234.5 2006L244.2 2003.4L250.6 1995.3L249.9 1987.2L252 1977.9L258.5 1971.8L262.6 1965.4M226.9 1937.5L230.7 1942.7L230.9 1950.3L225.5 1944.9L226.9 1937.5M196.6 1944.5L202 1952.2L202.9 1960.1L195.8 1952.6L196.6 1944.5M114.4 1522.5L99.4 1527.2L77.4 1534.1M607.6 1931.1L599.2 1939.4L592.2 1955.1L588.3 1969.4L584 1986.9L577.7 1999.6L568.5 2007.5L564 2016.2L565.8 2027.6L567.9 2040.8L574.8 2048.5L581.9 2049.2L587.8 2041.5L590.1 2030.9L593.4 2043.9L598.9 2053.1L604.9 2063.9L609.1 2069.9L615.2 2066.7L616.8 2057.6L621.7 2054.5L622 2045.6L621.9 2033.4L624.2 2023.9L617.3 2015.7L614.1 2008L615.4 1997.2L617.8 1984.3L620.1 1974.7L623.2 1968.2L628.9 1964.6L632.5 1967.6L631.5 1977L629.5 1986.8L629.1 1997.6L632.5 2008.6L638.7 2013.3L646 2013.8L653.9 2007.3L664.1 2002.1L671.9 2002.6L664.7 2010.4L652.4 2015.7L650.9 2020.7L655.7 2031.4L659.4 2035.3L651.4 2035.1L651.5 2042.4L652.1 2051.3L652.8 2058.3L646.8 2064.2L639.9 2068.4L631.1 2073L622.4 2079L612.7 2081.4L604.2 2079.7L597.5 2075.8L592.9 2066.3L594.1 2052.3L590 2054.8L586.3 2060.5L586.2 2072.5L590.2 2085.7L583.9 2091.8L576.2 2096.1L568.6 2103.8L563.9 2112.8L556.6 2118.4L550.2 2125.6L541.3 2129.2L529.9 2130.7L530.8 2137.8L517.9 2140.7L512.8 2145.6L522 2151.6L528.7 2162.7L533.3 2177.3L531.7 2191.9L516.9 2193L495.7 2191.2L478.2 2190.7L473.1 2197.3L474.8 2212.7L469 2230.8L471.6 2242.9L468.6 2252.2L485.1 2256.4L490.2 2266.8L502.6 2269.9L510.9 2264.7L528.3 2257.7L536.1 2248.3L540.7 2238.8L546.5 2223.6L558.9 2210.2L568.2 2204.2L575.9 2196.3L589 2193.2L603.6 2182L614.6 2183.9L622.2 2195.6L635.3 2204.4L648.4 2211L665.7 2220.1L673.2 2230L675.3 2221.4L671.2 2212.7L680.4 2207.9L681.4 2201.6L670.4 2195.2L657.7 2191.2L647 2182.6L639.2 2173.2L630.8 2165.8L636.6 2162.6L642.9 2166.6L650.2 2174.1L664.6 2185.3L681.1 2191.8L693.4 2201.5L706.2 2210.9L720.2 2222L727.4 2227.4L728.7 2218.5L727.8 2208.4L735.4 2207.2L728 2197.9L718.3 2193.8L715.4 2186.9L728.4 2181.2L740.4 2173.3L747.5 2165.5L755.2 2159.2M755.2 2159.2L744.4 2156.6L738 2147.4L738 2130.8L740 2121.3L739.8 2111L745.2 2105.6L755.4 2107.7L764.7 2110.3L771 2099.3L781.4 2098.5L792.8 2094.4L807.5 2091.8L823 2095.4L829.4 2104.7L824.5 2116.2L810.1 2125.3L793.3 2130.8L778.5 2138.6L769.7 2150.7L762 2159.7L755.2 2159.2M766.2 2096.1L768.7 2085.5L781.9 2070.7L781.7 2082.3L781.9 2093.6L770.6 2096.5L766.2 2096.1M747.5 2165.5L742.1 2176.7L745 2185.8L755.4 2193.3L763.4 2202.2L773.9 2205.4L788.4 2199.5L798.5 2198L807.1 2188.1L817.5 2181.2L825.5 2170.8L834.8 2181L841.5 2193.1L847 2206.5M660.2 2288L645.9 2284.9L635.4 2282.9L631.7 2271.5L634.6 2261L634.3 2251.2L623.3 2251.2L608.1 2253.5L586.9 2257.9L565.5 2263.2L543.7 2269.6L524.7 2273.2L508.5 2276.3L496.1 2271.3L486 2276.2L471 2290.2M517.2 2049.1L527.8 2048.2L524.6 2056.4L530.8 2058.5L527.5 2070.1L533.9 2075.5L539.5 2089.3L542.4 2099.6L551.9 2104.7L551 2113.4L545.7 2118.7L552.4 2123.8L541.3 2127.4L530 2128.9L518.5 2131.9L507.7 2125.6L517 2121.2L523.9 2116.4L515.4 2114.1L513 2105.1L520.6 2102.3L523.1 2095.5L520.5 2088.5L517.1 2081.3L519.9 2071.3L513.8 2065.7L517.3 2057.5L517.2 2049.1M489.9 2090L498.4 2080.9L508.6 2078.8L510.6 2087.6L507.2 2099.3L502.3 2105.7L493.1 2109.7L484.9 2106.6L490.5 2098.8L489.9 2090M606.9 2194.5L610.6 2192.1L614 2204.6L611.1 2208.9L607.2 2202L606.9 2194.5M608 2211.3L616 2208.1L620.6 2226.4L614 2231.3L608.8 2220.6L608 2211.3M645.4 2237L662.5 2230.9L666.4 2233.8L664.9 2246.2L653.5 2245.1L644.8 2241.1L645.4 2237M739.9 2232.7L762.4 2224.5L763.6 2230.5L743.7 2237.5L739.9 2232.7M810.1 2204.7L816.1 2196.2L823.6 2181.7L822.6 2194.3L817.7 2204.6L810.1 2204.7M837.5 2055.9L834.7 2032L839.4 2015.9L850.5 2009L858.5 2017L855 2032.6L869.5 2040.1L885.1 2035.1L898.8 2032.2L899.3 2043.4L913.6 2051.9L930.2 2061.7L923.5 2078.5L903.8 2087.2L886.9 2077.5L882 2061.5L865.7 2059L852 2060.5L837.5 2055.9M986.1 1516.3L976.3 1529L960.8 1522.1L944.3 1514.2M985.4 1519.1L980.9 1531.1L967.3 1532L947.7 1521.2L946.7 1535.2L952.2 1549.4L953.3 1561.5L939.4 1560.7L926.1 1551.7L917.4 1544.5L934.9 1538.8L942.8 1528.7L930.7 1527.5L917.9 1522.8L929.4 1512.7L934.1 1502.6L938.6 1492.2L952.1 1477.4L941.6 1467.6L926.4 1464.3L915.6 1478.1L907.9 1491.5L907.5 1498.8L889.7 1499L866.4 1500.2L852.2 1494.6L838 1489.7L813.7 1491.3L787.3 1497.6L761.4 1510.5L742.3 1525.7L743.4 1540.4L754.3 1543.2L758.2 1561.5L729 1564.5L704 1567.3L689.3 1558.8L674.3 1551L670.8 1544.2L656.6 1539.3L639.6 1552.1L628 1549.7L626.4 1542.5L609 1552.1L606.8 1549.3L616.3 1541.3L627.2 1534L639.9 1524L653.4 1517.2L666.4 1506.7L672.2 1485.9L677.2 1464.5L659.6 1476L640.7 1487.4L627.5 1501.1L619.3 1520.5L607.4 1528.1L594.5 1529.3L581.5 1533.3L565 1539.5L553.4 1542.8L543 1546.7M732.2 1532.5L742.7 1512.4L751.7 1483.7L757.5 1487.9L770.4 1478.1L772.1 1468.2L777.6 1471.2L766.9 1492.3L749 1517.2L735.2 1532.7L732.2 1532.5M786.4 1464.9L785.6 1444.3L776.2 1440.5L782.9 1436.7L797.9 1439.1L810.2 1439.8L809.8 1451.3L798.5 1459.9L786.4 1464.9M817.2 1439.5L823.3 1426.3L839.5 1414.9L856.3 1400.6L874.9 1397.1L888.7 1406.2L904.4 1407.5L906.8 1416.8L915.4 1425.7L930.2 1434.5L941.6 1443.9L924.6 1439.4L906.4 1434.1L888.9 1423.4L874.8 1426.7L857 1423.5L836.1 1430.6L824.2 1439.2L817.2 1439.5M944.2 1447.1L936.7 1434.3M924.6 1428.3L911.4 1418L913.9 1409.8L924.4 1417.1L924.6 1428.3M433.6 1822.1L438.6 1814.3L443.6 1817.1L445.7 1807.9L451.4 1807.1L461.4 1812.9L468.6 1808.6L480 1811.4L488.6 1809.3L490 1818.6L500 1820L510 1820.7L518.6 1827.1L520.7 1833.6L512.9 1835.7L515.7 1841.4L526.4 1844.3L527.1 1849.3L518.6 1855.7L514.3 1862.9L510 1870L507.1 1881.4L501.4 1884.3L500 1892.9L499.3 1901.4L494.3 1905.7L490 1909.3L487.1 1912.9L482.9 1915.7L481.4 1921.4L475.7 1922.9L474.3 1928.6L469.3 1929.3L478.6 1934.3L468.6 1938.6L457.1 1940.7L447.1 1938.6L438.6 1941.4L430 1943.6L418.6 1942.9L408.6 1940.7L401.4 1944.3L394.3 1949.3L382.9 1951.4L378.6 1955.7L370 1961.4L361.4 1962.1L360 1952.9L355 1944.3L357.1 1937.1L361.4 1928.6L364.3 1920L370 1911.4L375.7 1901.4L382.9 1894.3L392.9 1890L404.3 1888.6L410 1885.7L402.9 1884.3L400.7 1880L407.1 1875L414.3 1874.3L415.7 1881.4L413.1 1870L422.9 1862.9L428.6 1854.3L434.3 1845.7L438.6 1837.1L435.7 1830L433.6 1822.1M456.4 1967.9L462.9 1965L468.6 1968.6L471.4 1972.9L477.1 1970.7L481.4 1972.9L488.6 1972.1L492.9 1974.3L491.4 1981.4L492.9 1987.1L487.1 1991.4L478.6 1993.6L468.6 1994.3L461.4 1988.6L456.4 1984.3L460.7 1982.9L459.3 1978.6L456.4 1975.7L460.7 1974.3L456.4 1967.9M428.1 1778.7L432.3 1781.7L440.8 1782.3L438.4 1785.9L444.4 1781.1L451.6 1781.7L446.8 1777.5L444.4 1773.8L449.2 1770.2L457.7 1768.4L466.2 1770.2L469.2 1773.2L464.9 1776.3L461.3 1781.1L462.5 1787.1L463.7 1779.9L468.6 1776.3L475.8 1776.3L481.9 1783.5L485.5 1789.6L487.9 1796.8L488.5 1805.3L485.5 1810.1L477 1805.9L468.6 1806.5L461.3 1804.1L455.3 1799.2L449.2 1800.4L442 1798L434.7 1800.4L428.7 1796.8L428.1 1788.4L428.1 1778.7M413 1765.4L417.8 1763L421.4 1764.2L420.2 1768.4L431.1 1764.2L434.7 1766L428.7 1771.4L422.6 1775.1L420.8 1781.1L421.4 1788.4L422 1795.6L417.8 1799.8L413 1796.8L411.8 1788.4L410.5 1779.9L412.4 1772.6L413 1765.4M375.5 1779.9L382.7 1778.7L392.4 1777.5L400.9 1779.9L404.5 1785.9L396 1788.4L402.1 1792L405.7 1796.8L399.7 1799.2L392.4 1802.9L396 1807.7L400.9 1812.5L396 1817.4L390 1823.4L391.2 1827L387.6 1834.3L386.4 1840.3L379.1 1847L373.7 1844L371.3 1848.8L370.7 1856L368.8 1862.1L366.4 1868.1L363.4 1873L351.3 1871.8L353.7 1864.5L356.2 1857.3L352.5 1854.8L347.7 1859.1L344.1 1865.7L339.2 1873L332 1876.6L329.6 1868.1L331.4 1859.7L325.9 1868.1L321.7 1875.4L320.5 1866.9L322.3 1856L324.7 1847.6L328.4 1846.4L330.8 1840.3L332.6 1835.5L328.4 1833.1L326.5 1824.6L329.6 1822.2L335 1822.8L338 1830.7L341.6 1835.5L347.7 1833.7L357.4 1834.9L363.4 1831.9L366.4 1824.6L370.1 1818.6L375.5 1812.5L373.7 1805.3L371.9 1796.8L373.1 1788.4L375.5 1779.9M393 1802.9L405.7 1800.4L406.3 1805.9L400.9 1812.5L396 1807.7L393 1802.9M352.5 1823.4L354.9 1819.2L360.4 1818.6L363.4 1822.2L361 1826.4L355.5 1827L352.5 1823.4M280 1755.7L294.5 1760.5L307.8 1769L310.2 1773.8L317.5 1776.3L319.9 1782.3L324.7 1786.5L334.4 1790.8L340.4 1793.2L341 1798L345.3 1804.1L350.1 1807.1L357.4 1804.1L364.6 1802.9L370.7 1805.9L372.5 1801.6L371.9 1793.2L363.4 1792L354.9 1790.8L347.7 1786.5L357.4 1782.3L364.6 1776.3L357.4 1775.7L367 1772L371.9 1770.2L380.3 1769L387.6 1764.2L385.2 1760.5L374.3 1759.3L364.6 1763L357.4 1763L354.9 1758.1L350.1 1756.9L357.4 1755.7L358.6 1749.7L356.2 1744.8L357.4 1740M392 1690.6L383 1696.3L378.6 1701.2L368.7 1702L365.2 1713.1L357.2 1717.4L353.3 1718L363.6 1726.4L358.6 1735.2L355.8 1744.8L354.7 1751.3L360.4 1755.4L357.3 1759.9L363.8 1765.3L377.1 1763.3L384.5 1759.7L390.2 1763.1L385.4 1769.5L372.2 1773.3L363.4 1777.8L359.1 1784.2L350.7 1791.2L347.8 1786.3L341.2 1793.7M405.7 1701.7L413 1710.1L414.1 1717.7L407.1 1722.9L404.4 1730.1L406.5 1734.8L401.8 1738.6L390.2 1738.3L380.1 1743.2L373.9 1743.4L366.3 1737L370.4 1731.5L369.7 1721.5L372.1 1712.2L376.7 1705.5L383.2 1699.8L391.9 1699.8L389.3 1709.4L390 1714.4L393.7 1708.2L396.9 1701.7L399.6 1707.9L402.9 1703.3L405.7 1701.7M409.2 1689.3L419.1 1688.7L428.6 1699.2L432.3 1704.5L430 1709.9L423.7 1715.7L416.2 1717.3L413.8 1710.5L409.4 1702.2L407 1696.1L409.2 1689.3M436.7 1722.5L439.9 1727.5L435.8 1732.3L435.2 1738.6L431.8 1740.6L428.6 1745L421.7 1744.2L420.5 1739.2L421.5 1733.6L420.8 1725.9L426.9 1724.9L431.4 1719.7L436.7 1722.5M444.1 1714.8L448.7 1725.5L447.6 1731.3L442.7 1727.8L438.9 1720.1L444.1 1714.8M422.6 1747.8L432.3 1755.3L430.4 1761L422.5 1761.9L417 1757.8L418.2 1751.3L422.6 1747.8M416.2 1763.4L421 1768.2L417.4 1770.1L412.4 1767.5L416.2 1763.4M405.7 1764.6L407.9 1769.5L406 1776.6L396.5 1777.8L389.6 1772.4L390 1765.8L397.1 1763.8L405.7 1764.6M401.6 1746.5L407.4 1752.7L405.4 1759.7L397.4 1761.2L388.1 1758.8L385.4 1752.8L392.3 1748.5L401.6 1746.5M367.6 1748.4L373.8 1754L368.9 1758L362.5 1760.4L361.5 1753.9L367.6 1748.4M460.4 1769.1L468.5 1775.2L462.5 1779.9L454.1 1782.5L443.8 1780.4L445.5 1773.5L452.6 1769.9L460.4 1769.1M450.6 1752.2L454.2 1758.9L449.2 1762.9L441.6 1761.7L443.8 1754.9L450.6 1752.2M448.1 1764.5L448.5 1767.9L441.5 1768.9L440.2 1765.2L448.1 1764.5M542.9 1595.3L546.7 1598.9L559.1 1606L573.4 1607.8L576.9 1602.4L589.4 1609.5L600.1 1613.1L603.6 1623.8L617.9 1632.7L621.5 1641.6L635.7 1664.7L639.3 1664.7L644.6 1656.7L649.9 1661.2L653.5 1664.7L658.8 1671.8L666.8 1670.1L660.6 1682.5L655.3 1691.4L658.8 1701.2L664.2 1698.5L667.7 1707.5L668.6 1718.1L673.1 1721.7L669.5 1732.4L664.2 1727L655.3 1728.8L649.9 1737.7L651.7 1744.8L646.4 1752L649.9 1753.7L657.1 1760.9L662.4 1766.2L664.2 1776.9L671.3 1784M607.2 1666.5L612.5 1665.6L628.6 1679.9L627.7 1685.2L623.2 1688.8L617.9 1686.1L614.3 1679L607.2 1666.5M626.8 1664.7L631.2 1662.9L633.9 1668.3L629.5 1670.1L626.8 1664.7M617 1769.8L625 1762.6L635.7 1760.9L638.4 1766.2L632.1 1773.3L623.2 1778.7L617 1769.8M633 1757.3L639.3 1752L644.6 1759.1L637.5 1760.9L633 1757.3M536.9 1617.5L543.1 1614L547.6 1616.7L543.1 1621.1L536.9 1617.5M543 1546.1L545.8 1548.8L548.7 1558.6L554.4 1560.6L548.5 1567.5L543 1572.4M607.7 1931.5L610.8 1926.7L619.7 1920.4L629.5 1921.3L633 1926.7L642.8 1923.1L657.1 1921.3L667.7 1922.2L673.1 1928.4L674 1935.6L667.7 1940.9L660.6 1943.6L653.5 1945.4L664.2 1949.8L670.4 1956.9L678.4 1956.9L673.1 1949.8L674.9 1946.2L683.8 1943.6L678.4 1935.6L678.4 1926.7L684.6 1923.1L678.4 1917.8L671.3 1911.5L678.4 1908L683.8 1915.1L689.1 1910.6L687.3 1901.7L690.9 1883.9L694.4 1887.5L698 1876.8L699.8 1867.9L694.4 1866.1L696.2 1859L706.9 1850.1L717.6 1845.7L706.9 1843.9L696.2 1841.2L687.3 1832.3L680.2 1827L683.8 1822.5L692.7 1825.2L705.1 1827L714 1830.5L722.9 1828.7L730 1832.3L737.2 1842.1L738.1 1838.5L735.4 1834.1L728.3 1827L717.6 1825.2L706.9 1822.5L696.2 1821.6L692.7 1816.3L697.1 1815.4L692.7 1809.2L690.9 1803.8L697.1 1802L683.8 1800.3L680.2 1793.1L678.4 1786L673.1 1786.9L669.5 1780.7L664.2 1770M647.3 1819.8L651.7 1820.7L653.5 1839.4L658.8 1848.3L664.2 1859L671.3 1867L682 1867L676.6 1873.3L667.7 1874.1L662.4 1867.9L657.1 1859L651.7 1850.1L647.3 1841.2L646.4 1830.5L647.3 1819.8M559.1 1864.4L564.5 1859L569.8 1860.8L568.9 1855.5L575.2 1851L581.4 1853.7L580.5 1860.8L576.1 1866.1L574.3 1875L576.1 1883.9L572.5 1885.7L568.9 1880.4L564.5 1875L559.1 1864.4M579.6 1871.5L585 1869.7L585.8 1875L581.4 1876.8L579.6 1871.5M601 1828.4L605.1 1827.9L605.8 1833.7L601.9 1834.4L601 1828.4" fill="none" stroke="#000" stroke-width="1.9" stroke-linejoin="round" stroke-linecap="round"/>
<path clip-path="url(#cs)" d="M1083.2 1614.5L1107.7 1629.3L1119.4 1637.8M1166.5 1470.2L1167.2 1482.9L1161.4 1494.8L1147.5 1505.2L1140.7 1508.8M1097.3 1629.4L1119.9 1642.8L1147.1 1652.2L1168.3 1659.8L1170.7 1651.8L1184.1 1658.7L1181.9 1666.4L1189.3 1667.1L1201.6 1677.1L1207.7 1682.6L1211.6 1674.7L1222.2 1683.8L1242.4 1690.3L1263.5 1692.4L1273.8 1687.7L1288.9 1679.7L1299.3 1670.9L1303.7 1664.3L1302.1 1650.8L1295.7 1656.7L1282.3 1657.8L1274.3 1659.2L1274.6 1668.3L1281.4 1675L1278.5 1678.4L1273.9 1670.2L1270.3 1659.9L1260.9 1655.2L1252.3 1648.3L1246 1635.7L1237.4 1624.2L1226.2 1627.4L1217.2 1620.8L1210.3 1609.3L1199.2 1598.3L1198.3 1587.3L1190.8 1594.4L1183.4 1592.5L1185.6 1579.4L1179.8 1570L1171.7 1560.8L1178 1545.5L1180.8 1533.2L1177.4 1520.3L1169.3 1511.4L1155.9 1510.5L1142.4 1509.8L1149.2 1506.3L1163.1 1495.9L1167.2 1482.9L1163.7 1464M1286.9 1615.5L1288.2 1606.2L1295.3 1597.8L1297.5 1604.2L1292.5 1611.2L1292.8 1616.3L1286.9 1615.5M1745 1281L1752.7 1296.8L1773.7 1299.4L1797.5 1306.9M1827.5 2229L1824 2199.6L1825.5 2189.4L1838 2165.8L1856.4 2163L1863.4 2151.3L1885 2151.4L1900.2 2152.8L1924.8 2160.6M1929.2 2145.3L1943.7 2150.5M2019.8 2057.5L2029.4 2036.3L2033.2 2012.3L2041.8 2001.4L2049.7 1997.6M1839.5 2139.3L1831.2 2148.2L1816.4 2154.6L1808.5 2138.1L1811.6 2125.7L1822.8 2128.8L1839.5 2139.3M1649.5 2284L1631.7 2266.7L1617.6 2254.3L1596.3 2255.4L1600 2239.3L1611.5 2225.5L1618.6 2214.5L1627.5 2224.2L1624.7 2237.7L1630.1 2250.6L1649.5 2284M1631.4 2223.7L1624.5 2213.9L1632.4 2197.5L1644.2 2175.2L1655.7 2158.9L1669.6 2157.5L1675.9 2161.2L1663.4 2179.6L1648.1 2200.5L1641 2219.9L1631.4 2223.7M1582.2 1618.3L1593.4 1614.1L1606 1607.9L1610.2 1612.7L1613 1615.5L1622.8 1611.3L1628.4 1614.1L1638.2 1615.5L1645.2 1621.1L1648 1626.7L1660.7 1629.5L1674.7 1629.5L1685.3 1625.3L1688.7 1636.5L1694.3 1642.1L1705.5 1640.7L1718.1 1644.9L1725.1 1649.1L1734.9 1651.9L1747.5 1650.5L1751.7 1657.5L1754.5 1667.3L1750.3 1675.7L1750.3 1686.9L1757.3 1695.3L1758.7 1709.3L1748.9 1714.9L1736.3 1714.9L1727.9 1720.5L1726.5 1724.8L1733.5 1727.6L1747.5 1729L1753.1 1737.4L1764.3 1743L1774.1 1754.2L1778.4 1765.4L1786.8 1771L1778.4 1776.6L1777 1790.6L1778.4 1799L1775.5 1807.4L1782.6 1815.8L1786.8 1824.2L1775.5 1832.6L1772.7 1843.8L1775.5 1855.1L1771.3 1863.5L1755.9 1871.9L1751.7 1878.9L1750.3 1891.5L1741.9 1902.7L1736.3 1913.9L1727.9 1922.3L1732.1 1927.9L1720.9 1923.7L1708.3 1933.5L1694.3 1941.4L1683.1 1937.7L1663.5 1943.3L1643.8 1939.1L1632.6 1934.9L1615.8 1936.3L1606 1930.7L1608.8 1916.7L1613 1908.3L1615.8 1894.3L1611.6 1880.3L1606 1873.3L1610.2 1863.5L1610.2 1849.5L1603.2 1841L1593.4 1831.2L1587.8 1825.6L1576.6 1825.6L1571 1821.4L1564 1810.2L1555.6 1814.4L1558.4 1824.2L1551.4 1838.2L1538.8 1845.2L1536 1850.9L1541.6 1860.7L1543 1880.3L1538.8 1874.7L1531.8 1871.9L1514.9 1874.7L1512.1 1880.3L1503.7 1877.5L1492.5 1873.3L1481.3 1863.5L1472.9 1849.5L1461.7 1838.2L1456.1 1831.2L1461.7 1824.2L1457.5 1810.2L1458.9 1800.4L1450.5 1803.2L1439.3 1811.6L1437.9 1806L1443.5 1794.8L1437.9 1782.2L1435.1 1776.6L1443.5 1769.6L1439.3 1765.4L1444.9 1754.2L1449.1 1743L1449.9 1726.2L1447.7 1716.3L1439.3 1709.3L1425.3 1706.5L1411.3 1705.1L1400.1 1698.1L1392.2 1686.9L1386.9 1672.9L1387.4 1657.5L1390.2 1654.7L1392.2 1663.1L1395.9 1681.3L1405.7 1695.3L1422.5 1698.1L1436.5 1698.1L1450.5 1705.1L1461.7 1712.1L1467.3 1723.4L1471.5 1737.4L1474.3 1752.8L1484.1 1750L1492.5 1757.5L1503.7 1755.6L1516.3 1750L1527.6 1745.2L1534 1747.2L1529 1734.6L1537.4 1720.5L1543 1706.5L1538.8 1699.5L1531.8 1703.7L1526.2 1698.1L1527.6 1681.3L1534.6 1667.3L1543 1653.3L1545.8 1644.9L1544.4 1636.5L1551.4 1625.3L1554.2 1619.7L1562.6 1621.1L1564 1615.5L1571 1619.7L1582.2 1618.3M1412.7 1717.7L1425.3 1715.5L1437.9 1717.2L1442.1 1726.2L1439.3 1736L1431.4 1736.8L1429.5 1728.4L1419.7 1723.9L1412.7 1717.7M1509.3 1707.9L1516.3 1709.3L1523.4 1719.1L1523.9 1729L1517.7 1730.4L1512.1 1722L1507.1 1712.1L1509.3 1707.9M1550 1863.5L1553.6 1862.1L1554.7 1870.5L1551.4 1873.3L1550 1863.5M1430.3 1796.2L1434.2 1794.8L1435.1 1808.8L1430 1810.2L1430.3 1796.2M1922.4 1646.1L1923.4 1657.2L1917.3 1657.4L1915.2 1648.9L1922.4 1646.1M1388.1 1530.4L1398.1 1526.3L1403 1528.5L1393.4 1531L1388.1 1530.4" fill="none" stroke="#000" stroke-width="1.9" stroke-linejoin="round" stroke-linecap="round"/>
<rect x="309.5" y="108.4" width="1508.0" height="754.0" fill="none" stroke="#000" stroke-width="3.3"/>
<circle cx="543.0" cy="1777.8" r="463.4" fill="none" stroke="#000" stroke-width="3.3"/>
<circle cx="1582.8" cy="1777.8" r="463.4" fill="none" stroke="#000" stroke-width="3.3"/>
<text x="1062.5" y="82.4" font-size="50" text-anchor="middle">2025-08-03</text>
<path d="M558 1023.8L505.9 1042.2L558 1060.6Z" fill="#c0c0c0"/>
<path d="M1568 1023.8L1620.1 1042.2L1568 1060.6Z" fill="#404040"/>
<rect x="558.0" y="1023.8" width="1010.0" height="36.799999999999955" fill="url(#cb)"/>
<path d="M558 1023.8L1568 1023.8L1620.1 1042.2L1568 1060.6L558 1060.6L505.9 1042.2Z" fill="none" stroke="#000" stroke-width="3.3" stroke-linejoin="miter"/>
<path d="M558 1060.6v26.8M760 1060.6v26.8M962 1060.6v26.8M1164 1060.6v26.8M1366 1060.6v26.8M1568 1060.6v26.8" stroke="#000" stroke-width="3.8" fill="none"/>
<path d="M559.6 1023.8V1060.6M1566.4 1023.8V1060.6" stroke="#000" stroke-width="3.3" fill="none"/>
<text x="558" y="1132.9" font-size="41.67" text-anchor="middle">0.00</text>
<text x="760" y="1132.9" font-size="41.67" text-anchor="middle">0.05</text>
<text x="962" y="1132.9" font-size="41.67" text-anchor="middle">0.10</text>
<text x="1164" y="1132.9" font-size="41.67" text-anchor="middle">0.15</text>
<text x="1366" y="1132.9" font-size="41.67" text-anchor="middle">0.20</text>
<text x="1568" y="1132.9" font-size="41.67" text-anchor="middle">0.25</text>
<text x="1062.5" y="1192.4" font-size="41.67" text-anchor="middle">O₃ total column [mol m⁻²]</text>
</svg></body></html>
